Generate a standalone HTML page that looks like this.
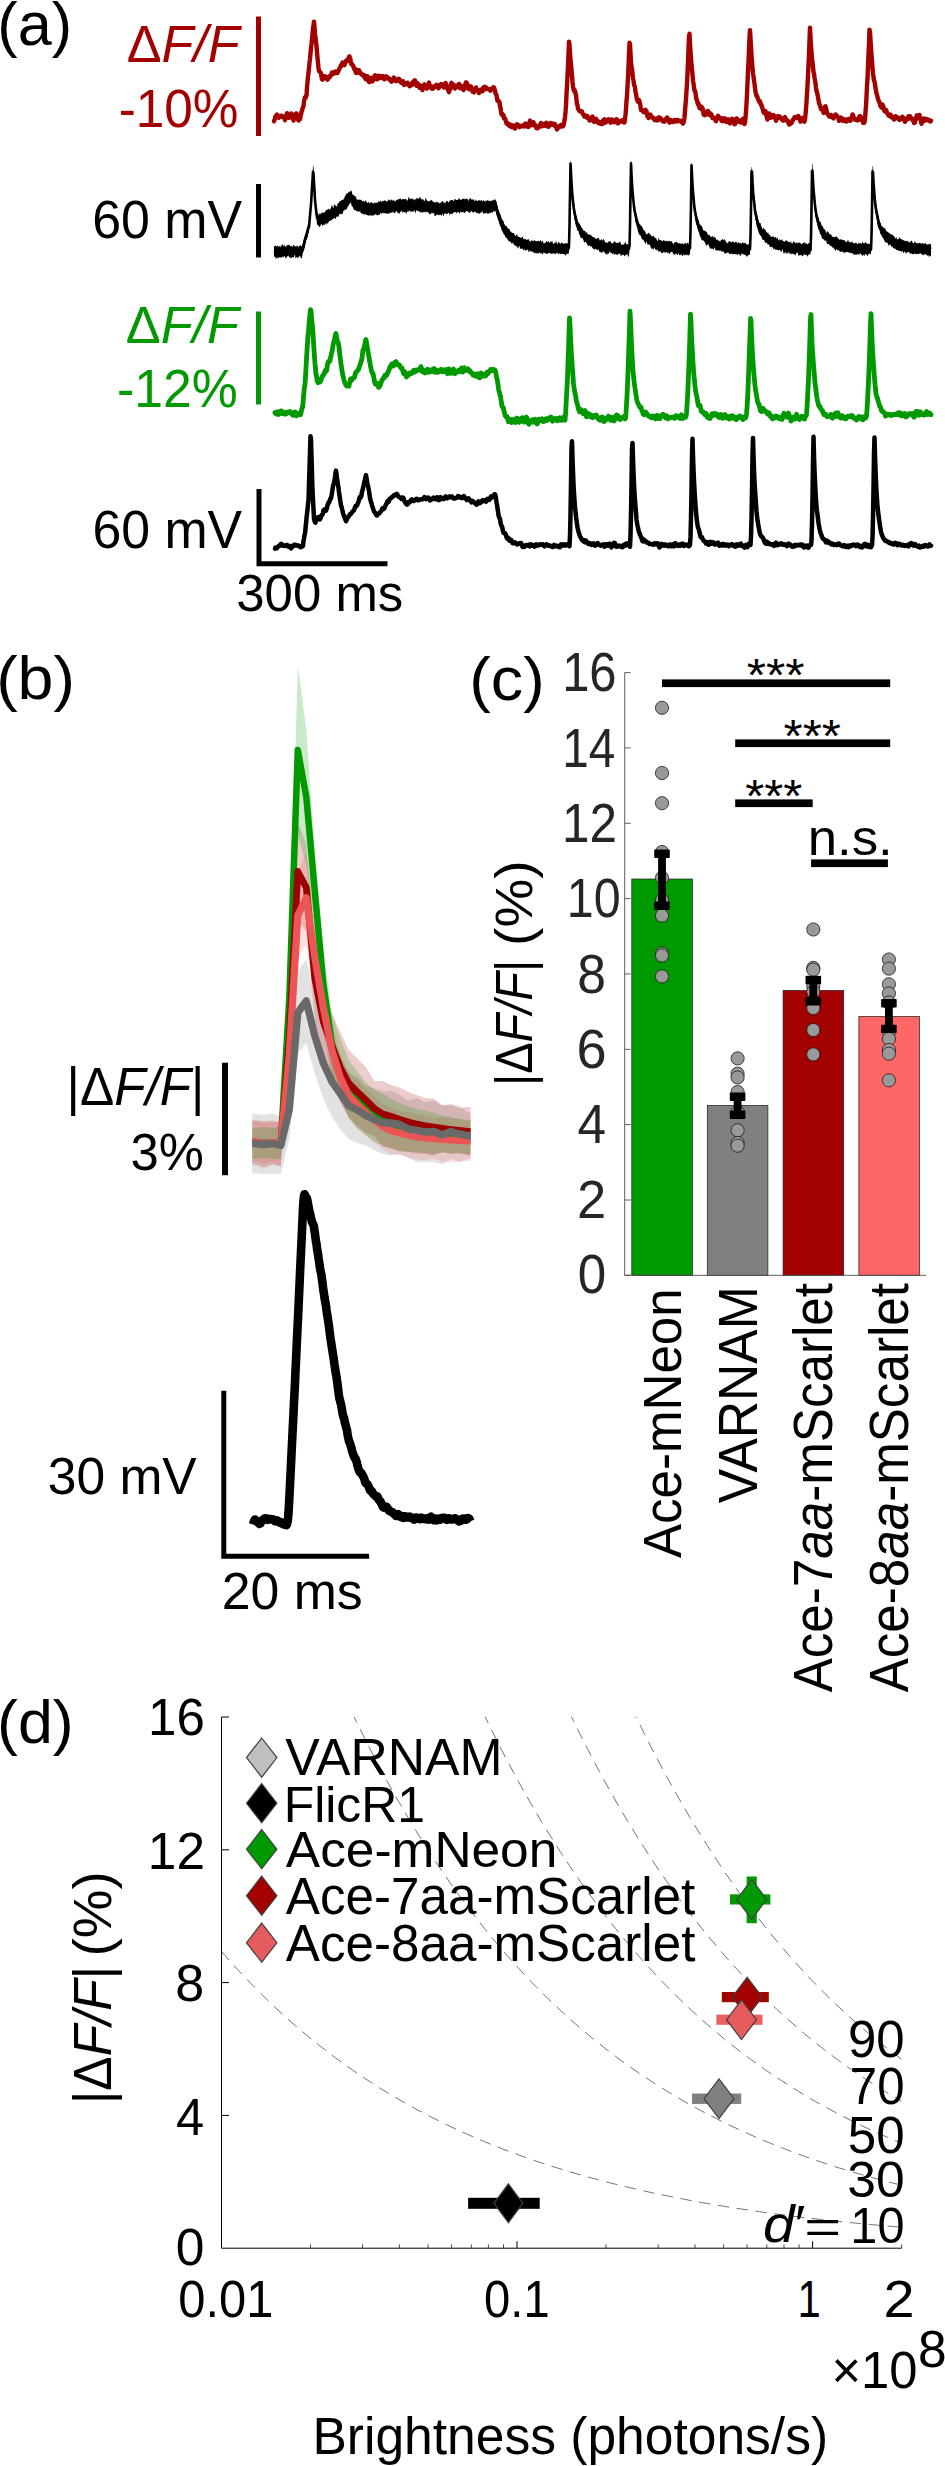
<!DOCTYPE html>
<html lang="en"><head><meta charset="utf-8"><title>Figure</title>
<style>html,body{margin:0;padding:0;background:#fff}svg{display:block}text{font-family:'Liberation Sans', Arial, Helvetica, sans-serif}</style></head><body>
<svg width="945" height="2466" viewBox="0 0 945 2466">
<rect width="945" height="2466" fill="#fff"/>
<path d="M274.0,121.3 L274.5,119.8 L275.0,118.6 L275.5,116.2 L276.0,116.7 L276.5,116.6 L277.0,114.6 L277.5,116.3 L278.0,116.9 L278.5,116.3 L279.0,117.8 L279.5,117.3 L280.0,116.5 L280.5,116.8 L281.0,115.6 L281.5,115.7 L282.0,116.0 L282.5,116.5 L283.0,116.5 L283.5,117.5 L284.0,117.5 L284.5,116.9 L285.0,120.2 L285.5,118.6 L286.0,117.1 L286.5,117.1 L287.0,113.1 L287.5,114.1 L288.0,115.1 L288.5,114.8 L289.0,117.9 L289.5,115.4 L290.0,116.3 L290.5,115.0 L291.0,113.4 L291.5,113.8 L292.0,114.7 L292.5,118.3 L293.0,118.6 L293.5,120.5 L294.0,119.0 L294.5,117.8 L295.0,117.4 L295.5,115.1 L296.0,113.5 L296.5,113.4 L297.0,116.2 L297.5,118.0 L298.0,119.2 L298.5,120.6 L299.0,118.8 L299.5,118.6 L300.0,119.3 L300.5,116.2 L301.0,114.4 L301.5,111.7 L302.0,110.7 L302.5,108.4 L303.0,107.5 L303.5,106.2 L304.0,101.6 L304.5,99.2 L305.0,97.4 L305.5,96.7 L306.0,97.0 L306.5,95.3 L307.0,87.4 L307.5,82.1 L308.0,76.5 L308.5,73.2 L309.0,68.1 L309.5,62.6 L310.0,59.2 L310.5,53.4 L311.0,47.7 L311.5,44.0 L312.0,39.5 L312.5,34.1 L313.0,28.8 L313.5,25.3 L314.0,21.6 L314.5,27.4 L315.0,33.4 L315.5,37.8 L316.0,41.6 L316.5,46.1 L317.0,52.2 L317.5,57.8 L318.0,63.0 L318.5,67.8 L319.0,71.2 L319.5,71.3 L320.0,72.1 L320.5,72.4 L321.0,73.2 L321.5,76.9 L322.0,79.2 L322.5,79.7 L323.0,79.4 L323.5,76.6 L324.0,76.3 L324.5,77.1 L325.0,76.3 L325.5,77.7 L326.0,76.9 L326.5,77.6 L327.0,78.7 L327.5,79.6 L328.0,79.3 L328.5,77.4 L329.0,77.2 L329.5,76.2 L330.0,76.9 L330.5,75.6 L331.0,75.2 L331.5,73.9 L332.0,72.6 L332.5,72.9 L333.0,74.0 L333.5,73.3 L334.0,72.5 L334.5,73.4 L335.0,71.6 L335.5,71.5 L336.0,72.8 L336.5,72.3 L337.0,72.2 L337.5,72.9 L338.0,72.1 L338.5,70.7 L339.0,69.8 L339.5,68.1 L340.0,67.7 L340.5,66.9 L341.0,65.2 L341.5,65.5 L342.0,63.7 L342.5,62.6 L343.0,64.4 L343.5,63.1 L344.0,64.3 L344.5,65.2 L345.0,63.3 L345.5,62.3 L346.0,60.8 L346.5,60.6 L347.0,60.3 L347.5,60.6 L348.0,58.9 L348.5,58.5 L349.0,57.0 L349.5,56.4 L350.0,57.8 L350.5,59.6 L351.0,63.8 L351.5,63.3 L352.0,64.2 L352.5,65.1 L353.0,65.3 L353.5,67.1 L354.0,67.9 L354.5,69.7 L355.0,68.5 L355.5,71.0 L356.0,72.8 L356.5,70.7 L357.0,72.9 L357.5,71.7 L358.0,70.1 L358.5,70.3 L359.0,70.2 L359.5,71.3 L360.0,73.2 L360.5,73.4 L361.0,73.3 L361.5,74.5 L362.0,74.4 L362.5,74.5 L363.0,75.7 L363.5,74.8 L364.0,75.0 L364.5,77.0 L365.0,78.0 L365.5,79.0 L366.0,77.3 L366.5,76.2 L367.0,76.2 L367.5,76.2 L368.0,79.5 L368.5,81.4 L369.0,80.5 L369.5,82.2 L370.0,80.8 L370.5,78.4 L371.0,80.8 L371.5,77.7 L372.0,78.8 L372.5,81.4 L373.0,79.3 L373.5,79.3 L374.0,79.4 L374.5,76.9 L375.0,75.3 L375.5,76.3 L376.0,75.8 L376.5,77.4 L377.0,79.3 L377.5,79.2 L378.0,78.2 L378.5,76.8 L379.0,75.7 L379.5,76.6 L380.0,76.4 L380.5,77.9 L381.0,77.6 L381.5,76.4 L382.0,76.6 L382.5,76.0 L383.0,77.0 L383.5,77.6 L384.0,79.2 L384.5,79.3 L385.0,78.6 L385.5,77.6 L386.0,76.2 L386.5,77.2 L387.0,76.8 L387.5,77.9 L388.0,78.7 L388.5,78.0 L389.0,78.4 L389.5,79.5 L390.0,79.0 L390.5,79.7 L391.0,81.4 L391.5,81.7 L392.0,81.4 L392.5,80.7 L393.0,80.0 L393.5,78.9 L394.0,77.6 L394.5,79.4 L395.0,79.3 L395.5,80.3 L396.0,81.1 L396.5,81.2 L397.0,80.8 L397.5,80.1 L398.0,80.0 L398.5,78.8 L399.0,79.3 L399.5,79.3 L400.0,81.2 L400.5,81.5 L401.0,82.8 L401.5,82.7 L402.0,81.5 L402.5,81.5 L403.0,81.3 L403.5,83.1 L404.0,84.9 L404.5,83.4 L405.0,83.3 L405.5,83.6 L406.0,83.1 L406.5,84.4 L407.0,84.4 L407.5,82.7 L408.0,83.4 L408.5,84.0 L409.0,85.1 L409.5,86.2 L410.0,85.1 L410.5,85.7 L411.0,85.4 L411.5,84.5 L412.0,84.8 L412.5,82.2 L413.0,82.2 L413.5,82.3 L414.0,80.8 L414.5,81.3 L415.0,80.4 L415.5,81.7 L416.0,83.7 L416.5,85.8 L417.0,85.1 L417.5,83.2 L418.0,84.2 L418.5,84.3 L419.0,85.4 L419.5,87.9 L420.0,86.2 L420.5,85.5 L421.0,86.5 L421.5,87.1 L422.0,88.1 L422.5,90.1 L423.0,88.7 L423.5,87.3 L424.0,87.3 L424.5,84.3 L425.0,85.2 L425.5,85.8 L426.0,85.9 L426.5,87.4 L427.0,88.5 L427.5,86.6 L428.0,85.4 L428.5,84.9 L429.0,82.6 L429.5,85.1 L430.0,86.8 L430.5,86.6 L431.0,87.2 L431.5,88.6 L432.0,87.7 L432.5,87.8 L433.0,88.7 L433.5,86.6 L434.0,87.4 L434.5,87.2 L435.0,85.9 L435.5,85.8 L436.0,85.6 L436.5,84.9 L437.0,87.1 L437.5,87.2 L438.0,87.1 L438.5,88.3 L439.0,87.5 L439.5,86.1 L440.0,85.1 L440.5,85.6 L441.0,84.1 L441.5,85.1 L442.0,85.0 L442.5,84.6 L443.0,85.8 L443.5,87.1 L444.0,87.5 L444.5,86.2 L445.0,85.7 L445.5,83.0 L446.0,83.5 L446.5,85.2 L447.0,86.5 L447.5,89.1 L448.0,89.0 L448.5,91.0 L449.0,92.2 L449.5,90.4 L450.0,89.0 L450.5,86.5 L451.0,84.7 L451.5,82.8 L452.0,85.0 L452.5,84.9 L453.0,84.2 L453.5,86.9 L454.0,87.8 L454.5,87.6 L455.0,88.5 L455.5,87.4 L456.0,85.7 L456.5,86.3 L457.0,86.6 L457.5,86.7 L458.0,85.4 L458.5,85.9 L459.0,83.9 L459.5,84.6 L460.0,88.3 L460.5,87.8 L461.0,88.2 L461.5,86.7 L462.0,86.2 L462.5,86.2 L463.0,87.9 L463.5,90.1 L464.0,89.0 L464.5,88.8 L465.0,87.4 L465.5,83.7 L466.0,82.3 L466.5,82.6 L467.0,83.3 L467.5,86.6 L468.0,87.9 L468.5,88.2 L469.0,89.1 L469.5,87.9 L470.0,87.8 L470.5,86.3 L471.0,86.6 L471.5,87.6 L472.0,88.5 L472.5,91.6 L473.0,91.8 L473.5,91.9 L474.0,92.3 L474.5,89.7 L475.0,89.2 L475.5,89.6 L476.0,87.5 L476.5,90.2 L477.0,89.3 L477.5,90.0 L478.0,91.2 L478.5,91.1 L479.0,93.1 L479.5,91.8 L480.0,90.9 L480.5,89.9 L481.0,89.5 L481.5,89.9 L482.0,90.8 L482.5,91.3 L483.0,88.0 L483.5,87.7 L484.0,87.0 L484.5,86.8 L485.0,88.7 L485.5,88.3 L486.0,89.2 L486.5,87.6 L487.0,88.2 L487.5,88.6 L488.0,88.6 L488.5,89.0 L489.0,89.4 L489.5,89.6 L490.0,90.1 L490.5,90.8 L491.0,88.8 L491.5,89.1 L492.0,88.6 L492.5,88.2 L493.0,88.4 L493.5,87.2 L494.0,87.5 L494.5,89.0 L495.0,90.6 L495.5,93.5 L496.0,94.4 L496.5,95.1 L497.0,98.3 L497.5,100.7 L498.0,100.3 L498.5,100.9 L499.0,101.4 L499.5,102.2 L500.0,106.0 L500.5,107.8 L501.0,111.3 L501.5,114.3 L502.0,113.4 L502.5,114.9 L503.0,115.6 L503.5,115.0 L504.0,118.4 L504.5,118.6 L505.0,118.5 L505.5,119.7 L506.0,121.5 L506.5,123.4 L507.0,124.0 L507.5,123.9 L508.0,123.2 L508.5,124.1 L509.0,125.5 L509.5,125.3 L510.0,126.2 L510.5,124.6 L511.0,125.3 L511.5,126.9 L512.0,125.7 L512.5,127.2 L513.0,125.5 L513.5,125.4 L514.0,127.3 L514.5,126.7 L515.0,128.6 L515.5,127.2 L516.0,125.7 L516.5,125.4 L517.0,124.3 L517.5,124.4 L518.0,125.2 L518.5,125.1 L519.0,126.0 L519.5,127.2 L520.0,126.6 L520.5,125.9 L521.0,125.8 L521.5,125.9 L522.0,126.3 L522.5,126.4 L523.0,126.0 L523.5,126.3 L524.0,124.7 L524.5,126.4 L525.0,125.8 L525.5,123.6 L526.0,125.8 L526.5,124.2 L527.0,124.7 L527.5,126.8 L528.0,126.5 L528.5,126.9 L529.0,124.9 L529.5,122.5 L530.0,120.6 L530.5,122.9 L531.0,124.3 L531.5,124.6 L532.0,125.1 L532.5,122.6 L533.0,122.5 L533.5,122.3 L534.0,125.1 L534.5,125.4 L535.0,124.9 L535.5,126.4 L536.0,126.2 L536.5,128.1 L537.0,128.4 L537.5,128.4 L538.0,127.2 L538.5,126.4 L539.0,127.1 L539.5,126.0 L540.0,124.7 L540.5,124.3 L541.0,123.0 L541.5,125.1 L542.0,126.3 L542.5,125.1 L543.0,125.9 L543.5,124.1 L544.0,124.0 L544.5,125.8 L545.0,124.7 L545.5,123.4 L546.0,123.8 L546.5,122.8 L547.0,124.2 L547.5,126.4 L548.0,125.9 L548.5,126.8 L549.0,125.7 L549.5,125.4 L550.0,124.7 L550.5,122.9 L551.0,124.3 L551.5,124.8 L552.0,123.7 L552.5,123.7 L553.0,123.4 L553.5,123.8 L554.0,125.0 L554.5,125.8 L555.0,124.2 L555.5,125.5 L556.0,126.6 L556.5,127.6 L557.0,129.5 L557.5,128.0 L558.0,128.1 L558.5,126.9 L559.0,127.0 L559.5,126.1 L560.0,126.8 L560.5,126.4 L561.0,125.1 L561.5,125.7 L562.0,125.6 L562.5,126.4 L563.0,126.2 L563.5,125.5 L564.0,122.5 L564.5,120.5 L565.0,117.0 L565.5,112.0 L566.0,105.4 L566.5,94.7 L567.0,85.7 L567.5,76.0 L568.0,65.3 L568.5,54.2 L569.0,41.6 L569.5,44.7 L570.0,53.2 L570.5,59.8 L571.0,64.2 L571.5,70.6 L572.0,75.1 L572.5,81.9 L573.0,86.3 L573.5,89.2 L574.0,90.8 L574.5,89.9 L575.0,90.9 L575.5,93.4 L576.0,95.3 L576.5,99.8 L577.0,104.3 L577.5,105.0 L578.0,108.9 L578.5,109.3 L579.0,110.0 L579.5,111.1 L580.0,111.3 L580.5,111.0 L581.0,111.3 L581.5,111.8 L582.0,111.5 L582.5,113.5 L583.0,113.7 L583.5,114.6 L584.0,115.9 L584.5,116.5 L585.0,115.4 L585.5,116.4 L586.0,116.8 L586.5,115.7 L587.0,117.7 L587.5,116.2 L588.0,117.3 L588.5,118.0 L589.0,117.9 L589.5,120.5 L590.0,119.2 L590.5,120.2 L591.0,119.5 L591.5,118.1 L592.0,117.1 L592.5,116.6 L593.0,118.7 L593.5,119.6 L594.0,121.9 L594.5,121.2 L595.0,119.6 L595.5,119.1 L596.0,118.9 L596.5,120.3 L597.0,121.3 L597.5,122.4 L598.0,121.8 L598.5,121.5 L599.0,122.9 L599.5,121.8 L600.0,122.2 L600.5,123.8 L601.0,122.8 L601.5,124.0 L602.0,123.4 L602.5,123.8 L603.0,121.6 L603.5,119.9 L604.0,119.6 L604.5,119.3 L605.0,121.8 L605.5,122.6 L606.0,122.5 L606.5,121.3 L607.0,121.1 L607.5,120.8 L608.0,120.6 L608.5,119.3 L609.0,119.4 L609.5,120.3 L610.0,121.8 L610.5,122.7 L611.0,120.9 L611.5,120.7 L612.0,119.6 L612.5,119.8 L613.0,121.9 L613.5,121.3 L614.0,121.3 L614.5,122.2 L615.0,122.1 L615.5,122.1 L616.0,120.3 L616.5,119.3 L617.0,119.6 L617.5,121.2 L618.0,123.4 L618.5,122.8 L619.0,121.8 L619.5,121.6 L620.0,121.1 L620.5,121.6 L621.0,121.1 L621.5,120.6 L622.0,120.2 L622.5,120.7 L623.0,121.1 L623.5,120.6 L624.0,122.5 L624.5,122.4 L625.0,118.2 L625.5,114.8 L626.0,109.0 L626.5,100.8 L627.0,95.8 L627.5,86.3 L628.0,77.5 L628.5,66.8 L629.0,53.6 L629.5,42.8 L630.0,44.2 L630.5,53.5 L631.0,62.3 L631.5,67.0 L632.0,69.3 L632.5,73.3 L633.0,78.1 L633.5,80.6 L634.0,84.7 L634.5,86.0 L635.0,87.3 L635.5,92.2 L636.0,93.6 L636.5,96.9 L637.0,99.7 L637.5,100.4 L638.0,101.7 L638.5,102.1 L639.0,100.2 L639.5,102.0 L640.0,103.4 L640.5,106.5 L641.0,110.0 L641.5,109.5 L642.0,110.4 L642.5,110.8 L643.0,110.7 L643.5,112.1 L644.0,111.6 L644.5,112.2 L645.0,111.7 L645.5,109.8 L646.0,111.2 L646.5,111.1 L647.0,114.3 L647.5,116.4 L648.0,116.0 L648.5,117.9 L649.0,116.4 L649.5,116.8 L650.0,117.3 L650.5,114.6 L651.0,116.1 L651.5,116.3 L652.0,117.0 L652.5,117.7 L653.0,118.0 L653.5,117.9 L654.0,119.1 L654.5,120.0 L655.0,118.9 L655.5,118.8 L656.0,119.0 L656.5,120.4 L657.0,120.3 L657.5,120.3 L658.0,118.6 L658.5,117.4 L659.0,117.3 L659.5,118.2 L660.0,119.5 L660.5,118.1 L661.0,119.1 L661.5,119.5 L662.0,119.5 L662.5,121.2 L663.0,121.4 L663.5,121.3 L664.0,120.7 L664.5,121.6 L665.0,120.4 L665.5,119.7 L666.0,119.1 L666.5,118.1 L667.0,117.6 L667.5,117.8 L668.0,119.7 L668.5,119.8 L669.0,121.8 L669.5,122.6 L670.0,121.8 L670.5,121.5 L671.0,120.1 L671.5,120.5 L672.0,120.9 L672.5,120.8 L673.0,122.1 L673.5,121.6 L674.0,121.2 L674.5,120.2 L675.0,119.9 L675.5,120.0 L676.0,120.5 L676.5,121.5 L677.0,120.4 L677.5,119.9 L678.0,120.1 L678.5,120.4 L679.0,121.1 L679.5,120.9 L680.0,121.0 L680.5,121.3 L681.0,120.8 L681.5,121.9 L682.0,122.4 L682.5,122.9 L683.0,123.5 L683.5,122.6 L684.0,120.4 L684.5,117.5 L685.0,111.0 L685.5,105.0 L686.0,98.7 L686.5,90.8 L687.0,83.8 L687.5,73.4 L688.0,61.6 L688.5,48.6 L689.0,36.5 L689.5,33.6 L690.0,43.7 L690.5,51.5 L691.0,58.0 L691.5,64.8 L692.0,69.2 L692.5,74.5 L693.0,80.3 L693.5,83.5 L694.0,87.3 L694.5,90.7 L695.0,91.0 L695.5,92.8 L696.0,96.7 L696.5,99.7 L697.0,100.4 L697.5,102.6 L698.0,104.3 L698.5,103.3 L699.0,106.2 L699.5,108.0 L700.0,106.7 L700.5,108.5 L701.0,109.0 L701.5,106.6 L702.0,108.1 L702.5,108.1 L703.0,109.6 L703.5,114.0 L704.0,114.8 L704.5,115.1 L705.0,115.2 L705.5,113.8 L706.0,114.6 L706.5,113.9 L707.0,112.8 L707.5,111.1 L708.0,111.0 L708.5,112.6 L709.0,113.4 L709.5,114.9 L710.0,114.1 L710.5,113.5 L711.0,114.0 L711.5,114.5 L712.0,116.5 L712.5,117.9 L713.0,117.6 L713.5,117.8 L714.0,117.8 L714.5,118.0 L715.0,119.2 L715.5,120.6 L716.0,121.1 L716.5,119.7 L717.0,118.9 L717.5,116.7 L718.0,115.8 L718.5,116.7 L719.0,116.9 L719.5,117.9 L720.0,118.2 L720.5,118.5 L721.0,118.7 L721.5,120.7 L722.0,119.2 L722.5,118.2 L723.0,121.2 L723.5,119.7 L724.0,120.3 L724.5,120.8 L725.0,118.3 L725.5,119.5 L726.0,120.8 L726.5,122.0 L727.0,121.9 L727.5,119.8 L728.0,119.4 L728.5,120.4 L729.0,121.7 L729.5,123.0 L730.0,123.5 L730.5,121.8 L731.0,120.7 L731.5,119.8 L732.0,118.8 L732.5,119.3 L733.0,119.2 L733.5,121.1 L734.0,123.2 L734.5,124.3 L735.0,124.2 L735.5,122.8 L736.0,120.5 L736.5,118.4 L737.0,118.7 L737.5,119.8 L738.0,120.6 L738.5,121.7 L739.0,121.8 L739.5,121.3 L740.0,120.5 L740.5,121.9 L741.0,122.7 L741.5,122.0 L742.0,121.9 L742.5,119.7 L743.0,118.8 L743.5,120.8 L744.0,122.6 L744.5,124.0 L745.0,122.5 L745.5,117.8 L746.0,111.7 L746.5,104.0 L747.0,94.6 L747.5,82.6 L748.0,71.6 L748.5,61.8 L749.0,49.4 L749.5,37.7 L750.0,30.1 L750.5,38.1 L751.0,46.6 L751.5,56.0 L752.0,62.0 L752.5,68.3 L753.0,73.2 L753.5,76.6 L754.0,80.3 L754.5,83.7 L755.0,88.4 L755.5,91.7 L756.0,93.9 L756.5,96.1 L757.0,95.9 L757.5,97.2 L758.0,99.3 L758.5,99.7 L759.0,101.4 L759.5,102.0 L760.0,101.3 L760.5,103.0 L761.0,104.9 L761.5,105.0 L762.0,107.0 L762.5,108.4 L763.0,109.8 L763.5,112.3 L764.0,112.7 L764.5,112.0 L765.0,111.1 L765.5,111.2 L766.0,114.0 L766.5,116.1 L767.0,118.4 L767.5,119.5 L768.0,116.1 L768.5,115.0 L769.0,113.4 L769.5,113.7 L770.0,117.0 L770.5,116.9 L771.0,117.6 L771.5,117.2 L772.0,115.4 L772.5,115.7 L773.0,115.2 L773.5,115.8 L774.0,115.6 L774.5,117.4 L775.0,118.3 L775.5,118.3 L776.0,120.8 L776.5,119.3 L777.0,118.6 L777.5,118.4 L778.0,116.1 L778.5,116.2 L779.0,117.0 L779.5,116.9 L780.0,116.8 L780.5,117.2 L781.0,118.0 L781.5,119.2 L782.0,118.6 L782.5,120.2 L783.0,120.6 L783.5,118.4 L784.0,119.0 L784.5,118.2 L785.0,117.1 L785.5,118.3 L786.0,120.5 L786.5,119.8 L787.0,120.4 L787.5,120.8 L788.0,120.9 L788.5,122.9 L789.0,124.4 L789.5,124.2 L790.0,123.2 L790.5,123.8 L791.0,122.9 L791.5,123.1 L792.0,122.3 L792.5,120.9 L793.0,119.6 L793.5,118.8 L794.0,118.6 L794.5,117.4 L795.0,118.2 L795.5,117.3 L796.0,117.7 L796.5,118.1 L797.0,116.9 L797.5,117.2 L798.0,117.3 L798.5,116.0 L799.0,117.8 L799.5,118.1 L800.0,119.6 L800.5,121.7 L801.0,120.1 L801.5,121.0 L802.0,119.9 L802.5,118.0 L803.0,118.8 L803.5,118.5 L804.0,119.7 L804.5,121.7 L805.0,119.0 L805.5,114.7 L806.0,109.0 L806.5,102.3 L807.0,93.1 L807.5,85.8 L808.0,75.2 L808.5,64.8 L809.0,55.0 L809.5,40.6 L810.0,27.6 L810.5,37.1 L811.0,46.0 L811.5,52.0 L812.0,59.1 L812.5,62.3 L813.0,66.4 L813.5,71.9 L814.0,73.5 L814.5,77.3 L815.0,80.4 L815.5,83.6 L816.0,87.8 L816.5,90.8 L817.0,92.3 L817.5,94.5 L818.0,97.1 L818.5,99.8 L819.0,102.6 L819.5,104.6 L820.0,105.6 L820.5,107.0 L821.0,109.4 L821.5,109.4 L822.0,109.1 L822.5,110.0 L823.0,110.6 L823.5,112.9 L824.0,111.6 L824.5,110.6 L825.0,106.6 L825.5,106.4 L826.0,109.1 L826.5,109.8 L827.0,113.1 L827.5,114.0 L828.0,114.1 L828.5,115.3 L829.0,116.3 L829.5,115.7 L830.0,116.7 L830.5,116.2 L831.0,114.9 L831.5,115.5 L832.0,116.0 L832.5,116.0 L833.0,117.9 L833.5,118.3 L834.0,116.6 L834.5,116.8 L835.0,115.9 L835.5,114.4 L836.0,116.0 L836.5,115.5 L837.0,115.7 L837.5,116.9 L838.0,117.1 L838.5,118.3 L839.0,120.9 L839.5,120.3 L840.0,120.3 L840.5,119.0 L841.0,117.5 L841.5,119.1 L842.0,120.1 L842.5,120.7 L843.0,120.1 L843.5,120.3 L844.0,119.1 L844.5,120.7 L845.0,120.1 L845.5,120.3 L846.0,121.4 L846.5,121.0 L847.0,121.2 L847.5,119.8 L848.0,119.1 L848.5,118.9 L849.0,119.6 L849.5,119.6 L850.0,119.7 L850.5,120.8 L851.0,119.1 L851.5,118.0 L852.0,116.4 L852.5,114.5 L853.0,114.8 L853.5,116.6 L854.0,118.2 L854.5,118.6 L855.0,119.6 L855.5,119.3 L856.0,119.4 L856.5,119.9 L857.0,119.9 L857.5,120.4 L858.0,118.9 L858.5,119.8 L859.0,117.6 L859.5,116.4 L860.0,116.7 L860.5,116.3 L861.0,117.8 L861.5,120.1 L862.0,119.8 L862.5,120.9 L863.0,122.7 L863.5,121.1 L864.0,122.9 L864.5,122.2 L865.0,119.2 L865.5,112.0 L866.0,106.3 L866.5,96.9 L867.0,85.8 L867.5,79.0 L868.0,66.2 L868.5,54.7 L869.0,44.1 L869.5,29.7 L870.0,32.1 L870.5,40.1 L871.0,48.0 L871.5,55.1 L872.0,60.4 L872.5,68.6 L873.0,73.2 L873.5,76.9 L874.0,80.6 L874.5,81.4 L875.0,84.3 L875.5,88.0 L876.0,90.5 L876.5,93.4 L877.0,94.8 L877.5,96.8 L878.0,99.2 L878.5,100.0 L879.0,101.7 L879.5,102.5 L880.0,103.8 L880.5,106.3 L881.0,106.6 L881.5,107.5 L882.0,105.7 L882.5,104.5 L883.0,105.9 L883.5,107.0 L884.0,109.9 L884.5,111.1 L885.0,110.3 L885.5,110.6 L886.0,110.0 L886.5,111.1 L887.0,112.9 L887.5,113.6 L888.0,114.7 L888.5,115.5 L889.0,115.2 L889.5,115.8 L890.0,115.0 L890.5,114.6 L891.0,117.0 L891.5,116.7 L892.0,116.3 L892.5,117.8 L893.0,117.2 L893.5,118.2 L894.0,119.6 L894.5,118.7 L895.0,117.8 L895.5,116.2 L896.0,117.6 L896.5,117.1 L897.0,117.0 L897.5,117.4 L898.0,117.8 L898.5,119.1 L899.0,119.4 L899.5,119.9 L900.0,118.7 L900.5,118.8 L901.0,117.7 L901.5,118.7 L902.0,118.1 L902.5,116.8 L903.0,118.0 L903.5,118.0 L904.0,119.9 L904.5,120.7 L905.0,121.7 L905.5,120.2 L906.0,119.1 L906.5,119.8 L907.0,118.0 L907.5,118.3 L908.0,118.6 L908.5,116.3 L909.0,117.4 L909.5,118.4 L910.0,116.2 L910.5,117.5 L911.0,117.9 L911.5,118.2 L912.0,118.6 L912.5,120.1 L913.0,120.3 L913.5,120.7 L914.0,123.0 L914.5,122.3 L915.0,122.5 L915.5,119.7 L916.0,117.4 L916.5,116.2 L917.0,115.4 L917.5,117.9 L918.0,117.6 L918.5,118.2 L919.0,117.3 L919.5,115.0 L920.0,118.1 L920.5,118.5 L921.0,121.3 L921.5,123.8 L922.0,121.6 L922.5,119.8 L923.0,120.2 L923.5,118.7 L924.0,118.5 L924.5,120.9 L925.0,119.1 L925.5,118.9 L926.0,119.6 L926.5,119.1 L927.0,119.1 L927.5,120.4 L928.0,120.4 L928.5,120.0 L929.0,120.5 L929.5,120.0 L930.0,121.4 L930.5,121.5 L931.0,120.7" fill="none" stroke="#a30000" stroke-width="4.4" stroke-linejoin="round" stroke-linecap="round"/>
<polygon points="274.0,245.9 274.5,246.5 275.0,245.6 275.5,245.7 276.0,246.4 276.5,246.2 277.0,246.1 277.5,245.2 278.0,246.3 278.5,246.8 279.0,246.9 279.5,246.0 280.0,245.3 280.5,246.9 281.0,247.0 281.5,245.5 282.0,244.3 282.5,244.3 283.0,245.5 283.5,246.3 284.0,245.0 284.5,245.3 285.0,246.4 285.5,246.5 286.0,247.0 286.5,245.8 287.0,244.8 287.5,245.2 288.0,245.2 288.5,244.9 289.0,244.4 289.5,245.0 290.0,246.0 290.5,246.5 291.0,245.8 291.5,245.5 292.0,246.9 292.5,246.8 293.0,245.9 293.5,245.3 294.0,244.8 294.5,245.7 295.0,246.6 295.5,246.4 296.0,246.6 296.5,246.5 297.0,245.6 297.5,245.5 298.0,246.7 298.5,247.3 299.0,245.7 299.5,245.7 300.0,245.9 300.5,245.1 301.0,245.6 301.5,246.5 302.0,246.2 302.5,244.3 303.0,242.5 303.5,240.1 304.0,238.5 304.5,236.7 305.0,234.6 305.5,233.4 306.0,231.6 306.5,229.5 307.0,228.6 307.5,226.7 308.0,224.1 308.5,222.5 309.0,221.8 309.5,215.8 310.0,209.0 310.5,203.8 311.0,198.8 311.5,191.4 312.0,183.1 312.5,174.5 313.0,165.0 313.5,166.7 314.0,176.4 314.5,185.9 315.0,195.8 315.5,199.7 316.0,203.2 316.5,207.1 317.0,211.8 317.5,213.9 318.0,214.2 318.5,214.4 319.0,214.9 319.5,213.2 320.0,213.3 320.5,213.6 321.0,214.4 321.5,213.3 322.0,212.3 322.5,212.2 323.0,212.5 323.5,212.9 324.0,212.8 324.5,212.6 325.0,211.7 325.5,211.2 326.0,210.1 326.5,209.7 327.0,210.0 327.5,209.9 328.0,208.7 328.5,208.7 329.0,208.9 329.5,209.3 330.0,210.1 330.5,208.6 331.0,207.9 331.5,206.1 332.0,204.4 332.5,206.5 333.0,208.2 333.5,207.2 334.0,205.3 334.5,204.3 335.0,204.8 335.5,205.8 336.0,206.1 336.5,206.4 337.0,206.3 337.5,204.3 338.0,202.6 338.5,203.2 339.0,203.1 339.5,201.2 340.0,200.7 340.5,201.4 341.0,200.8 341.5,199.9 342.0,199.8 342.5,200.0 343.0,199.9 343.5,199.2 344.0,198.8 344.5,197.5 345.0,196.1 345.5,195.6 346.0,194.4 346.5,193.5 347.0,193.2 347.5,193.2 348.0,193.5 348.5,191.8 349.0,191.4 349.5,192.3 350.0,191.7 350.5,190.6 351.0,190.5 351.5,191.0 352.0,192.3 352.5,194.7 353.0,195.4 353.5,194.4 354.0,195.0 354.5,196.2 355.0,196.4 355.5,196.0 356.0,196.9 356.5,198.9 357.0,199.7 357.5,199.2 358.0,200.1 358.5,199.8 359.0,199.5 359.5,199.8 360.0,199.5 360.5,200.2 361.0,199.6 361.5,199.9 362.0,201.4 362.5,201.2 363.0,200.6 363.5,200.9 364.0,202.1 364.5,201.8 365.0,201.0 365.5,200.3 366.0,200.8 366.5,201.9 367.0,202.2 367.5,203.2 368.0,202.9 368.5,201.7 369.0,202.3 369.5,203.2 370.0,203.4 370.5,202.3 371.0,202.1 371.5,202.6 372.0,202.8 372.5,203.0 373.0,202.7 373.5,204.0 374.0,203.5 374.5,201.9 375.0,203.0 375.5,203.3 376.0,202.3 376.5,202.7 377.0,202.6 377.5,202.9 378.0,202.6 378.5,200.8 379.0,201.6 379.5,202.2 380.0,200.6 380.5,200.4 381.0,201.4 381.5,201.9 382.0,201.5 382.5,201.0 383.0,200.6 383.5,201.3 384.0,201.0 384.5,200.3 385.0,200.5 385.5,200.6 386.0,201.6 386.5,201.5 387.0,201.3 387.5,201.2 388.0,200.3 388.5,199.4 389.0,199.6 389.5,200.5 390.0,200.8 390.5,200.2 391.0,199.3 391.5,199.7 392.0,200.4 392.5,200.6 393.0,200.4 393.5,199.4 394.0,201.1 394.5,201.4 395.0,200.1 395.5,201.5 396.0,201.0 396.5,199.7 397.0,199.6 397.5,200.3 398.0,199.3 398.5,198.5 399.0,199.8 399.5,199.0 400.0,198.4 400.5,198.8 401.0,198.5 401.5,200.0 402.0,199.7 402.5,198.7 403.0,199.5 403.5,198.7 404.0,199.3 404.5,199.6 405.0,198.7 405.5,198.9 406.0,199.0 406.5,199.8 407.0,200.7 407.5,200.5 408.0,199.6 408.5,196.9 409.0,196.9 409.5,199.0 410.0,199.2 410.5,198.5 411.0,198.1 411.5,199.2 412.0,199.0 412.5,198.4 413.0,198.4 413.5,199.5 414.0,200.8 414.5,199.3 415.0,199.4 415.5,199.5 416.0,198.3 416.5,198.4 417.0,198.4 417.5,198.3 418.0,198.2 418.5,198.7 419.0,199.0 419.5,197.3 420.0,196.7 420.5,198.1 421.0,198.6 421.5,199.4 422.0,199.5 422.5,199.4 423.0,199.1 423.5,199.5 424.0,201.4 424.5,201.3 425.0,199.7 425.5,198.1 426.0,198.0 426.5,200.0 427.0,200.8 427.5,200.8 428.0,200.9 428.5,200.9 429.0,201.8 429.5,201.2 430.0,200.3 430.5,200.7 431.0,200.8 431.5,199.7 432.0,200.0 432.5,201.5 433.0,201.2 433.5,202.0 434.0,202.2 434.5,201.9 435.0,202.9 435.5,202.6 436.0,201.3 436.5,202.0 437.0,202.5 437.5,201.8 438.0,203.0 438.5,202.6 439.0,202.2 439.5,203.5 440.0,203.4 440.5,202.9 441.0,202.1 441.5,202.0 442.0,201.4 442.5,200.8 443.0,201.9 443.5,202.4 444.0,201.9 444.5,202.4 445.0,203.7 445.5,203.0 446.0,201.4 446.5,200.7 447.0,201.0 447.5,201.1 448.0,202.2 448.5,202.2 449.0,201.9 449.5,201.2 450.0,200.1 450.5,200.6 451.0,200.3 451.5,200.1 452.0,200.1 452.5,200.0 453.0,200.4 453.5,201.3 454.0,200.7 454.5,199.2 455.0,198.8 455.5,199.6 456.0,199.8 456.5,199.9 457.0,199.9 457.5,200.0 458.0,200.1 458.5,198.6 459.0,198.2 459.5,198.4 460.0,199.2 460.5,200.3 461.0,199.9 461.5,199.2 462.0,199.2 462.5,198.9 463.0,199.0 463.5,198.8 464.0,197.9 464.5,199.2 465.0,199.4 465.5,198.9 466.0,198.6 466.5,198.7 467.0,199.0 467.5,198.4 468.0,200.0 468.5,201.3 469.0,199.7 469.5,198.6 470.0,198.1 470.5,198.0 471.0,199.4 471.5,199.4 472.0,199.2 472.5,199.6 473.0,199.6 473.5,199.4 474.0,200.0 474.5,200.9 475.0,201.4 475.5,199.7 476.0,199.2 476.5,200.9 477.0,201.1 477.5,201.1 478.0,200.8 478.5,200.2 479.0,200.0 479.5,200.2 480.0,200.7 480.5,201.0 481.0,200.0 481.5,199.9 482.0,200.4 482.5,201.5 483.0,201.4 483.5,200.2 484.0,199.8 484.5,201.4 485.0,202.1 485.5,200.7 486.0,200.6 486.5,200.9 487.0,200.8 487.5,200.1 488.0,200.2 488.5,200.8 489.0,200.9 489.5,200.9 490.0,200.8 490.5,200.8 491.0,201.7 491.5,200.4 492.0,200.1 492.5,200.8 493.0,200.3 493.5,200.2 494.0,199.9 494.5,199.6 495.0,199.3 495.5,199.8 496.0,200.8 496.5,201.3 497.0,203.8 497.5,206.2 498.0,208.6 498.5,210.3 499.0,211.0 499.5,212.7 500.0,213.8 500.5,214.7 501.0,216.3 501.5,217.7 502.0,219.2 502.5,219.9 503.0,220.4 503.5,221.3 504.0,222.9 504.5,224.4 505.0,224.7 505.5,226.1 506.0,226.2 506.5,225.7 507.0,227.0 507.5,228.2 508.0,228.3 508.5,228.7 509.0,228.7 509.5,228.8 510.0,231.2 510.5,231.5 511.0,231.4 511.5,232.5 512.0,232.8 512.5,233.0 513.0,233.1 513.5,233.0 514.0,233.2 514.5,234.4 515.0,235.7 515.5,236.0 516.0,235.4 516.5,234.8 517.0,234.3 517.5,235.7 518.0,236.9 518.5,236.6 519.0,237.0 519.5,237.1 520.0,237.2 520.5,237.6 521.0,238.0 521.5,237.9 522.0,237.1 522.5,236.6 523.0,237.6 523.5,239.3 524.0,239.3 524.5,239.3 525.0,238.7 525.5,238.9 526.0,239.5 526.5,240.0 527.0,240.3 527.5,239.6 528.0,238.7 528.5,239.3 529.0,240.0 529.5,240.9 530.0,241.8 530.5,241.3 531.0,241.0 531.5,240.4 532.0,239.9 532.5,241.1 533.0,241.2 533.5,241.0 534.0,240.4 534.5,239.7 535.0,240.7 535.5,241.0 536.0,241.2 536.5,241.1 537.0,241.6 537.5,241.2 538.0,240.8 538.5,240.8 539.0,241.1 539.5,241.2 540.0,241.6 540.5,240.1 541.0,240.1 541.5,242.4 542.0,241.5 542.5,240.6 543.0,241.6 543.5,243.3 544.0,243.6 544.5,243.3 545.0,243.0 545.5,242.6 546.0,241.7 546.5,241.0 547.0,242.0 547.5,242.3 548.0,241.5 548.5,241.1 549.0,241.7 549.5,242.9 550.0,242.5 550.5,241.3 551.0,242.0 551.5,241.8 552.0,240.6 552.5,241.8 553.0,243.7 553.5,243.9 554.0,243.2 554.5,242.6 555.0,243.4 555.5,242.4 556.0,240.2 556.5,242.0 557.0,244.3 557.5,244.0 558.0,242.8 558.5,242.0 559.0,241.9 559.5,242.7 560.0,244.2 560.5,243.9 561.0,242.3 561.5,242.8 562.0,243.1 562.5,242.9 563.0,243.2 563.5,244.0 564.0,243.7 564.5,243.8 565.0,243.3 565.5,243.0 566.0,243.5 566.5,243.4 567.0,243.5 567.5,243.3 568.0,243.2 568.5,243.5 569.0,241.6 569.5,221.0 570.0,188.2 570.5,158.8 571.0,169.4 571.5,178.2 572.0,185.1 572.5,190.6 573.0,195.8 573.5,198.6 574.0,202.3 574.5,206.8 575.0,209.3 575.5,212.0 576.0,214.8 576.5,216.1 577.0,216.9 577.5,220.4 578.0,222.4 578.5,222.1 579.0,223.4 579.5,223.6 580.0,224.5 580.5,225.5 581.0,226.3 581.5,227.7 582.0,227.7 582.5,228.5 583.0,229.6 583.5,230.4 584.0,231.3 584.5,230.8 585.0,230.5 585.5,232.0 586.0,233.4 586.5,231.9 587.0,232.0 587.5,234.3 588.0,234.0 588.5,234.3 589.0,235.2 589.5,234.6 590.0,234.2 590.5,235.1 591.0,235.2 591.5,235.5 592.0,236.6 592.5,236.8 593.0,237.1 593.5,237.1 594.0,237.0 594.5,237.9 595.0,238.2 595.5,238.3 596.0,238.9 596.5,238.9 597.0,238.3 597.5,238.2 598.0,238.3 598.5,237.7 599.0,238.6 599.5,240.0 600.0,240.5 600.5,240.2 601.0,239.5 601.5,238.9 602.0,240.2 602.5,240.7 603.0,239.6 603.5,238.9 604.0,239.5 604.5,240.9 605.0,242.0 605.5,242.5 606.0,242.4 606.5,242.6 607.0,242.6 607.5,242.9 608.0,242.6 608.5,241.6 609.0,241.3 609.5,241.6 610.0,241.5 610.5,241.0 611.0,242.4 611.5,243.2 612.0,243.2 612.5,243.6 613.0,242.9 613.5,242.5 614.0,241.9 614.5,240.7 615.0,241.4 615.5,242.6 616.0,243.0 616.5,242.9 617.0,242.6 617.5,243.0 618.0,243.1 618.5,242.9 619.0,242.6 619.5,241.8 620.0,241.5 620.5,242.3 621.0,244.1 621.5,244.9 622.0,244.4 622.5,244.3 623.0,245.0 623.5,244.5 624.0,244.2 624.5,243.6 625.0,242.1 625.5,242.6 626.0,243.5 626.5,244.3 627.0,244.4 627.5,243.9 628.0,244.6 628.5,245.3 629.0,243.8 629.5,240.6 630.0,221.8 630.5,188.9 631.0,157.9 631.5,168.2 632.0,177.0 632.5,185.0 633.0,190.8 633.5,195.4 634.0,201.1 634.5,204.1 635.0,206.7 635.5,209.8 636.0,212.9 636.5,216.2 637.0,217.5 637.5,218.9 638.0,219.5 638.5,221.3 639.0,223.0 639.5,223.7 640.0,224.5 640.5,224.8 641.0,226.2 641.5,225.9 642.0,226.3 642.5,227.6 643.0,228.9 643.5,230.2 644.0,230.0 644.5,230.4 645.0,231.2 645.5,232.2 646.0,234.1 646.5,234.5 647.0,233.7 647.5,233.9 648.0,233.4 648.5,232.4 649.0,232.9 649.5,233.9 650.0,234.2 650.5,234.7 651.0,235.0 651.5,235.9 652.0,236.7 652.5,236.6 653.0,235.7 653.5,235.8 654.0,236.1 654.5,237.5 655.0,238.4 655.5,237.7 656.0,237.8 656.5,239.0 657.0,240.5 657.5,241.1 658.0,240.5 658.5,238.2 659.0,238.1 659.5,240.2 660.0,240.3 660.5,239.9 661.0,240.2 661.5,240.4 662.0,241.3 662.5,241.5 663.0,240.6 663.5,240.2 664.0,240.1 664.5,240.9 665.0,241.2 665.5,240.6 666.0,241.2 666.5,240.7 667.0,240.9 667.5,241.6 668.0,241.2 668.5,241.1 669.0,241.1 669.5,240.8 670.0,241.1 670.5,242.1 671.0,241.1 671.5,241.0 672.0,242.2 672.5,242.6 673.0,244.1 673.5,244.1 674.0,243.0 674.5,242.3 675.0,242.4 675.5,242.3 676.0,241.8 676.5,241.8 677.0,242.4 677.5,242.9 678.0,243.1 678.5,243.6 679.0,242.8 679.5,243.0 680.0,243.9 680.5,243.1 681.0,244.3 681.5,244.0 682.0,243.1 682.5,243.4 683.0,243.4 683.5,244.4 684.0,244.2 684.5,243.3 685.0,242.9 685.5,242.7 686.0,244.2 686.5,243.9 687.0,242.6 687.5,242.8 688.0,242.9 688.5,243.8 689.0,243.8 689.5,243.6 690.0,241.3 690.5,224.8 691.0,198.4 691.5,160.6 692.0,169.5 692.5,178.3 693.0,187.6 693.5,192.6 694.0,196.2 694.5,201.7 695.0,205.2 695.5,208.6 696.0,212.3 696.5,213.7 697.0,215.4 697.5,217.5 698.0,218.8 698.5,220.0 699.0,221.3 699.5,224.0 700.0,224.7 700.5,224.8 701.0,225.6 701.5,226.1 702.0,226.6 702.5,227.5 703.0,230.0 703.5,230.7 704.0,229.8 704.5,230.4 705.0,231.5 705.5,231.0 706.0,231.3 706.5,232.0 707.0,232.2 707.5,234.0 708.0,235.0 708.5,234.8 709.0,234.4 709.5,235.1 710.0,236.3 710.5,236.8 711.0,236.6 711.5,236.8 712.0,237.2 712.5,235.9 713.0,235.7 713.5,237.5 714.0,237.9 714.5,236.8 715.0,236.7 715.5,237.8 716.0,239.1 716.5,240.2 717.0,239.9 717.5,239.2 718.0,240.1 718.5,240.9 719.0,240.2 719.5,240.9 720.0,242.0 720.5,240.9 721.0,239.8 721.5,239.8 722.0,239.7 722.5,239.1 723.0,239.3 723.5,240.4 724.0,239.9 724.5,238.9 725.0,239.7 725.5,241.2 726.0,241.6 726.5,242.4 727.0,242.9 727.5,243.2 728.0,243.3 728.5,241.5 729.0,241.3 729.5,241.1 730.0,241.2 730.5,242.1 731.0,242.3 731.5,242.2 732.0,242.1 732.5,241.8 733.0,240.9 733.5,241.5 734.0,243.0 734.5,243.0 735.0,241.7 735.5,241.7 736.0,242.3 736.5,242.2 737.0,241.7 737.5,243.7 738.0,243.6 738.5,241.8 739.0,242.4 739.5,243.2 740.0,243.3 740.5,242.7 741.0,243.7 741.5,243.7 742.0,242.9 742.5,242.5 743.0,242.2 743.5,243.1 744.0,243.5 744.5,243.1 745.0,243.1 745.5,243.1 746.0,243.6 746.5,244.6 747.0,244.6 747.5,244.7 748.0,244.8 748.5,243.9 749.0,244.4 749.5,245.3 750.0,244.0 750.5,230.2 751.0,203.5 751.5,166.9 752.0,167.6 752.5,176.3 753.0,182.5 753.5,188.5 754.0,195.8 754.5,200.4 755.0,202.9 755.5,206.1 756.0,210.2 756.5,213.1 757.0,213.5 757.5,215.8 758.0,218.5 758.5,219.9 759.0,222.1 759.5,223.1 760.0,223.0 760.5,223.1 761.0,225.1 761.5,226.8 762.0,227.6 762.5,229.2 763.0,229.1 763.5,227.7 764.0,227.8 764.5,229.5 765.0,230.1 765.5,229.8 766.0,231.2 766.5,232.3 767.0,232.7 767.5,233.0 768.0,232.2 768.5,233.3 769.0,235.3 769.5,234.7 770.0,234.3 770.5,236.2 771.0,237.1 771.5,236.8 772.0,236.9 772.5,236.5 773.0,235.9 773.5,236.5 774.0,237.2 774.5,237.7 775.0,237.5 775.5,236.6 776.0,237.5 776.5,238.9 777.0,237.8 777.5,237.1 778.0,238.9 778.5,240.5 779.0,240.4 779.5,239.0 780.0,239.3 780.5,240.2 781.0,240.3 781.5,240.0 782.0,239.1 782.5,240.3 783.0,241.4 783.5,240.9 784.0,241.2 784.5,241.9 785.0,241.2 785.5,240.6 786.0,240.7 786.5,240.1 787.0,240.8 787.5,241.4 788.0,241.5 788.5,242.0 789.0,241.7 789.5,241.8 790.0,242.9 790.5,242.0 791.0,241.2 791.5,242.7 792.0,244.1 792.5,243.5 793.0,242.0 793.5,241.5 794.0,241.4 794.5,242.2 795.0,242.5 795.5,243.2 796.0,243.5 796.5,242.2 797.0,242.7 797.5,243.3 798.0,243.0 798.5,242.8 799.0,242.1 799.5,242.8 800.0,243.0 800.5,243.1 801.0,244.2 801.5,244.0 802.0,243.7 802.5,243.6 803.0,243.3 803.5,243.1 804.0,242.2 804.5,242.0 805.0,243.4 805.5,243.4 806.0,243.0 806.5,243.3 807.0,244.2 807.5,244.6 808.0,243.9 808.5,243.1 809.0,242.9 809.5,243.4 810.0,243.4 810.5,243.6 811.0,230.3 811.5,201.8 812.0,163.9 812.5,164.1 813.0,174.2 813.5,182.6 814.0,189.4 814.5,194.6 815.0,198.9 815.5,204.1 816.0,207.5 816.5,209.6 817.0,213.1 817.5,216.2 818.0,216.4 818.5,217.3 819.0,219.3 819.5,221.6 820.0,221.9 820.5,221.6 821.0,223.1 821.5,225.2 822.0,226.1 822.5,225.7 823.0,226.9 823.5,228.4 824.0,229.1 824.5,229.2 825.0,229.7 825.5,230.7 826.0,231.9 826.5,233.1 827.0,232.3 827.5,231.0 828.0,231.5 828.5,232.0 829.0,233.1 829.5,234.3 830.0,234.2 830.5,234.6 831.0,234.2 831.5,235.2 832.0,236.7 832.5,236.5 833.0,236.9 833.5,236.5 834.0,237.5 834.5,237.6 835.0,236.2 835.5,236.9 836.0,236.9 836.5,236.0 837.0,236.9 837.5,238.0 838.0,238.1 838.5,238.4 839.0,239.0 839.5,239.9 840.0,239.5 840.5,239.5 841.0,239.5 841.5,238.9 842.0,239.8 842.5,240.2 843.0,240.1 843.5,240.5 844.0,240.0 844.5,240.1 845.0,240.7 845.5,241.9 846.0,241.8 846.5,241.6 847.0,242.3 847.5,240.7 848.0,239.6 848.5,240.8 849.0,242.6 849.5,242.2 850.0,241.8 850.5,242.0 851.0,242.5 851.5,242.2 852.0,240.7 852.5,242.2 853.0,243.5 853.5,243.2 854.0,242.4 854.5,243.2 855.0,243.5 855.5,242.6 856.0,243.2 856.5,242.8 857.0,243.4 857.5,244.6 858.0,244.0 858.5,242.9 859.0,242.7 859.5,243.6 860.0,243.2 860.5,243.1 861.0,243.7 861.5,243.7 862.0,243.2 862.5,241.6 863.0,242.4 863.5,243.7 864.0,243.2 864.5,243.6 865.0,242.7 865.5,242.1 866.0,242.6 866.5,243.3 867.0,244.2 867.5,243.8 868.0,243.5 868.5,244.0 869.0,243.5 869.5,243.9 870.0,244.7 870.5,243.6 871.0,243.3 871.5,230.0 872.0,203.2 872.5,166.2 873.0,166.3 873.5,175.1 874.0,182.0 874.5,188.9 875.0,193.9 875.5,198.6 876.0,203.7 876.5,206.4 877.0,208.8 877.5,211.5 878.0,213.7 878.5,215.7 879.0,217.9 879.5,220.7 880.0,222.4 880.5,222.5 881.0,223.9 881.5,226.2 882.0,226.9 882.5,226.6 883.0,226.4 883.5,227.7 884.0,228.2 884.5,228.2 885.0,228.6 885.5,228.8 886.0,230.4 886.5,231.3 887.0,231.5 887.5,231.8 888.0,232.1 888.5,232.7 889.0,232.8 889.5,233.2 890.0,233.6 890.5,234.0 891.0,234.8 891.5,234.6 892.0,234.4 892.5,234.5 893.0,235.0 893.5,236.0 894.0,236.6 894.5,236.6 895.0,237.9 895.5,238.9 896.0,237.3 896.5,237.0 897.0,239.6 897.5,239.8 898.0,238.4 898.5,239.2 899.0,238.3 899.5,237.2 900.0,238.1 900.5,239.0 901.0,239.4 901.5,239.0 902.0,239.1 902.5,240.1 903.0,240.4 903.5,240.1 904.0,240.2 904.5,241.0 905.0,241.1 905.5,240.7 906.0,240.8 906.5,240.8 907.0,241.8 907.5,241.6 908.0,240.5 908.5,241.8 909.0,242.3 909.5,242.2 910.0,242.4 910.5,241.5 911.0,241.1 911.5,240.6 912.0,240.9 912.5,242.7 913.0,242.8 913.5,243.5 914.0,242.7 914.5,241.3 915.0,242.1 915.5,242.2 916.0,243.0 916.5,243.2 917.0,243.2 917.5,243.5 918.0,242.9 918.5,243.4 919.0,242.7 919.5,242.7 920.0,243.1 920.5,243.0 921.0,244.1 921.5,243.6 922.0,242.9 922.5,243.3 923.0,243.4 923.5,243.7 924.0,243.5 924.5,243.4 925.0,243.7 925.5,242.8 926.0,243.6 926.5,244.5 927.0,244.2 927.5,244.4 928.0,244.8 928.5,244.5 929.0,243.7 929.5,243.7 930.0,244.6 930.5,244.2 931.0,243.0 931.0,255.6 930.5,256.0 930.0,255.4 929.5,256.3 929.0,257.4 928.5,255.6 928.0,255.1 927.5,256.0 927.0,255.6 926.5,255.1 926.0,254.6 925.5,254.6 925.0,254.1 924.5,253.7 924.0,255.6 923.5,255.3 923.0,254.3 922.5,254.5 922.0,255.2 921.5,254.3 921.0,252.8 920.5,253.6 920.0,254.2 919.5,253.6 919.0,253.6 918.5,254.0 918.0,253.7 917.5,254.2 917.0,254.2 916.5,253.9 916.0,254.1 915.5,254.0 915.0,253.7 914.5,253.2 914.0,253.8 913.5,254.7 913.0,254.1 912.5,254.0 912.0,254.0 911.5,252.9 911.0,254.0 910.5,254.0 910.0,252.8 909.5,252.7 909.0,251.9 908.5,251.9 908.0,252.5 907.5,252.4 907.0,252.0 906.5,252.9 906.0,253.7 905.5,253.1 905.0,251.6 904.5,251.2 904.0,252.6 903.5,253.1 903.0,252.7 902.5,251.0 902.0,250.9 901.5,251.9 901.0,251.5 900.5,250.9 900.0,250.8 899.5,251.0 899.0,251.0 898.5,250.5 898.0,250.5 897.5,249.8 897.0,250.0 896.5,250.5 896.0,248.9 895.5,248.8 895.0,249.3 894.5,248.5 894.0,248.1 893.5,248.6 893.0,247.9 892.5,246.5 892.0,246.4 891.5,246.9 891.0,245.8 890.5,244.8 890.0,244.5 889.5,244.5 889.0,245.8 888.5,245.6 888.0,244.0 887.5,243.0 887.0,242.4 886.5,242.6 886.0,242.4 885.5,242.6 885.0,241.9 884.5,240.7 884.0,240.1 883.5,238.5 883.0,238.1 882.5,237.3 882.0,237.2 881.5,235.2 881.0,234.0 880.5,234.6 880.0,231.9 879.5,230.3 879.0,229.6 878.5,228.6 878.0,227.0 877.5,224.9 877.0,221.3 876.5,217.8 876.0,214.8 875.5,211.4 875.0,207.2 874.5,201.0 874.0,194.5 873.5,186.6 873.0,177.7 872.5,177.6 872.0,213.6 871.5,239.8 871.0,253.5 870.5,254.2 870.0,254.2 869.5,253.5 869.0,253.3 868.5,254.4 868.0,255.3 867.5,255.9 867.0,255.2 866.5,254.4 866.0,254.4 865.5,253.5 865.0,254.5 864.5,256.2 864.0,255.0 863.5,254.6 863.0,255.7 862.5,255.8 862.0,255.5 861.5,254.6 861.0,254.1 860.5,253.7 860.0,253.1 859.5,253.8 859.0,255.6 858.5,254.8 858.0,254.0 857.5,254.3 857.0,254.1 856.5,255.1 856.0,254.6 855.5,254.3 855.0,254.9 854.5,254.6 854.0,254.9 853.5,254.3 853.0,253.7 852.5,253.2 852.0,253.2 851.5,253.4 851.0,252.9 850.5,252.4 850.0,252.8 849.5,253.0 849.0,252.8 848.5,252.2 848.0,251.7 847.5,252.1 847.0,252.1 846.5,251.8 846.0,252.8 845.5,252.6 845.0,252.0 844.5,252.4 844.0,253.2 843.5,253.0 843.0,251.2 842.5,251.7 842.0,251.8 841.5,251.5 841.0,252.0 840.5,251.5 840.0,251.8 839.5,251.4 839.0,249.5 838.5,250.4 838.0,250.7 837.5,250.0 837.0,249.5 836.5,248.9 836.0,250.1 835.5,250.9 835.0,250.1 834.5,249.2 834.0,248.5 833.5,247.8 833.0,247.6 832.5,247.4 832.0,247.3 831.5,246.2 831.0,245.6 830.5,245.9 830.0,246.0 829.5,244.9 829.0,243.8 828.5,244.2 828.0,244.0 827.5,243.9 827.0,243.9 826.5,241.9 826.0,239.9 825.5,240.6 825.0,241.4 824.5,240.4 824.0,239.6 823.5,239.2 823.0,239.3 822.5,238.8 822.0,238.1 821.5,236.9 821.0,234.6 820.5,234.3 820.0,234.4 819.5,231.8 819.0,229.7 818.5,229.6 818.0,228.1 817.5,225.2 817.0,223.6 816.5,221.2 816.0,217.9 815.5,216.4 815.0,212.0 814.5,206.0 814.0,201.8 813.5,195.3 813.0,185.9 812.5,176.7 812.0,177.2 811.5,214.6 811.0,241.3 810.5,254.2 810.0,254.3 809.5,254.4 809.0,254.2 808.5,254.6 808.0,255.9 807.5,256.7 807.0,255.5 806.5,254.5 806.0,255.2 805.5,255.0 805.0,254.5 804.5,254.5 804.0,254.1 803.5,254.9 803.0,256.3 802.5,256.0 802.0,255.8 801.5,255.2 801.0,254.5 800.5,255.2 800.0,255.3 799.5,254.9 799.0,256.0 798.5,255.8 798.0,254.0 797.5,252.5 797.0,252.6 796.5,253.3 796.0,253.5 795.5,255.7 795.0,254.9 794.5,253.8 794.0,254.7 793.5,254.2 793.0,253.2 792.5,253.4 792.0,254.5 791.5,254.2 791.0,252.9 790.5,253.4 790.0,254.5 789.5,253.6 789.0,251.8 788.5,252.5 788.0,254.1 787.5,253.0 787.0,252.5 786.5,253.9 786.0,253.5 785.5,252.2 785.0,252.2 784.5,252.9 784.0,253.9 783.5,253.3 783.0,251.4 782.5,249.0 782.0,249.7 781.5,252.0 781.0,252.1 780.5,250.9 780.0,249.8 779.5,250.0 779.0,250.3 778.5,250.2 778.0,250.0 777.5,250.2 777.0,250.1 776.5,249.5 776.0,249.6 775.5,249.9 775.0,249.2 774.5,248.6 774.0,248.9 773.5,249.5 773.0,247.9 772.5,246.9 772.0,247.4 771.5,247.0 771.0,246.5 770.5,247.3 770.0,247.3 769.5,246.1 769.0,244.9 768.5,243.9 768.0,244.7 767.5,244.6 767.0,242.6 766.5,242.4 766.0,243.1 765.5,243.0 765.0,242.6 764.5,240.9 764.0,240.1 763.5,239.5 763.0,239.9 762.5,239.9 762.0,238.1 761.5,236.9 761.0,236.2 760.5,235.6 760.0,235.1 759.5,234.3 759.0,233.4 758.5,232.0 758.0,230.3 757.5,228.5 757.0,227.1 756.5,225.2 756.0,221.8 755.5,219.5 755.0,215.7 754.5,210.5 754.0,206.4 753.5,200.6 753.0,193.9 752.5,186.9 752.0,178.6 751.5,178.0 751.0,214.6 750.5,240.8 750.0,253.9 749.5,254.9 749.0,255.3 748.5,255.1 748.0,254.9 747.5,256.4 747.0,256.2 746.5,256.4 746.0,256.2 745.5,254.6 745.0,254.7 744.5,254.9 744.0,254.0 743.5,254.3 743.0,254.9 742.5,254.1 742.0,253.1 741.5,253.7 741.0,255.5 740.5,255.8 740.0,255.4 739.5,254.7 739.0,254.0 738.5,253.8 738.0,254.1 737.5,254.9 737.0,255.4 736.5,254.0 736.0,253.7 735.5,254.6 735.0,253.8 734.5,253.9 734.0,254.1 733.5,253.9 733.0,254.3 732.5,254.4 732.0,253.4 731.5,253.6 731.0,254.0 730.5,253.8 730.0,254.5 729.5,254.3 729.0,253.0 728.5,252.4 728.0,252.9 727.5,252.4 727.0,252.6 726.5,253.2 726.0,253.3 725.5,253.3 725.0,253.8 724.5,253.6 724.0,252.1 723.5,251.3 723.0,252.1 722.5,251.4 722.0,250.6 721.5,252.3 721.0,251.2 720.5,249.9 720.0,251.1 719.5,251.1 719.0,249.9 718.5,250.8 718.0,250.6 717.5,250.4 717.0,250.2 716.5,250.3 716.0,251.0 715.5,250.2 715.0,248.1 714.5,247.2 714.0,249.2 713.5,249.8 713.0,249.1 712.5,248.7 712.0,248.6 711.5,248.9 711.0,248.2 710.5,248.5 710.0,248.8 709.5,247.2 709.0,246.0 708.5,244.4 708.0,243.6 707.5,245.0 707.0,245.2 706.5,245.4 706.0,245.5 705.5,244.0 705.0,242.6 704.5,242.0 704.0,241.0 703.5,240.5 703.0,240.6 702.5,240.4 702.0,239.9 701.5,239.8 701.0,238.2 700.5,237.0 700.0,236.5 699.5,234.5 699.0,232.5 698.5,231.4 698.0,230.4 697.5,228.1 697.0,226.2 696.5,224.7 696.0,223.2 695.5,220.6 695.0,216.6 694.5,212.7 694.0,208.8 693.5,203.0 693.0,197.3 692.5,191.3 692.0,181.9 691.5,171.3 691.0,209.5 690.5,237.5 690.0,254.1 689.5,255.0 689.0,254.6 688.5,255.5 688.0,255.7 687.5,254.9 687.0,254.1 686.5,254.9 686.0,255.7 685.5,254.6 685.0,255.0 684.5,255.4 684.0,254.2 683.5,254.6 683.0,255.9 682.5,255.8 682.0,255.8 681.5,254.7 681.0,253.8 680.5,255.2 680.0,254.9 679.5,255.5 679.0,254.5 678.5,252.5 678.0,254.2 677.5,255.3 677.0,254.8 676.5,253.9 676.0,253.0 675.5,253.8 675.0,255.0 674.5,254.5 674.0,254.3 673.5,254.6 673.0,253.6 672.5,252.2 672.0,251.6 671.5,251.7 671.0,252.3 670.5,252.5 670.0,253.1 669.5,254.6 669.0,253.6 668.5,252.3 668.0,253.2 667.5,253.3 667.0,252.1 666.5,252.0 666.0,252.5 665.5,252.2 665.0,252.9 664.5,252.6 664.0,251.3 663.5,252.2 663.0,252.9 662.5,252.9 662.0,253.1 661.5,253.1 661.0,252.2 660.5,251.3 660.0,251.6 659.5,251.2 659.0,251.5 658.5,251.7 658.0,251.1 657.5,249.6 657.0,249.5 656.5,250.7 656.0,249.6 655.5,249.7 655.0,249.1 654.5,247.3 654.0,248.6 653.5,249.5 653.0,248.5 652.5,248.4 652.0,249.8 651.5,248.5 651.0,247.5 650.5,247.1 650.0,245.1 649.5,244.4 649.0,244.4 648.5,244.6 648.0,244.7 647.5,244.2 647.0,242.9 646.5,241.1 646.0,242.7 645.5,244.2 645.0,242.7 644.5,242.0 644.0,241.2 643.5,239.9 643.0,239.6 642.5,239.5 642.0,239.0 641.5,238.6 641.0,236.2 640.5,235.4 640.0,235.5 639.5,234.7 639.0,233.9 638.5,233.0 638.0,231.7 637.5,229.2 637.0,227.0 636.5,225.0 636.0,222.9 635.5,221.4 635.0,218.8 634.5,214.6 634.0,211.0 633.5,207.5 633.0,202.4 632.5,195.7 632.0,188.9 631.5,180.4 631.0,169.5 630.5,199.4 630.0,229.2 629.5,249.7 629.0,255.5 628.5,256.8 628.0,256.7 627.5,254.6 627.0,253.5 626.5,254.9 626.0,255.1 625.5,255.0 625.0,256.0 624.5,256.2 624.0,255.2 623.5,255.0 623.0,254.9 622.5,254.4 622.0,254.6 621.5,255.9 621.0,256.3 620.5,254.8 620.0,253.7 619.5,253.9 619.0,253.5 618.5,253.8 618.0,254.4 617.5,254.5 617.0,255.3 616.5,254.6 616.0,254.1 615.5,254.0 615.0,254.6 614.5,254.9 614.0,254.0 613.5,253.0 613.0,253.7 612.5,254.3 612.0,253.4 611.5,252.5 611.0,253.3 610.5,252.9 610.0,251.1 609.5,251.6 609.0,253.7 608.5,253.9 608.0,252.6 607.5,253.9 607.0,255.0 606.5,254.5 606.0,253.4 605.5,253.7 605.0,253.6 604.5,252.3 604.0,251.9 603.5,251.5 603.0,251.2 602.5,252.5 602.0,252.6 601.5,252.6 601.0,252.8 600.5,252.1 600.0,252.1 599.5,252.2 599.0,250.3 598.5,249.2 598.0,250.1 597.5,250.6 597.0,249.7 596.5,249.2 596.0,249.5 595.5,249.0 595.0,248.7 594.5,249.6 594.0,249.5 593.5,248.6 593.0,248.8 592.5,247.9 592.0,247.3 591.5,246.4 591.0,245.9 590.5,246.9 590.0,245.7 589.5,245.3 589.0,245.8 588.5,246.0 588.0,246.0 587.5,244.7 587.0,243.8 586.5,243.3 586.0,241.9 585.5,241.7 585.0,242.2 584.5,242.6 584.0,242.3 583.5,240.3 583.0,239.2 582.5,238.1 582.0,238.1 581.5,238.5 581.0,237.6 580.5,237.4 580.0,235.8 579.5,234.6 579.0,233.7 578.5,230.9 578.0,230.5 577.5,230.9 577.0,229.2 576.5,227.1 576.0,226.2 575.5,224.0 575.0,220.7 574.5,219.2 574.0,216.0 573.5,210.8 573.0,206.1 572.5,202.1 572.0,197.4 571.5,189.1 571.0,180.5 570.5,171.1 570.0,200.6 569.5,231.6 569.0,251.2 568.5,254.1 568.0,254.2 567.5,253.8 567.0,253.3 566.5,254.4 566.0,254.6 565.5,255.7 565.0,255.5 564.5,254.1 564.0,254.0 563.5,254.0 563.0,254.2 562.5,253.6 562.0,254.1 561.5,254.1 561.0,253.6 560.5,254.2 560.0,254.0 559.5,253.2 559.0,253.4 558.5,254.7 558.0,253.8 557.5,252.6 557.0,253.0 556.5,253.0 556.0,254.0 555.5,254.5 555.0,253.1 554.5,253.8 554.0,254.3 553.5,253.2 553.0,253.2 552.5,253.6 552.0,254.0 551.5,253.6 551.0,253.5 550.5,253.9 550.0,253.2 549.5,252.8 549.0,253.1 548.5,252.9 548.0,253.4 547.5,253.6 547.0,253.8 546.5,254.3 546.0,253.5 545.5,252.9 545.0,253.5 544.5,253.3 544.0,252.2 543.5,252.5 543.0,254.2 542.5,254.6 542.0,253.5 541.5,253.1 541.0,253.3 540.5,253.8 540.0,252.9 539.5,252.3 539.0,253.6 538.5,253.3 538.0,252.6 537.5,253.5 537.0,253.6 536.5,253.5 536.0,253.1 535.5,252.7 535.0,253.5 534.5,252.9 534.0,252.6 533.5,252.9 533.0,251.6 532.5,251.6 532.0,251.7 531.5,251.2 531.0,252.0 530.5,251.3 530.0,249.9 529.5,251.0 529.0,252.2 528.5,251.9 528.0,249.7 527.5,249.4 527.0,250.3 526.5,250.1 526.0,250.6 525.5,250.6 525.0,250.4 524.5,249.6 524.0,249.2 523.5,250.2 523.0,250.1 522.5,248.8 522.0,247.9 521.5,248.9 521.0,249.1 520.5,248.9 520.0,248.0 519.5,245.9 519.0,246.0 518.5,247.9 518.0,248.9 517.5,247.1 517.0,246.4 516.5,246.4 516.0,246.3 515.5,246.1 515.0,244.9 514.5,245.2 514.0,245.1 513.5,243.7 513.0,242.2 512.5,242.9 512.0,244.6 511.5,243.2 511.0,242.4 510.5,242.1 510.0,240.9 509.5,241.9 509.0,241.3 508.5,240.4 508.0,240.8 507.5,238.9 507.0,238.4 506.5,237.8 506.0,237.7 505.5,237.3 505.0,235.7 504.5,235.1 504.0,234.4 503.5,233.8 503.0,232.6 502.5,231.6 502.0,231.0 501.5,229.8 501.0,227.6 500.5,226.7 500.0,225.6 499.5,224.2 499.0,222.6 498.5,220.6 498.0,219.9 497.5,218.0 497.0,215.8 496.5,215.4 496.0,213.1 495.5,210.7 495.0,211.4 494.5,211.7 494.0,210.9 493.5,210.9 493.0,212.2 492.5,212.9 492.0,211.9 491.5,212.2 491.0,212.8 490.5,213.2 490.0,213.3 489.5,212.6 489.0,213.2 488.5,213.7 488.0,213.5 487.5,213.7 487.0,213.5 486.5,212.6 486.0,212.9 485.5,213.2 485.0,213.2 484.5,213.4 484.0,213.8 483.5,213.5 483.0,213.2 482.5,211.8 482.0,210.6 481.5,212.4 481.0,213.4 480.5,212.3 480.0,213.1 479.5,214.3 479.0,213.3 478.5,213.3 478.0,213.3 477.5,213.2 477.0,213.3 476.5,212.9 476.0,212.3 475.5,212.1 475.0,212.0 474.5,211.3 474.0,212.6 473.5,212.9 473.0,211.4 472.5,212.5 472.0,211.8 471.5,210.8 471.0,211.5 470.5,211.8 470.0,212.7 469.5,212.7 469.0,212.5 468.5,212.1 468.0,211.6 467.5,211.5 467.0,211.0 466.5,210.9 466.0,211.4 465.5,212.1 465.0,212.4 464.5,212.9 464.0,213.2 463.5,212.1 463.0,211.7 462.5,211.9 462.0,212.3 461.5,212.8 461.0,211.8 460.5,211.6 460.0,212.5 459.5,213.5 459.0,213.6 458.5,212.1 458.0,211.5 457.5,211.8 457.0,213.1 456.5,213.5 456.0,212.2 455.5,212.0 455.0,212.4 454.5,211.7 454.0,212.0 453.5,212.7 453.0,213.2 452.5,213.9 452.0,213.7 451.5,214.1 451.0,213.5 450.5,213.6 450.0,214.7 449.5,214.8 449.0,213.6 448.5,212.5 448.0,212.9 447.5,213.8 447.0,214.2 446.5,213.8 446.0,214.0 445.5,213.4 445.0,212.9 444.5,213.3 444.0,215.3 443.5,216.5 443.0,214.5 442.5,213.5 442.0,215.1 441.5,215.9 441.0,215.0 440.5,214.8 440.0,214.6 439.5,214.7 439.0,215.7 438.5,215.1 438.0,214.3 437.5,215.1 437.0,214.8 436.5,214.5 436.0,215.6 435.5,215.8 435.0,215.9 434.5,215.7 434.0,213.3 433.5,212.7 433.0,213.8 432.5,212.9 432.0,212.4 431.5,213.1 431.0,213.7 430.5,214.0 430.0,214.3 429.5,214.5 429.0,213.2 428.5,213.1 428.0,212.3 427.5,211.8 427.0,212.5 426.5,211.7 426.0,211.5 425.5,212.5 425.0,212.5 424.5,211.8 424.0,211.8 423.5,212.2 423.0,212.0 422.5,212.9 422.0,212.3 421.5,211.5 421.0,213.3 420.5,212.6 420.0,211.2 419.5,211.7 419.0,212.1 418.5,211.0 418.0,211.0 417.5,211.0 417.0,210.6 416.5,209.9 416.0,211.8 415.5,213.5 415.0,212.0 414.5,210.6 414.0,210.3 413.5,211.5 413.0,211.7 412.5,211.6 412.0,211.9 411.5,211.4 411.0,211.3 410.5,211.5 410.0,211.4 409.5,210.7 409.0,210.3 408.5,211.4 408.0,212.3 407.5,211.2 407.0,211.4 406.5,213.4 406.0,213.5 405.5,212.6 405.0,212.1 404.5,212.6 404.0,211.9 403.5,211.6 403.0,212.0 402.5,212.6 402.0,212.6 401.5,210.3 401.0,210.9 400.5,212.1 400.0,212.4 399.5,214.1 399.0,213.5 398.5,212.4 398.0,212.9 397.5,212.5 397.0,212.2 396.5,211.1 396.0,211.3 395.5,212.2 395.0,213.3 394.5,213.3 394.0,212.6 393.5,212.8 393.0,211.6 392.5,212.1 392.0,213.3 391.5,212.5 391.0,212.3 390.5,213.1 390.0,212.8 389.5,213.1 389.0,214.1 388.5,213.7 388.0,212.9 387.5,213.7 387.0,213.5 386.5,213.5 386.0,213.9 385.5,213.2 385.0,213.4 384.5,213.0 384.0,212.8 383.5,213.5 383.0,212.6 382.5,212.7 382.0,214.3 381.5,213.8 381.0,212.6 380.5,213.2 380.0,213.8 379.5,214.6 379.0,215.0 378.5,214.7 378.0,215.1 377.5,215.5 377.0,215.3 376.5,214.7 376.0,214.4 375.5,213.8 375.0,214.4 374.5,215.2 374.0,215.2 373.5,215.1 373.0,215.8 372.5,215.8 372.0,214.8 371.5,215.7 371.0,216.1 370.5,215.5 370.0,214.2 369.5,215.5 369.0,216.6 368.5,215.4 368.0,214.9 367.5,215.2 367.0,215.3 366.5,214.5 366.0,215.1 365.5,213.9 365.0,213.4 364.5,214.9 364.0,214.8 363.5,213.7 363.0,214.1 362.5,213.8 362.0,213.3 361.5,213.7 361.0,213.3 360.5,212.2 360.0,210.9 359.5,210.9 359.0,212.2 358.5,212.1 358.0,211.6 357.5,211.1 357.0,210.9 356.5,211.4 356.0,210.3 355.5,210.5 355.0,210.3 354.5,209.9 354.0,210.1 353.5,208.8 353.0,207.7 352.5,206.6 352.0,206.0 351.5,205.6 351.0,202.6 350.5,202.2 350.0,203.9 349.5,204.0 349.0,204.6 348.5,205.4 348.0,206.4 347.5,206.9 347.0,208.5 346.5,209.3 346.0,209.7 345.5,209.5 345.0,209.5 344.5,210.3 344.0,210.4 343.5,210.7 343.0,212.4 342.5,214.0 342.0,213.8 341.5,214.1 341.0,214.4 340.5,214.0 340.0,213.6 339.5,213.9 339.0,215.1 338.5,216.4 338.0,216.9 337.5,216.6 337.0,216.5 336.5,216.5 336.0,218.1 335.5,219.1 335.0,219.1 334.5,217.7 334.0,218.0 333.5,219.0 333.0,218.4 332.5,218.9 332.0,220.5 331.5,220.6 331.0,219.9 330.5,220.5 330.0,220.9 329.5,221.0 329.0,221.3 328.5,222.5 328.0,223.1 327.5,223.5 327.0,223.3 326.5,224.2 326.0,225.1 325.5,223.0 325.0,223.7 324.5,225.6 324.0,224.5 323.5,224.8 323.0,225.6 322.5,225.9 322.0,224.9 321.5,223.7 321.0,224.3 320.5,225.7 320.0,226.4 319.5,227.0 319.0,226.7 318.5,225.9 318.0,225.0 317.5,224.7 317.0,224.5 316.5,219.6 316.0,215.0 315.5,209.3 315.0,206.9 314.5,198.9 314.0,187.7 313.5,178.3 313.0,176.0 312.5,184.5 312.0,192.8 311.5,201.9 311.0,210.7 310.5,216.0 310.0,221.7 309.5,226.1 309.0,230.5 308.5,231.6 308.0,235.1 307.5,237.5 307.0,238.8 306.5,240.0 306.0,240.4 305.5,243.4 305.0,246.3 304.5,248.4 304.0,250.1 303.5,250.9 303.0,252.0 302.5,254.4 302.0,257.5 301.5,258.7 301.0,258.3 300.5,256.7 300.0,256.3 299.5,256.3 299.0,256.3 298.5,257.3 298.0,258.0 297.5,257.9 297.0,256.9 296.5,256.8 296.0,258.6 295.5,258.3 295.0,255.0 294.5,255.1 294.0,257.2 293.5,257.7 293.0,257.0 292.5,257.1 292.0,257.4 291.5,257.7 291.0,258.2 290.5,258.0 290.0,257.5 289.5,257.0 289.0,256.8 288.5,256.0 288.0,255.4 287.5,256.2 287.0,256.8 286.5,258.0 286.0,258.5 285.5,257.4 285.0,257.2 284.5,256.0 284.0,256.1 283.5,257.7 283.0,257.0 282.5,256.5 282.0,257.5 281.5,257.4 281.0,257.3 280.5,257.5 280.0,257.4 279.5,257.1 279.0,257.8 278.5,258.3 278.0,258.0 277.5,257.4 277.0,257.0 276.5,258.5 276.0,259.3 275.5,257.8 275.0,256.2 274.5,256.7 274.0,257.3" fill="#000"/>
<path d="M274.0,250.6 L274.5,250.7 L275.0,251.6 L275.5,252.0 L276.0,251.4 L276.5,251.9 L277.0,252.5 L277.5,252.2 L278.0,251.4 L278.5,251.2 L279.0,252.0 L279.5,251.3 L280.0,250.3 L280.5,250.7 L281.0,251.6 L281.5,251.9 L282.0,251.7 L282.5,251.7 L283.0,251.6 L283.5,252.0 L284.0,253.2 L284.5,252.9 L285.0,252.1 L285.5,251.8 L286.0,251.9 L286.5,252.1 L287.0,251.6 L287.5,251.4 L288.0,251.1 L288.5,251.1 L289.0,251.0 L289.5,250.7 L290.0,251.7 L290.5,252.3 L291.0,252.0 L291.5,252.0 L292.0,251.2 L292.5,251.0 L293.0,251.2 L293.5,250.9 L294.0,251.2 L294.5,251.5 L295.0,251.6 L295.5,251.6 L296.0,251.5 L296.5,251.4 L297.0,252.0 L297.5,252.7 L298.0,252.7 L298.5,251.8 L299.0,251.6 L299.5,252.0 L300.0,252.2 L300.5,252.3 L301.0,252.4 L301.5,252.1 L302.0,251.6 L302.5,249.0 L303.0,247.5 L303.5,246.3 L304.0,243.8 L304.5,241.6 L305.0,239.9 L305.5,238.0 L306.0,237.0 L306.5,235.2 L307.0,233.7 L307.5,232.0 L308.0,229.2 L308.5,227.6 L309.0,226.9 L309.5,221.5 L310.0,215.6 L310.5,209.6 L311.0,204.4 L311.5,196.3 L312.0,187.7 L312.5,180.2 L313.0,171.7 L313.5,173.5 L314.0,182.4 L314.5,190.9 L315.0,200.0 L315.5,205.0 L316.0,209.4 L316.5,213.5 L317.0,217.7 L317.5,217.8 L318.0,219.0 L318.5,220.2 L319.0,221.0 L319.5,221.2 L320.0,221.1 L320.5,220.2 L321.0,219.8 L321.5,219.9 L322.0,219.5 L322.5,218.4 L323.0,217.9 L323.5,218.4 L324.0,218.7 L324.5,218.4 L325.0,217.4 L325.5,217.7 L326.0,217.9 L326.5,216.9 L327.0,216.8 L327.5,216.9 L328.0,216.4 L328.5,215.7 L329.0,215.2 L329.5,215.4 L330.0,215.2 L330.5,214.8 L331.0,213.9 L331.5,213.2 L332.0,213.5 L332.5,213.2 L333.0,212.3 L333.5,212.1 L334.0,213.0 L334.5,212.9 L335.0,211.9 L335.5,211.2 L336.0,210.5 L336.5,210.4 L337.0,210.2 L337.5,209.6 L338.0,209.8 L338.5,209.9 L339.0,209.4 L339.5,208.1 L340.0,207.3 L340.5,207.9 L341.0,207.3 L341.5,206.9 L342.0,207.0 L342.5,206.5 L343.0,205.9 L343.5,204.8 L344.0,204.2 L344.5,204.5 L345.0,204.1 L345.5,202.6 L346.0,202.3 L346.5,201.6 L347.0,200.6 L347.5,200.7 L348.0,200.2 L348.5,199.5 L349.0,198.7 L349.5,197.1 L350.0,196.5 L350.5,196.7 L351.0,197.1 L351.5,198.3 L352.0,199.5 L352.5,200.4 L353.0,201.6 L353.5,202.8 L354.0,202.8 L354.5,202.4 L355.0,202.4 L355.5,203.2 L356.0,203.6 L356.5,204.4 L357.0,205.9 L357.5,205.3 L358.0,205.5 L358.5,205.5 L359.0,205.1 L359.5,205.9 L360.0,206.2 L360.5,206.2 L361.0,206.7 L361.5,207.4 L362.0,207.8 L362.5,208.0 L363.0,208.4 L363.5,207.8 L364.0,207.3 L364.5,206.9 L365.0,207.4 L365.5,207.2 L366.0,207.0 L366.5,207.2 L367.0,207.3 L367.5,208.4 L368.0,208.4 L368.5,208.0 L369.0,208.2 L369.5,208.6 L370.0,208.3 L370.5,208.3 L371.0,208.8 L371.5,208.5 L372.0,208.3 L372.5,209.0 L373.0,209.5 L373.5,209.1 L374.0,208.5 L374.5,208.2 L375.0,207.9 L375.5,207.4 L376.0,207.6 L376.5,207.9 L377.0,207.5 L377.5,207.2 L378.0,207.7 L378.5,207.9 L379.0,207.2 L379.5,208.0 L380.0,207.8 L380.5,207.1 L381.0,207.3 L381.5,207.4 L382.0,207.7 L382.5,207.7 L383.0,207.6 L383.5,206.9 L384.0,207.3 L384.5,207.5 L385.0,206.9 L385.5,206.8 L386.0,206.6 L386.5,206.7 L387.0,207.5 L387.5,207.9 L388.0,207.4 L388.5,207.0 L389.0,207.2 L389.5,206.7 L390.0,206.9 L390.5,207.2 L391.0,206.0 L391.5,206.1 L392.0,206.4 L392.5,206.2 L393.0,206.8 L393.5,206.5 L394.0,206.3 L394.5,206.9 L395.0,206.3 L395.5,205.1 L396.0,205.5 L396.5,206.1 L397.0,206.8 L397.5,207.2 L398.0,206.6 L398.5,206.2 L399.0,205.3 L399.5,204.8 L400.0,205.4 L400.5,205.9 L401.0,205.8 L401.5,205.7 L402.0,206.1 L402.5,205.8 L403.0,205.4 L403.5,205.3 L404.0,205.8 L404.5,205.4 L405.0,205.2 L405.5,206.1 L406.0,205.2 L406.5,204.7 L407.0,205.8 L407.5,205.6 L408.0,205.0 L408.5,205.2 L409.0,205.9 L409.5,206.1 L410.0,205.4 L410.5,204.6 L411.0,204.3 L411.5,204.9 L412.0,204.6 L412.5,204.3 L413.0,205.2 L413.5,205.0 L414.0,204.6 L414.5,205.0 L415.0,205.3 L415.5,204.9 L416.0,204.6 L416.5,205.0 L417.0,205.0 L417.5,204.4 L418.0,204.5 L418.5,204.9 L419.0,204.8 L419.5,204.8 L420.0,205.6 L420.5,206.0 L421.0,206.2 L421.5,206.0 L422.0,205.3 L422.5,206.1 L423.0,206.1 L423.5,205.9 L424.0,206.5 L424.5,206.3 L425.0,205.7 L425.5,205.9 L426.0,206.5 L426.5,206.8 L427.0,207.0 L427.5,206.9 L428.0,206.3 L428.5,206.1 L429.0,206.3 L429.5,206.5 L430.0,206.7 L430.5,206.7 L431.0,206.6 L431.5,207.0 L432.0,207.7 L432.5,207.9 L433.0,207.5 L433.5,208.1 L434.0,208.9 L434.5,208.6 L435.0,208.2 L435.5,207.8 L436.0,207.5 L436.5,208.2 L437.0,209.4 L437.5,210.0 L438.0,209.7 L438.5,208.8 L439.0,208.6 L439.5,208.2 L440.0,207.9 L440.5,208.0 L441.0,207.9 L441.5,208.7 L442.0,209.4 L442.5,208.9 L443.0,208.2 L443.5,207.5 L444.0,207.1 L444.5,208.1 L445.0,208.6 L445.5,208.3 L446.0,208.0 L446.5,208.2 L447.0,207.9 L447.5,207.2 L448.0,208.2 L448.5,207.8 L449.0,206.9 L449.5,207.0 L450.0,207.3 L450.5,207.3 L451.0,206.6 L451.5,206.6 L452.0,206.9 L452.5,206.6 L453.0,205.8 L453.5,206.0 L454.0,206.4 L454.5,206.5 L455.0,206.5 L455.5,206.1 L456.0,206.2 L456.5,206.5 L457.0,206.7 L457.5,206.6 L458.0,205.5 L458.5,205.4 L459.0,206.0 L459.5,206.0 L460.0,206.1 L460.5,206.0 L461.0,206.1 L461.5,206.1 L462.0,206.1 L462.5,205.8 L463.0,204.4 L463.5,204.4 L464.0,206.2 L464.5,206.4 L465.0,205.3 L465.5,205.4 L466.0,205.3 L466.5,205.2 L467.0,205.4 L467.5,206.0 L468.0,206.3 L468.5,205.6 L469.0,205.4 L469.5,205.4 L470.0,204.8 L470.5,205.1 L471.0,205.3 L471.5,205.3 L472.0,205.7 L472.5,205.8 L473.0,206.4 L473.5,206.4 L474.0,205.8 L474.5,205.6 L475.0,206.0 L475.5,206.1 L476.0,205.9 L476.5,206.1 L477.0,206.2 L477.5,206.5 L478.0,206.6 L478.5,206.5 L479.0,206.5 L479.5,206.0 L480.0,206.6 L480.5,207.6 L481.0,207.1 L481.5,207.1 L482.0,207.3 L482.5,206.7 L483.0,207.0 L483.5,206.7 L484.0,206.2 L484.5,207.2 L485.0,206.8 L485.5,207.1 L486.0,207.3 L486.5,207.2 L487.0,207.3 L487.5,207.1 L488.0,207.2 L488.5,207.8 L489.0,207.9 L489.5,207.5 L490.0,207.6 L490.5,207.1 L491.0,206.6 L491.5,206.5 L492.0,206.8 L492.5,206.7 L493.0,206.4 L493.5,205.9 L494.0,205.8 L494.5,205.3 L495.0,204.8 L495.5,204.3 L496.0,205.7 L496.5,208.2 L497.0,209.8 L497.5,211.2 L498.0,213.7 L498.5,215.8 L499.0,217.4 L499.5,219.0 L500.0,220.2 L500.5,221.4 L501.0,222.5 L501.5,223.8 L502.0,224.3 L502.5,224.8 L503.0,226.7 L503.5,228.0 L504.0,228.6 L504.5,229.0 L505.0,230.1 L505.5,230.9 L506.0,231.0 L506.5,232.2 L507.0,233.1 L507.5,233.4 L508.0,233.6 L508.5,233.2 L509.0,234.5 L509.5,236.5 L510.0,236.0 L510.5,235.7 L511.0,237.2 L511.5,237.9 L512.0,238.1 L512.5,238.5 L513.0,238.5 L513.5,239.2 L514.0,240.3 L514.5,240.4 L515.0,239.5 L515.5,240.3 L516.0,241.4 L516.5,241.3 L517.0,242.2 L517.5,242.8 L518.0,242.3 L518.5,242.5 L519.0,242.9 L519.5,242.6 L520.0,242.6 L520.5,242.4 L521.0,242.0 L521.5,242.9 L522.0,244.1 L522.5,243.9 L523.0,244.0 L523.5,244.5 L524.0,244.9 L524.5,244.9 L525.0,245.4 L525.5,245.8 L526.0,244.9 L526.5,244.9 L527.0,244.5 L527.5,244.6 L528.0,245.3 L528.5,245.5 L529.0,245.6 L529.5,244.5 L530.0,243.8 L530.5,244.7 L531.0,245.2 L531.5,245.9 L532.0,246.0 L532.5,245.9 L533.0,246.3 L533.5,246.8 L534.0,247.0 L534.5,246.6 L535.0,246.3 L535.5,246.4 L536.0,247.1 L536.5,247.0 L537.0,247.0 L537.5,246.8 L538.0,246.5 L538.5,247.1 L539.0,247.1 L539.5,247.5 L540.0,247.9 L540.5,247.3 L541.0,246.8 L541.5,247.0 L542.0,247.2 L542.5,247.1 L543.0,247.0 L543.5,247.4 L544.0,247.9 L544.5,247.8 L545.0,248.1 L545.5,247.2 L546.0,247.0 L546.5,247.8 L547.0,248.0 L547.5,248.3 L548.0,248.3 L548.5,248.6 L549.0,247.8 L549.5,247.0 L550.0,248.1 L550.5,249.1 L551.0,248.4 L551.5,248.3 L552.0,248.9 L552.5,248.1 L553.0,247.6 L553.5,248.2 L554.0,248.4 L554.5,249.0 L555.0,249.2 L555.5,249.0 L556.0,248.5 L556.5,247.8 L557.0,247.9 L557.5,248.8 L558.0,249.7 L558.5,249.0 L559.0,248.3 L559.5,247.7 L560.0,248.2 L560.5,248.7 L561.0,248.6 L561.5,249.5 L562.0,248.7 L562.5,248.0 L563.0,248.7 L563.5,249.5 L564.0,249.1 L564.5,248.3 L565.0,248.6 L565.5,249.5 L566.0,249.0 L566.5,248.3 L567.0,249.1 L567.5,249.4 L568.0,248.8 L568.5,248.7 L569.0,246.0 L569.5,226.1 L570.0,194.0 L570.5,163.5 L571.0,173.2 L571.5,182.2 L572.0,190.2 L572.5,196.3 L573.0,201.3 L573.5,205.7 L574.0,209.8 L574.5,212.9 L575.0,214.9 L575.5,217.8 L576.0,220.2 L576.5,221.6 L577.0,223.6 L577.5,225.0 L578.0,226.2 L578.5,227.1 L579.0,228.6 L579.5,229.5 L580.0,230.4 L580.5,231.3 L581.0,231.4 L581.5,232.4 L582.0,233.6 L582.5,234.5 L583.0,234.6 L583.5,234.7 L584.0,235.8 L584.5,236.7 L585.0,237.0 L585.5,237.4 L586.0,237.5 L586.5,238.3 L587.0,239.0 L587.5,239.5 L588.0,239.9 L588.5,239.4 L589.0,239.9 L589.5,240.8 L590.0,240.7 L590.5,240.0 L591.0,240.0 L591.5,241.5 L592.0,241.8 L592.5,242.2 L593.0,242.8 L593.5,243.0 L594.0,242.7 L594.5,243.1 L595.0,243.8 L595.5,243.8 L596.0,243.2 L596.5,243.1 L597.0,244.2 L597.5,244.7 L598.0,244.0 L598.5,244.2 L599.0,245.0 L599.5,245.5 L600.0,245.8 L600.5,245.8 L601.0,245.6 L601.5,245.0 L602.0,245.2 L602.5,246.4 L603.0,246.2 L603.5,246.2 L604.0,246.3 L604.5,245.6 L605.0,246.3 L605.5,246.6 L606.0,246.6 L606.5,246.5 L607.0,246.8 L607.5,247.6 L608.0,247.1 L608.5,247.1 L609.0,247.8 L609.5,248.0 L610.0,247.1 L610.5,247.2 L611.0,247.7 L611.5,247.4 L612.0,247.7 L612.5,247.5 L613.0,247.4 L613.5,247.6 L614.0,248.0 L614.5,248.6 L615.0,248.5 L615.5,248.5 L616.0,248.7 L616.5,248.9 L617.0,248.5 L617.5,248.1 L618.0,248.6 L618.5,248.7 L619.0,248.9 L619.5,249.1 L620.0,249.1 L620.5,249.0 L621.0,248.9 L621.5,248.7 L622.0,248.6 L622.5,249.1 L623.0,249.6 L623.5,249.7 L624.0,249.3 L624.5,248.9 L625.0,249.9 L625.5,250.4 L626.0,249.0 L626.5,248.9 L627.0,249.6 L627.5,249.2 L628.0,249.0 L628.5,248.9 L629.0,248.8 L629.5,245.7 L630.0,225.2 L630.5,193.3 L631.0,163.3 L631.5,174.1 L632.0,183.5 L632.5,190.5 L633.0,196.2 L633.5,201.7 L634.0,206.2 L634.5,210.4 L635.0,212.8 L635.5,214.1 L636.0,217.0 L636.5,220.1 L637.0,222.6 L637.5,223.9 L638.0,225.1 L638.5,226.5 L639.0,227.9 L639.5,229.8 L640.0,229.8 L640.5,230.8 L641.0,232.8 L641.5,232.7 L642.0,233.2 L642.5,234.0 L643.0,234.6 L643.5,235.4 L644.0,236.1 L644.5,236.1 L645.0,236.5 L645.5,237.2 L646.0,237.3 L646.5,238.3 L647.0,238.7 L647.5,238.9 L648.0,239.6 L648.5,239.9 L649.0,239.7 L649.5,240.2 L650.0,241.0 L650.5,241.9 L651.0,241.8 L651.5,241.7 L652.0,242.2 L652.5,242.0 L653.0,243.1 L653.5,243.4 L654.0,243.3 L654.5,243.6 L655.0,243.3 L655.5,243.4 L656.0,243.8 L656.5,244.0 L657.0,245.0 L657.5,245.4 L658.0,244.4 L658.5,245.0 L659.0,245.9 L659.5,245.8 L660.0,246.3 L660.5,245.9 L661.0,245.6 L661.5,246.0 L662.0,245.9 L662.5,246.0 L663.0,246.3 L663.5,246.9 L664.0,247.3 L664.5,247.1 L665.0,247.4 L665.5,246.6 L666.0,246.3 L666.5,247.3 L667.0,247.5 L667.5,248.0 L668.0,248.0 L668.5,248.1 L669.0,248.0 L669.5,247.9 L670.0,248.1 L670.5,247.8 L671.0,248.0 L671.5,248.4 L672.0,248.0 L672.5,248.2 L673.0,248.5 L673.5,248.2 L674.0,247.4 L674.5,247.5 L675.0,247.8 L675.5,248.1 L676.0,248.6 L676.5,248.2 L677.0,248.4 L677.5,248.2 L678.0,248.3 L678.5,248.4 L679.0,248.3 L679.5,249.1 L680.0,249.7 L680.5,249.9 L681.0,249.4 L681.5,248.6 L682.0,248.9 L682.5,249.8 L683.0,249.4 L683.5,249.3 L684.0,249.6 L684.5,248.2 L685.0,248.3 L685.5,249.9 L686.0,250.2 L686.5,249.9 L687.0,249.9 L687.5,248.9 L688.0,248.0 L688.5,248.2 L689.0,248.9 L689.5,249.0 L690.0,247.8 L690.5,232.0 L691.0,204.2 L691.5,165.4 L692.0,174.9 L692.5,184.1 L693.0,191.6 L693.5,196.9 L694.0,203.2 L694.5,208.6 L695.0,211.4 L695.5,213.7 L696.0,216.4 L696.5,219.0 L697.0,221.2 L697.5,223.5 L698.0,224.9 L698.5,226.4 L699.0,227.5 L699.5,228.6 L700.0,229.0 L700.5,230.1 L701.0,231.8 L701.5,233.2 L702.0,234.1 L702.5,233.1 L703.0,234.2 L703.5,235.4 L704.0,235.1 L704.5,235.8 L705.0,237.2 L705.5,238.4 L706.0,238.3 L706.5,238.1 L707.0,238.8 L707.5,238.9 L708.0,239.0 L708.5,239.6 L709.0,240.1 L709.5,240.9 L710.0,240.6 L710.5,240.7 L711.0,241.8 L711.5,242.4 L712.0,242.4 L712.5,242.1 L713.0,242.6 L713.5,242.7 L714.0,242.7 L714.5,243.0 L715.0,243.2 L715.5,243.3 L716.0,243.5 L716.5,243.8 L717.0,243.9 L717.5,243.9 L718.0,244.7 L718.5,245.5 L719.0,245.3 L719.5,245.0 L720.0,245.4 L720.5,245.8 L721.0,245.7 L721.5,246.0 L722.0,246.1 L722.5,246.6 L723.0,246.5 L723.5,246.0 L724.0,246.5 L724.5,246.7 L725.0,247.0 L725.5,247.5 L726.0,247.9 L726.5,248.0 L727.0,247.5 L727.5,247.2 L728.0,247.3 L728.5,247.8 L729.0,248.0 L729.5,247.4 L730.0,247.2 L730.5,247.8 L731.0,247.9 L731.5,246.8 L732.0,247.4 L732.5,248.5 L733.0,248.6 L733.5,248.9 L734.0,248.9 L734.5,248.7 L735.0,248.6 L735.5,248.3 L736.0,247.6 L736.5,247.2 L737.0,248.1 L737.5,249.1 L738.0,249.1 L738.5,248.6 L739.0,248.8 L739.5,249.1 L740.0,248.9 L740.5,248.8 L741.0,248.5 L741.5,248.3 L742.0,248.9 L742.5,249.8 L743.0,250.3 L743.5,249.7 L744.0,249.3 L744.5,249.4 L745.0,249.3 L745.5,249.5 L746.0,249.8 L746.5,249.3 L747.0,249.6 L747.5,250.0 L748.0,249.0 L748.5,249.9 L749.0,249.9 L749.5,249.1 L750.0,249.2 L750.5,236.3 L751.0,208.5 L751.5,171.2 L752.0,171.7 L752.5,181.3 L753.0,190.3 L753.5,196.5 L754.0,200.9 L754.5,205.6 L755.0,210.6 L755.5,213.6 L756.0,215.6 L756.5,218.6 L757.0,220.4 L757.5,221.7 L758.0,223.8 L758.5,225.5 L759.0,227.2 L759.5,228.3 L760.0,228.6 L760.5,229.2 L761.0,230.5 L761.5,231.9 L762.0,233.1 L762.5,233.9 L763.0,233.8 L763.5,234.4 L764.0,235.2 L764.5,236.1 L765.0,236.7 L765.5,236.7 L766.0,237.1 L766.5,238.0 L767.0,238.6 L767.5,239.6 L768.0,240.5 L768.5,239.5 L769.0,239.5 L769.5,240.6 L770.0,241.3 L770.5,241.4 L771.0,241.6 L771.5,241.1 L772.0,240.8 L772.5,241.9 L773.0,242.5 L773.5,242.5 L774.0,243.2 L774.5,242.8 L775.0,242.1 L775.5,243.2 L776.0,243.9 L776.5,243.8 L777.0,244.6 L777.5,244.8 L778.0,244.6 L778.5,245.0 L779.0,244.6 L779.5,245.3 L780.0,246.2 L780.5,245.5 L781.0,245.9 L781.5,246.0 L782.0,245.5 L782.5,245.5 L783.0,245.8 L783.5,246.1 L784.0,246.4 L784.5,246.5 L785.0,246.7 L785.5,247.2 L786.0,247.3 L786.5,247.4 L787.0,247.4 L787.5,247.1 L788.0,246.4 L788.5,246.9 L789.0,247.2 L789.5,247.3 L790.0,247.9 L790.5,247.8 L791.0,247.9 L791.5,248.2 L792.0,247.9 L792.5,247.9 L793.0,248.7 L793.5,248.9 L794.0,249.0 L794.5,248.7 L795.0,248.3 L795.5,249.1 L796.0,249.4 L796.5,248.9 L797.0,249.1 L797.5,248.7 L798.0,248.4 L798.5,248.9 L799.0,249.0 L799.5,249.4 L800.0,249.6 L800.5,249.4 L801.0,249.0 L801.5,248.7 L802.0,249.0 L802.5,249.3 L803.0,249.5 L803.5,249.3 L804.0,249.4 L804.5,250.1 L805.0,250.0 L805.5,249.0 L806.0,249.5 L806.5,250.2 L807.0,249.9 L807.5,249.8 L808.0,249.0 L808.5,248.9 L809.0,249.5 L809.5,250.2 L810.0,250.3 L810.5,250.2 L811.0,236.6 L811.5,208.4 L812.0,170.8 L812.5,170.7 L813.0,179.9 L813.5,188.5 L814.0,194.7 L814.5,199.8 L815.0,205.4 L815.5,209.4 L816.0,212.6 L816.5,215.6 L817.0,218.1 L817.5,219.5 L818.0,221.8 L818.5,224.3 L819.0,225.1 L819.5,226.2 L820.0,227.6 L820.5,229.0 L821.0,229.7 L821.5,229.9 L822.0,230.7 L822.5,232.3 L823.0,233.2 L823.5,233.6 L824.0,234.1 L824.5,234.7 L825.0,235.5 L825.5,235.8 L826.0,236.9 L826.5,237.7 L827.0,237.4 L827.5,238.7 L828.0,239.1 L828.5,238.3 L829.0,238.4 L829.5,239.8 L830.0,240.8 L830.5,240.7 L831.0,241.4 L831.5,241.6 L832.0,241.8 L832.5,242.6 L833.0,242.8 L833.5,242.7 L834.0,243.0 L834.5,243.0 L835.0,243.7 L835.5,244.1 L836.0,243.9 L836.5,243.3 L837.0,243.1 L837.5,243.7 L838.0,244.2 L838.5,244.8 L839.0,245.1 L839.5,245.1 L840.0,245.3 L840.5,245.6 L841.0,246.0 L841.5,245.4 L842.0,245.6 L842.5,247.0 L843.0,247.2 L843.5,246.5 L844.0,246.0 L844.5,246.2 L845.0,247.1 L845.5,247.4 L846.0,246.3 L846.5,245.2 L847.0,246.0 L847.5,248.1 L848.0,247.6 L848.5,246.6 L849.0,247.3 L849.5,247.7 L850.0,248.1 L850.5,247.5 L851.0,247.3 L851.5,247.7 L852.0,248.0 L852.5,248.5 L853.0,248.6 L853.5,248.1 L854.0,247.4 L854.5,247.7 L855.0,247.9 L855.5,248.0 L856.0,247.8 L856.5,247.9 L857.0,247.8 L857.5,248.4 L858.0,248.8 L858.5,248.1 L859.0,248.4 L859.5,248.3 L860.0,248.4 L860.5,248.9 L861.0,249.4 L861.5,249.7 L862.0,248.9 L862.5,249.1 L863.0,249.4 L863.5,249.4 L864.0,248.3 L864.5,247.9 L865.0,248.9 L865.5,249.5 L866.0,249.3 L866.5,249.0 L867.0,249.3 L867.5,248.8 L868.0,248.7 L868.5,249.3 L869.0,249.5 L869.5,249.3 L870.0,249.3 L870.5,249.4 L871.0,249.6 L871.5,236.2 L872.0,208.4 L872.5,171.4 L873.0,172.1 L873.5,181.9 L874.0,189.2 L874.5,195.6 L875.0,201.2 L875.5,205.8 L876.0,209.2 L876.5,211.9 L877.0,214.7 L877.5,216.8 L878.0,219.6 L878.5,222.2 L879.0,223.8 L879.5,225.2 L880.0,226.5 L880.5,228.2 L881.0,229.4 L881.5,230.5 L882.0,232.3 L882.5,232.1 L883.0,232.4 L883.5,233.3 L884.0,234.3 L884.5,235.2 L885.0,236.0 L885.5,236.4 L886.0,236.2 L886.5,236.5 L887.0,237.1 L887.5,238.0 L888.0,238.4 L888.5,238.8 L889.0,239.5 L889.5,239.7 L890.0,239.6 L890.5,239.6 L891.0,240.0 L891.5,240.6 L892.0,241.5 L892.5,242.2 L893.0,241.9 L893.5,242.1 L894.0,242.3 L894.5,242.6 L895.0,242.7 L895.5,243.0 L896.0,243.7 L896.5,243.7 L897.0,243.9 L897.5,243.7 L898.0,244.0 L898.5,244.5 L899.0,245.0 L899.5,245.4 L900.0,245.7 L900.5,245.8 L901.0,245.2 L901.5,245.4 L902.0,245.6 L902.5,245.2 L903.0,245.8 L903.5,245.9 L904.0,245.9 L904.5,246.6 L905.0,246.7 L905.5,246.1 L906.0,246.0 L906.5,247.4 L907.0,247.8 L907.5,247.0 L908.0,247.2 L908.5,247.7 L909.0,247.6 L909.5,247.0 L910.0,247.1 L910.5,247.3 L911.0,247.0 L911.5,246.7 L912.0,247.3 L912.5,247.8 L913.0,248.4 L913.5,248.4 L914.0,247.9 L914.5,248.5 L915.0,248.1 L915.5,248.0 L916.0,248.4 L916.5,247.8 L917.0,248.3 L917.5,248.7 L918.0,248.3 L918.5,248.4 L919.0,249.3 L919.5,249.6 L920.0,249.1 L920.5,248.7 L921.0,248.7 L921.5,249.1 L922.0,249.1 L922.5,249.1 L923.0,249.5 L923.5,248.9 L924.0,248.6 L924.5,249.4 L925.0,249.2 L925.5,248.9 L926.0,249.5 L926.5,249.7 L927.0,249.2 L927.5,249.1 L928.0,249.0 L928.5,249.1 L929.0,249.2 L929.5,248.8 L930.0,248.3 L930.5,248.7 L931.0,249.1" fill="none" stroke="#000" stroke-width="2.6" stroke-linejoin="round"/>
<path d="M275.0,412.6 L275.5,413.0 L276.0,414.0 L276.5,413.6 L277.0,412.0 L277.5,411.8 L278.0,412.7 L278.5,414.5 L279.0,414.1 L279.5,412.2 L280.0,412.2 L280.5,411.5 L281.0,411.0 L281.5,411.0 L282.0,412.4 L282.5,413.5 L283.0,413.2 L283.5,412.1 L284.0,413.5 L284.5,413.9 L285.0,414.2 L285.5,412.8 L286.0,412.6 L286.5,413.6 L287.0,413.5 L287.5,412.7 L288.0,412.1 L288.5,412.4 L289.0,412.0 L289.5,411.7 L290.0,411.5 L290.5,412.3 L291.0,412.5 L291.5,412.9 L292.0,414.5 L292.5,414.8 L293.0,415.3 L293.5,413.7 L294.0,413.2 L294.5,412.1 L295.0,411.9 L295.5,412.5 L296.0,414.6 L296.5,415.7 L297.0,415.4 L297.5,414.1 L298.0,414.2 L298.5,413.9 L299.0,413.4 L299.5,413.3 L300.0,414.5 L300.5,414.7 L301.0,413.0 L301.5,410.3 L302.0,408.4 L302.5,407.1 L303.0,403.9 L303.5,396.4 L304.0,391.4 L304.5,386.8 L305.0,384.6 L305.5,376.8 L306.0,367.9 L306.5,358.8 L307.0,350.6 L307.5,343.4 L308.0,335.6 L308.5,331.2 L309.0,324.4 L309.5,319.3 L310.0,313.9 L310.5,309.6 L311.0,311.1 L311.5,316.4 L312.0,322.1 L312.5,326.8 L313.0,333.5 L313.5,341.5 L314.0,349.9 L314.5,356.8 L315.0,363.4 L315.5,368.4 L316.0,374.4 L316.5,375.8 L317.0,380.0 L317.5,381.5 L318.0,382.7 L318.5,381.3 L319.0,381.9 L319.5,381.6 L320.0,382.0 L320.5,380.1 L321.0,380.5 L321.5,378.0 L322.0,377.3 L322.5,375.9 L323.0,375.9 L323.5,374.6 L324.0,374.2 L324.5,372.3 L325.0,371.4 L325.5,370.1 L326.0,371.5 L326.5,371.1 L327.0,368.3 L327.5,364.5 L328.0,362.2 L328.5,361.4 L329.0,361.8 L329.5,361.5 L330.0,360.6 L330.5,357.6 L331.0,355.9 L331.5,353.3 L332.0,351.8 L332.5,348.7 L333.0,345.3 L333.5,343.0 L334.0,341.7 L334.5,339.7 L335.0,337.0 L335.5,334.5 L336.0,333.6 L336.5,337.3 L337.0,339.2 L337.5,341.6 L338.0,342.1 L338.5,344.3 L339.0,346.8 L339.5,351.8 L340.0,356.2 L340.5,360.2 L341.0,363.9 L341.5,367.5 L342.0,370.3 L342.5,373.5 L343.0,375.8 L343.5,377.8 L344.0,379.9 L344.5,381.8 L345.0,382.8 L345.5,384.3 L346.0,385.0 L346.5,386.0 L347.0,385.9 L347.5,385.4 L348.0,385.5 L348.5,384.9 L349.0,386.2 L349.5,383.1 L350.0,381.4 L350.5,378.9 L351.0,380.5 L351.5,380.4 L352.0,379.6 L352.5,378.7 L353.0,377.8 L353.5,377.7 L354.0,377.2 L354.5,377.4 L355.0,375.2 L355.5,373.2 L356.0,372.0 L356.5,372.2 L357.0,371.3 L357.5,370.6 L358.0,370.0 L358.5,369.4 L359.0,368.1 L359.5,366.2 L360.0,365.2 L360.5,363.1 L361.0,362.1 L361.5,360.6 L362.0,357.8 L362.5,354.0 L363.0,350.0 L363.5,349.4 L364.0,348.3 L364.5,346.3 L365.0,343.4 L365.5,340.5 L366.0,339.6 L366.5,342.5 L367.0,346.2 L367.5,348.8 L368.0,351.2 L368.5,354.9 L369.0,356.9 L369.5,360.8 L370.0,363.1 L370.5,366.0 L371.0,368.1 L371.5,371.1 L372.0,372.3 L372.5,373.5 L373.0,373.3 L373.5,376.1 L374.0,378.4 L374.5,381.8 L375.0,383.3 L375.5,384.3 L376.0,383.2 L376.5,383.1 L377.0,383.1 L377.5,383.9 L378.0,385.8 L378.5,387.4 L379.0,387.1 L379.5,386.6 L380.0,384.1 L380.5,384.9 L381.0,382.2 L381.5,381.8 L382.0,379.9 L382.5,379.9 L383.0,378.6 L383.5,378.2 L384.0,376.9 L384.5,377.6 L385.0,375.2 L385.5,375.9 L386.0,374.9 L386.5,375.5 L387.0,374.7 L387.5,373.1 L388.0,371.9 L388.5,371.1 L389.0,369.7 L389.5,368.7 L390.0,366.8 L390.5,366.9 L391.0,366.4 L391.5,364.3 L392.0,363.9 L392.5,363.8 L393.0,366.0 L393.5,366.1 L394.0,365.0 L394.5,363.6 L395.0,362.1 L395.5,362.1 L396.0,361.6 L396.5,362.8 L397.0,363.5 L397.5,364.9 L398.0,364.4 L398.5,364.5 L399.0,364.9 L399.5,365.1 L400.0,366.1 L400.5,367.1 L401.0,368.0 L401.5,368.4 L402.0,367.9 L402.5,370.3 L403.0,371.3 L403.5,373.5 L404.0,372.9 L404.5,372.4 L405.0,371.9 L405.5,373.5 L406.0,375.8 L406.5,376.9 L407.0,376.3 L407.5,375.8 L408.0,375.7 L408.5,374.7 L409.0,374.7 L409.5,373.0 L410.0,373.6 L410.5,373.1 L411.0,373.6 L411.5,373.2 L412.0,373.2 L412.5,372.6 L413.0,372.2 L413.5,370.4 L414.0,370.7 L414.5,371.4 L415.0,371.9 L415.5,370.2 L416.0,369.9 L416.5,370.3 L417.0,370.9 L417.5,370.3 L418.0,369.8 L418.5,369.7 L419.0,369.9 L419.5,369.8 L420.0,369.4 L420.5,367.3 L421.0,366.6 L421.5,368.4 L422.0,371.3 L422.5,371.8 L423.0,370.0 L423.5,370.2 L424.0,371.0 L424.5,372.7 L425.0,373.0 L425.5,372.9 L426.0,372.0 L426.5,370.2 L427.0,370.0 L427.5,369.2 L428.0,370.6 L428.5,370.3 L429.0,372.2 L429.5,371.2 L430.0,371.7 L430.5,370.0 L431.0,371.0 L431.5,370.1 L432.0,371.6 L432.5,371.4 L433.0,370.7 L433.5,368.7 L434.0,368.5 L434.5,369.9 L435.0,372.4 L435.5,371.6 L436.0,371.5 L436.5,370.0 L437.0,370.9 L437.5,372.3 L438.0,372.3 L438.5,371.0 L439.0,370.9 L439.5,371.3 L440.0,371.4 L440.5,369.8 L441.0,369.3 L441.5,370.5 L442.0,371.6 L442.5,371.7 L443.0,371.2 L443.5,370.0 L444.0,370.1 L444.5,370.5 L445.0,371.6 L445.5,370.2 L446.0,369.5 L446.5,369.6 L447.0,372.4 L447.5,373.8 L448.0,371.8 L448.5,369.2 L449.0,368.9 L449.5,370.7 L450.0,372.2 L450.5,373.2 L451.0,372.5 L451.5,373.3 L452.0,372.0 L452.5,372.4 L453.0,370.0 L453.5,369.1 L454.0,370.7 L454.5,372.3 L455.0,373.8 L455.5,373.0 L456.0,372.6 L456.5,372.5 L457.0,372.2 L457.5,372.0 L458.0,371.0 L458.5,370.1 L459.0,370.3 L459.5,370.3 L460.0,371.5 L460.5,370.9 L461.0,370.2 L461.5,367.9 L462.0,368.5 L462.5,370.9 L463.0,372.1 L463.5,369.8 L464.0,368.5 L464.5,367.9 L465.0,370.0 L465.5,369.4 L466.0,370.3 L466.5,369.8 L467.0,369.2 L467.5,369.3 L468.0,368.9 L468.5,370.7 L469.0,370.2 L469.5,371.3 L470.0,370.6 L470.5,372.5 L471.0,372.6 L471.5,372.9 L472.0,373.2 L472.5,374.2 L473.0,375.1 L473.5,374.0 L474.0,374.0 L474.5,374.6 L475.0,376.1 L475.5,376.0 L476.0,376.3 L476.5,374.4 L477.0,374.9 L477.5,373.8 L478.0,375.7 L478.5,375.3 L479.0,377.6 L479.5,377.1 L480.0,377.6 L480.5,374.2 L481.0,373.0 L481.5,373.4 L482.0,374.5 L482.5,376.3 L483.0,375.0 L483.5,375.9 L484.0,374.4 L484.5,375.2 L485.0,375.2 L485.5,376.0 L486.0,374.8 L486.5,372.9 L487.0,372.3 L487.5,372.6 L488.0,373.6 L488.5,371.9 L489.0,371.9 L489.5,370.9 L490.0,370.6 L490.5,369.5 L491.0,370.0 L491.5,370.6 L492.0,370.8 L492.5,369.9 L493.0,369.3 L493.5,369.8 L494.0,370.2 L494.5,370.7 L495.0,370.1 L495.5,371.1 L496.0,373.2 L496.5,377.3 L497.0,378.3 L497.5,381.7 L498.0,384.5 L498.5,388.6 L499.0,391.4 L499.5,392.6 L500.0,395.3 L500.5,396.1 L501.0,399.9 L501.5,403.0 L502.0,406.3 L502.5,406.4 L503.0,407.8 L503.5,408.3 L504.0,411.3 L504.5,412.6 L505.0,415.3 L505.5,416.0 L506.0,416.6 L506.5,416.3 L507.0,416.5 L507.5,418.5 L508.0,419.7 L508.5,421.9 L509.0,421.5 L509.5,420.5 L510.0,419.2 L510.5,419.4 L511.0,421.2 L511.5,422.4 L512.0,422.2 L512.5,422.2 L513.0,420.9 L513.5,420.7 L514.0,419.2 L514.5,420.6 L515.0,421.1 L515.5,422.4 L516.0,421.5 L516.5,419.3 L517.0,418.1 L517.5,418.4 L518.0,420.4 L518.5,421.6 L519.0,422.3 L519.5,421.8 L520.0,421.7 L520.5,419.6 L521.0,420.5 L521.5,418.3 L522.0,419.9 L522.5,417.7 L523.0,419.6 L523.5,420.4 L524.0,422.0 L524.5,422.2 L525.0,421.8 L525.5,419.9 L526.0,417.9 L526.5,417.0 L527.0,418.2 L527.5,419.3 L528.0,421.4 L528.5,423.6 L529.0,424.3 L529.5,421.8 L530.0,420.8 L530.5,420.5 L531.0,420.9 L531.5,421.7 L532.0,420.0 L532.5,421.3 L533.0,419.7 L533.5,422.2 L534.0,420.8 L534.5,420.7 L535.0,419.2 L535.5,419.5 L536.0,420.2 L536.5,422.9 L537.0,423.9 L537.5,423.6 L538.0,420.4 L538.5,419.2 L539.0,419.7 L539.5,419.3 L540.0,419.2 L540.5,419.7 L541.0,420.6 L541.5,419.4 L542.0,418.9 L542.5,420.5 L543.0,421.5 L543.5,421.0 L544.0,420.6 L544.5,421.2 L545.0,420.5 L545.5,419.3 L546.0,418.8 L546.5,419.3 L547.0,420.4 L547.5,419.7 L548.0,419.9 L548.5,418.9 L549.0,418.0 L549.5,418.3 L550.0,418.4 L550.5,419.0 L551.0,417.0 L551.5,417.6 L552.0,419.9 L552.5,421.3 L553.0,420.3 L553.5,419.5 L554.0,418.9 L554.5,418.7 L555.0,418.8 L555.5,418.4 L556.0,419.6 L556.5,419.1 L557.0,420.9 L557.5,418.6 L558.0,419.3 L558.5,418.2 L559.0,420.1 L559.5,418.4 L560.0,417.7 L560.5,418.1 L561.0,419.1 L561.5,420.3 L562.0,419.9 L562.5,420.0 L563.0,418.4 L563.5,417.6 L564.0,416.9 L564.5,419.6 L565.0,420.2 L565.5,415.6 L566.0,406.2 L566.5,397.0 L567.0,387.8 L567.5,378.1 L568.0,363.4 L568.5,349.7 L569.0,332.9 L569.5,317.8 L570.0,324.9 L570.5,337.1 L571.0,346.4 L571.5,356.6 L572.0,362.4 L572.5,370.8 L573.0,376.2 L573.5,383.2 L574.0,387.4 L574.5,390.5 L575.0,393.4 L575.5,395.4 L576.0,398.4 L576.5,401.5 L577.0,403.0 L577.5,404.7 L578.0,406.7 L578.5,409.4 L579.0,410.1 L579.5,411.7 L580.0,411.0 L580.5,411.3 L581.0,409.6 L581.5,410.7 L582.0,411.6 L582.5,413.1 L583.0,412.6 L583.5,413.7 L584.0,412.8 L584.5,413.3 L585.0,410.5 L585.5,412.9 L586.0,414.4 L586.5,416.8 L587.0,416.4 L587.5,415.0 L588.0,414.5 L588.5,413.6 L589.0,414.9 L589.5,415.6 L590.0,416.6 L590.5,415.6 L591.0,415.0 L591.5,415.2 L592.0,416.4 L592.5,417.8 L593.0,417.1 L593.5,417.2 L594.0,415.7 L594.5,415.4 L595.0,415.5 L595.5,416.0 L596.0,415.9 L596.5,415.0 L597.0,417.1 L597.5,417.7 L598.0,418.7 L598.5,417.4 L599.0,419.6 L599.5,419.3 L600.0,420.3 L600.5,419.2 L601.0,419.6 L601.5,418.9 L602.0,417.0 L602.5,417.1 L603.0,418.8 L603.5,420.5 L604.0,421.6 L604.5,420.5 L605.0,420.8 L605.5,418.9 L606.0,418.3 L606.5,417.9 L607.0,419.2 L607.5,418.5 L608.0,417.0 L608.5,416.1 L609.0,416.8 L609.5,418.3 L610.0,419.7 L610.5,419.3 L611.0,420.4 L611.5,419.6 L612.0,420.0 L612.5,417.3 L613.0,418.0 L613.5,419.3 L614.0,421.0 L614.5,420.3 L615.0,418.6 L615.5,416.7 L616.0,415.7 L616.5,414.9 L617.0,415.3 L617.5,415.3 L618.0,415.9 L618.5,417.4 L619.0,419.0 L619.5,419.3 L620.0,419.5 L620.5,418.2 L621.0,418.2 L621.5,417.8 L622.0,417.6 L622.5,418.0 L623.0,417.4 L623.5,417.2 L624.0,416.5 L624.5,418.0 L625.0,418.9 L625.5,418.3 L626.0,412.9 L626.5,405.1 L627.0,396.1 L627.5,384.9 L628.0,371.8 L628.5,358.3 L629.0,343.7 L629.5,328.7 L630.0,311.1 L630.5,320.0 L631.0,332.4 L631.5,344.7 L632.0,354.3 L632.5,363.4 L633.0,370.9 L633.5,375.7 L634.0,381.1 L634.5,384.4 L635.0,388.3 L635.5,391.3 L636.0,394.7 L636.5,398.1 L637.0,401.1 L637.5,402.2 L638.0,403.5 L638.5,404.4 L639.0,405.7 L639.5,406.9 L640.0,406.4 L640.5,406.8 L641.0,407.2 L641.5,409.3 L642.0,411.2 L642.5,411.7 L643.0,413.8 L643.5,412.6 L644.0,414.8 L644.5,413.2 L645.0,413.7 L645.5,412.0 L646.0,412.5 L646.5,413.4 L647.0,413.8 L647.5,414.8 L648.0,415.8 L648.5,415.5 L649.0,416.3 L649.5,416.0 L650.0,416.9 L650.5,416.8 L651.0,416.6 L651.5,417.8 L652.0,416.4 L652.5,417.4 L653.0,416.1 L653.5,417.6 L654.0,416.4 L654.5,418.1 L655.0,417.9 L655.5,418.9 L656.0,416.9 L656.5,415.5 L657.0,415.2 L657.5,417.2 L658.0,418.5 L658.5,417.2 L659.0,417.4 L659.5,416.9 L660.0,418.6 L660.5,416.7 L661.0,416.6 L661.5,416.3 L662.0,414.9 L662.5,414.8 L663.0,414.2 L663.5,415.9 L664.0,415.5 L664.5,416.6 L665.0,416.8 L665.5,417.9 L666.0,415.6 L666.5,415.7 L667.0,416.3 L667.5,418.4 L668.0,418.9 L668.5,418.4 L669.0,417.6 L669.5,417.2 L670.0,417.8 L670.5,417.8 L671.0,417.5 L671.5,417.3 L672.0,417.3 L672.5,417.7 L673.0,417.5 L673.5,417.0 L674.0,417.9 L674.5,418.3 L675.0,418.3 L675.5,416.5 L676.0,415.6 L676.5,415.8 L677.0,415.8 L677.5,416.3 L678.0,416.5 L678.5,416.6 L679.0,417.5 L679.5,417.5 L680.0,418.5 L680.5,416.3 L681.0,415.8 L681.5,414.8 L682.0,416.4 L682.5,417.8 L683.0,418.4 L683.5,417.5 L684.0,417.2 L684.5,416.7 L685.0,416.7 L685.5,417.2 L686.0,416.5 L686.5,413.0 L687.0,405.5 L687.5,397.7 L688.0,386.8 L688.5,375.8 L689.0,363.1 L689.5,349.1 L690.0,331.6 L690.5,314.2 L691.0,322.7 L691.5,335.8 L692.0,345.4 L692.5,353.6 L693.0,362.9 L693.5,369.9 L694.0,376.2 L694.5,380.5 L695.0,385.7 L695.5,389.6 L696.0,392.9 L696.5,395.3 L697.0,397.6 L697.5,401.0 L698.0,403.7 L698.5,405.7 L699.0,405.3 L699.5,405.7 L700.0,405.2 L700.5,407.6 L701.0,409.5 L701.5,411.6 L702.0,412.1 L702.5,411.7 L703.0,411.6 L703.5,412.4 L704.0,412.8 L704.5,414.2 L705.0,414.9 L705.5,414.6 L706.0,413.5 L706.5,413.8 L707.0,415.6 L707.5,417.6 L708.0,417.8 L708.5,417.0 L709.0,417.5 L709.5,417.5 L710.0,418.6 L710.5,417.5 L711.0,416.3 L711.5,415.1 L712.0,413.9 L712.5,413.6 L713.0,413.7 L713.5,415.0 L714.0,415.2 L714.5,414.5 L715.0,414.5 L715.5,413.6 L716.0,414.7 L716.5,415.1 L717.0,415.6 L717.5,415.0 L718.0,414.5 L718.5,416.6 L719.0,417.5 L719.5,417.2 L720.0,416.5 L720.5,415.3 L721.0,414.5 L721.5,414.9 L722.0,416.8 L722.5,418.4 L723.0,418.0 L723.5,417.8 L724.0,416.1 L724.5,415.2 L725.0,414.6 L725.5,416.6 L726.0,417.6 L726.5,417.9 L727.0,416.4 L727.5,416.3 L728.0,416.6 L728.5,417.9 L729.0,417.7 L729.5,419.0 L730.0,417.7 L730.5,418.5 L731.0,416.0 L731.5,416.0 L732.0,415.8 L732.5,416.5 L733.0,416.9 L733.5,416.4 L734.0,418.6 L734.5,418.8 L735.0,418.5 L735.5,417.5 L736.0,417.6 L736.5,419.6 L737.0,417.7 L737.5,418.0 L738.0,417.0 L738.5,417.8 L739.0,417.6 L739.5,415.8 L740.0,415.8 L740.5,416.9 L741.0,417.7 L741.5,417.1 L742.0,417.4 L742.5,418.3 L743.0,419.5 L743.5,418.3 L744.0,417.0 L744.5,417.4 L745.0,417.6 L745.5,418.0 L746.0,416.8 L746.5,413.5 L747.0,408.1 L747.5,400.0 L748.0,389.5 L748.5,376.5 L749.0,363.4 L749.5,349.3 L750.0,335.0 L750.5,318.5 L751.0,320.1 L751.5,332.8 L752.0,344.4 L752.5,354.3 L753.0,362.5 L753.5,368.9 L754.0,374.8 L754.5,380.4 L755.0,385.5 L755.5,389.4 L756.0,392.4 L756.5,395.1 L757.0,398.4 L757.5,401.8 L758.0,402.4 L758.5,404.1 L759.0,404.2 L759.5,406.9 L760.0,408.1 L760.5,410.8 L761.0,410.8 L761.5,411.6 L762.0,409.1 L762.5,410.1 L763.0,408.3 L763.5,410.0 L764.0,409.5 L764.5,410.5 L765.0,411.3 L765.5,411.7 L766.0,412.2 L766.5,411.8 L767.0,412.5 L767.5,413.9 L768.0,414.4 L768.5,414.3 L769.0,412.8 L769.5,413.7 L770.0,414.7 L770.5,416.6 L771.0,415.8 L771.5,416.5 L772.0,416.6 L772.5,418.9 L773.0,417.8 L773.5,418.1 L774.0,417.7 L774.5,417.9 L775.0,417.3 L775.5,415.8 L776.0,415.8 L776.5,416.5 L777.0,417.1 L777.5,416.5 L778.0,417.8 L778.5,417.2 L779.0,418.9 L779.5,417.1 L780.0,418.2 L780.5,417.8 L781.0,418.4 L781.5,418.5 L782.0,419.4 L782.5,418.3 L783.0,416.8 L783.5,414.3 L784.0,413.3 L784.5,414.7 L785.0,414.6 L785.5,415.0 L786.0,414.8 L786.5,415.9 L787.0,417.2 L787.5,415.0 L788.0,414.3 L788.5,413.1 L789.0,415.1 L789.5,416.0 L790.0,417.4 L790.5,418.4 L791.0,421.0 L791.5,420.3 L792.0,419.9 L792.5,418.0 L793.0,418.3 L793.5,417.1 L794.0,417.1 L794.5,417.8 L795.0,419.0 L795.5,417.8 L796.0,415.5 L796.5,414.3 L797.0,415.8 L797.5,418.3 L798.0,418.3 L798.5,417.6 L799.0,417.7 L799.5,419.5 L800.0,418.6 L800.5,417.5 L801.0,416.5 L801.5,416.3 L802.0,417.8 L802.5,416.5 L803.0,417.7 L803.5,417.1 L804.0,418.8 L804.5,419.0 L805.0,416.6 L805.5,416.3 L806.0,416.0 L806.5,414.9 L807.0,407.9 L807.5,399.3 L808.0,388.5 L808.5,378.9 L809.0,365.5 L809.5,351.5 L810.0,334.5 L810.5,317.7 L811.0,314.5 L811.5,329.7 L812.0,342.1 L812.5,350.8 L813.0,358.2 L813.5,364.1 L814.0,370.9 L814.5,377.0 L815.0,383.1 L815.5,386.5 L816.0,390.8 L816.5,394.6 L817.0,398.1 L817.5,400.7 L818.0,402.4 L818.5,405.4 L819.0,405.6 L819.5,406.9 L820.0,406.3 L820.5,408.1 L821.0,408.6 L821.5,410.1 L822.0,410.3 L822.5,410.7 L823.0,412.6 L823.5,413.8 L824.0,414.7 L824.5,414.1 L825.0,413.9 L825.5,414.0 L826.0,415.1 L826.5,415.7 L827.0,416.7 L827.5,416.0 L828.0,416.1 L828.5,416.4 L829.0,416.3 L829.5,416.2 L830.0,415.8 L830.5,414.7 L831.0,414.5 L831.5,415.4 L832.0,417.8 L832.5,418.2 L833.0,416.8 L833.5,416.5 L834.0,415.8 L834.5,415.7 L835.0,414.0 L835.5,413.1 L836.0,415.4 L836.5,416.5 L837.0,415.9 L837.5,414.0 L838.0,412.7 L838.5,415.5 L839.0,415.7 L839.5,416.4 L840.0,416.3 L840.5,418.0 L841.0,418.0 L841.5,417.5 L842.0,415.6 L842.5,416.9 L843.0,417.1 L843.5,418.0 L844.0,416.7 L844.5,417.7 L845.0,417.4 L845.5,418.9 L846.0,418.7 L846.5,418.1 L847.0,417.1 L847.5,416.4 L848.0,416.4 L848.5,416.5 L849.0,416.6 L849.5,416.2 L850.0,416.0 L850.5,416.0 L851.0,416.9 L851.5,416.7 L852.0,415.5 L852.5,415.8 L853.0,416.4 L853.5,417.4 L854.0,418.4 L854.5,418.3 L855.0,418.0 L855.5,418.3 L856.0,418.9 L856.5,420.0 L857.0,419.7 L857.5,418.8 L858.0,417.2 L858.5,417.5 L859.0,416.5 L859.5,416.8 L860.0,416.8 L860.5,417.7 L861.0,418.7 L861.5,416.9 L862.0,419.2 L862.5,418.6 L863.0,419.8 L863.5,417.0 L864.0,417.6 L864.5,417.5 L865.0,418.2 L865.5,418.2 L866.0,417.5 L866.5,416.1 L867.0,409.8 L867.5,402.0 L868.0,391.3 L868.5,380.9 L869.0,368.5 L869.5,354.9 L870.0,340.6 L870.5,324.2 L871.0,313.7 L871.5,326.1 L872.0,338.8 L872.5,349.4 L873.0,358.2 L873.5,365.0 L874.0,371.9 L874.5,378.2 L875.0,384.2 L875.5,388.7 L876.0,393.9 L876.5,395.7 L877.0,397.6 L877.5,398.1 L878.0,400.5 L878.5,402.3 L879.0,403.8 L879.5,406.0 L880.0,406.2 L880.5,407.5 L881.0,408.2 L881.5,410.7 L882.0,411.3 L882.5,411.6 L883.0,411.5 L883.5,412.3 L884.0,412.3 L884.5,413.2 L885.0,414.2 L885.5,416.1 L886.0,415.6 L886.5,415.4 L887.0,414.3 L887.5,415.0 L888.0,414.2 L888.5,414.3 L889.0,414.5 L889.5,415.0 L890.0,414.7 L890.5,415.3 L891.0,415.4 L891.5,415.6 L892.0,414.8 L892.5,414.6 L893.0,414.3 L893.5,414.7 L894.0,414.7 L894.5,414.4 L895.0,414.7 L895.5,414.7 L896.0,414.5 L896.5,413.7 L897.0,413.5 L897.5,414.7 L898.0,413.9 L898.5,414.1 L899.0,412.7 L899.5,412.6 L900.0,412.9 L900.5,413.7 L901.0,415.8 L901.5,415.2 L902.0,415.7 L902.5,413.6 L903.0,415.3 L903.5,415.2 L904.0,414.9 L904.5,414.0 L905.0,413.6 L905.5,416.3 L906.0,416.9 L906.5,416.7 L907.0,415.6 L907.5,415.1 L908.0,415.4 L908.5,414.6 L909.0,414.0 L909.5,413.5 L910.0,413.9 L910.5,413.7 L911.0,414.3 L911.5,413.8 L912.0,413.6 L912.5,415.1 L913.0,415.6 L913.5,416.5 L914.0,417.1 L914.5,416.8 L915.0,415.7 L915.5,412.4 L916.0,411.4 L916.5,412.3 L917.0,412.5 L917.5,412.0 L918.0,411.5 L918.5,412.5 L919.0,415.2 L919.5,414.1 L920.0,414.8 L920.5,411.8 L921.0,413.8 L921.5,413.2 L922.0,414.2 L922.5,414.1 L923.0,414.0 L923.5,415.1 L924.0,414.2 L924.5,414.9 L925.0,414.9 L925.5,414.1 L926.0,412.5 L926.5,411.4 L927.0,412.6 L927.5,413.7 L928.0,414.5 L928.5,413.7 L929.0,412.8 L929.5,412.8 L930.0,413.5 L930.5,414.5 L931.0,414.8" fill="none" stroke="#009a00" stroke-width="4.8" stroke-linejoin="round" stroke-linecap="round"/>
<path d="M275.0,548.6 L275.5,547.5 L276.0,548.0 L276.5,547.9 L277.0,548.2 L277.5,547.1 L278.0,546.6 L278.5,546.2 L279.0,545.7 L279.5,545.4 L280.0,545.5 L280.5,544.4 L281.0,544.7 L281.5,543.9 L282.0,545.5 L282.5,545.0 L283.0,545.7 L283.5,545.9 L284.0,545.7 L284.5,545.5 L285.0,545.3 L285.5,545.8 L286.0,545.9 L286.5,545.4 L287.0,544.9 L287.5,545.4 L288.0,546.0 L288.5,546.8 L289.0,546.6 L289.5,545.9 L290.0,545.9 L290.5,547.3 L291.0,548.5 L291.5,547.7 L292.0,546.7 L292.5,545.8 L293.0,546.3 L293.5,545.8 L294.0,545.4 L294.5,544.7 L295.0,545.1 L295.5,545.0 L296.0,545.4 L296.5,545.0 L297.0,545.6 L297.5,545.6 L298.0,545.8 L298.5,545.5 L299.0,545.9 L299.5,546.1 L300.0,547.1 L300.5,547.2 L301.0,546.8 L301.5,546.3 L302.0,546.5 L302.5,546.5 L303.0,545.9 L303.5,540.8 L304.0,538.4 L304.5,535.2 L305.0,533.6 L305.5,528.5 L306.0,523.7 L306.5,518.2 L307.0,513.6 L307.5,509.9 L308.0,504.3 L308.5,500.1 L309.0,484.0 L309.5,468.4 L310.0,452.3 L310.5,436.3 L311.0,439.9 L311.5,456.9 L312.0,473.8 L312.5,490.7 L313.0,499.7 L313.5,509.1 L314.0,518.6 L314.5,520.6 L315.0,522.3 L315.5,522.6 L316.0,521.1 L316.5,519.5 L317.0,518.5 L317.5,517.7 L318.0,517.1 L318.5,517.3 L319.0,518.2 L319.5,518.4 L320.0,519.5 L320.5,518.2 L321.0,516.8 L321.5,515.0 L322.0,515.1 L322.5,514.4 L323.0,513.0 L323.5,510.2 L324.0,510.0 L324.5,509.5 L325.0,510.8 L325.5,510.5 L326.0,510.7 L326.5,509.2 L327.0,507.7 L327.5,505.0 L328.0,504.0 L328.5,502.4 L329.0,502.6 L329.5,501.1 L330.0,500.2 L330.5,498.2 L331.0,498.4 L331.5,495.9 L332.0,493.2 L332.5,489.4 L333.0,486.0 L333.5,484.4 L334.0,482.6 L334.5,480.4 L335.0,477.1 L335.5,472.8 L336.0,470.6 L336.5,473.9 L337.0,479.0 L337.5,481.3 L338.0,485.0 L338.5,487.9 L339.0,492.1 L339.5,495.3 L340.0,498.9 L340.5,502.2 L341.0,505.8 L341.5,506.5 L342.0,508.8 L342.5,510.7 L343.0,513.3 L343.5,514.4 L344.0,516.4 L344.5,516.6 L345.0,518.6 L345.5,520.0 L346.0,521.2 L346.5,520.2 L347.0,519.1 L347.5,517.8 L348.0,517.4 L348.5,516.5 L349.0,516.2 L349.5,515.0 L350.0,514.2 L350.5,514.1 L351.0,513.9 L351.5,513.1 L352.0,512.3 L352.5,511.6 L353.0,511.2 L353.5,511.0 L354.0,510.1 L354.5,508.7 L355.0,507.3 L355.5,506.2 L356.0,506.5 L356.5,506.0 L357.0,505.6 L357.5,504.4 L358.0,502.9 L358.5,501.8 L359.0,499.7 L359.5,497.8 L360.0,496.8 L360.5,497.6 L361.0,497.1 L361.5,495.1 L362.0,491.7 L362.5,490.4 L363.0,487.8 L363.5,486.0 L364.0,483.7 L364.5,481.6 L365.0,479.4 L365.5,476.8 L366.0,475.1 L366.5,478.2 L367.0,481.5 L367.5,484.2 L368.0,486.1 L368.5,488.3 L369.0,491.2 L369.5,494.6 L370.0,498.0 L370.5,500.0 L371.0,502.3 L371.5,503.0 L372.0,505.3 L372.5,506.9 L373.0,508.4 L373.5,509.9 L374.0,511.5 L374.5,512.0 L375.0,512.5 L375.5,513.3 L376.0,514.6 L376.5,515.2 L377.0,515.5 L377.5,514.6 L378.0,513.7 L378.5,513.8 L379.0,513.4 L379.5,513.5 L380.0,512.3 L380.5,511.8 L381.0,511.4 L381.5,510.5 L382.0,509.3 L382.5,508.3 L383.0,508.7 L383.5,509.2 L384.0,508.6 L384.5,508.1 L385.0,506.7 L385.5,505.6 L386.0,504.7 L386.5,503.7 L387.0,502.4 L387.5,501.1 L388.0,501.5 L388.5,502.0 L389.0,501.0 L389.5,499.6 L390.0,498.4 L390.5,498.5 L391.0,498.2 L391.5,497.9 L392.0,496.8 L392.5,496.7 L393.0,496.6 L393.5,496.2 L394.0,495.3 L394.5,495.0 L395.0,495.3 L395.5,495.3 L396.0,494.3 L396.5,494.5 L397.0,493.9 L397.5,495.1 L398.0,495.8 L398.5,496.4 L399.0,497.1 L399.5,497.2 L400.0,497.7 L400.5,497.7 L401.0,498.4 L401.5,499.0 L402.0,499.2 L402.5,497.6 L403.0,497.6 L403.5,498.1 L404.0,499.9 L404.5,501.2 L405.0,501.9 L405.5,503.1 L406.0,503.3 L406.5,504.4 L407.0,504.0 L407.5,504.5 L408.0,502.5 L408.5,502.2 L409.0,501.8 L409.5,502.5 L410.0,501.9 L410.5,501.2 L411.0,500.0 L411.5,500.2 L412.0,499.5 L412.5,500.5 L413.0,500.3 L413.5,501.0 L414.0,500.6 L414.5,500.5 L415.0,500.4 L415.5,500.1 L416.0,499.1 L416.5,499.3 L417.0,498.9 L417.5,500.1 L418.0,499.7 L418.5,500.2 L419.0,499.8 L419.5,499.6 L420.0,499.5 L420.5,499.4 L421.0,499.2 L421.5,499.2 L422.0,499.4 L422.5,499.2 L423.0,499.2 L423.5,498.2 L424.0,498.0 L424.5,497.0 L425.0,497.5 L425.5,498.0 L426.0,499.2 L426.5,498.6 L427.0,498.8 L427.5,497.9 L428.0,498.3 L428.5,497.7 L429.0,498.9 L429.5,499.1 L430.0,500.4 L430.5,500.1 L431.0,499.9 L431.5,499.0 L432.0,499.2 L432.5,498.9 L433.0,498.4 L433.5,497.7 L434.0,498.0 L434.5,498.1 L435.0,498.9 L435.5,499.2 L436.0,499.1 L436.5,498.1 L437.0,497.3 L437.5,497.9 L438.0,497.7 L438.5,500.1 L439.0,500.0 L439.5,500.0 L440.0,497.6 L440.5,497.1 L441.0,497.6 L441.5,497.9 L442.0,498.4 L442.5,498.6 L443.0,499.1 L443.5,499.0 L444.0,498.7 L444.5,498.1 L445.0,497.2 L445.5,496.4 L446.0,496.5 L446.5,497.4 L447.0,498.2 L447.5,497.9 L448.0,498.0 L448.5,497.5 L449.0,497.4 L449.5,496.5 L450.0,496.6 L450.5,497.1 L451.0,496.9 L451.5,496.4 L452.0,496.5 L452.5,497.2 L453.0,498.2 L453.5,498.2 L454.0,498.1 L454.5,498.6 L455.0,498.1 L455.5,498.0 L456.0,497.7 L456.5,497.9 L457.0,497.8 L457.5,497.1 L458.0,496.2 L458.5,496.6 L459.0,496.4 L459.5,497.1 L460.0,497.4 L460.5,497.8 L461.0,497.6 L461.5,497.4 L462.0,497.2 L462.5,498.1 L463.0,497.2 L463.5,497.1 L464.0,496.0 L464.5,497.3 L465.0,497.6 L465.5,498.3 L466.0,499.2 L466.5,499.6 L467.0,500.1 L467.5,499.2 L468.0,498.9 L468.5,498.3 L469.0,499.4 L469.5,499.5 L470.0,500.1 L470.5,500.8 L471.0,501.8 L471.5,502.3 L472.0,501.4 L472.5,500.9 L473.0,501.3 L473.5,502.2 L474.0,502.6 L474.5,502.5 L475.0,503.1 L475.5,503.6 L476.0,504.5 L476.5,504.7 L477.0,504.3 L477.5,503.8 L478.0,502.1 L478.5,501.3 L479.0,501.8 L479.5,502.4 L480.0,503.2 L480.5,502.6 L481.0,501.9 L481.5,501.2 L482.0,500.6 L482.5,500.3 L483.0,500.4 L483.5,501.1 L484.0,500.9 L484.5,500.7 L485.0,500.1 L485.5,500.5 L486.0,501.6 L486.5,501.4 L487.0,500.3 L487.5,498.8 L488.0,498.9 L488.5,499.0 L489.0,499.4 L489.5,499.6 L490.0,498.9 L490.5,497.7 L491.0,496.4 L491.5,496.8 L492.0,497.5 L492.5,496.5 L493.0,496.4 L493.5,495.5 L494.0,495.1 L494.5,494.3 L495.0,494.2 L495.5,495.6 L496.0,498.6 L496.5,502.5 L497.0,504.5 L497.5,508.5 L498.0,511.2 L498.5,515.4 L499.0,516.7 L499.5,518.4 L500.0,518.9 L500.5,522.4 L501.0,524.6 L501.5,526.2 L502.0,526.4 L502.5,528.5 L503.0,531.0 L503.5,532.8 L504.0,532.8 L504.5,533.4 L505.0,533.1 L505.5,533.9 L506.0,535.0 L506.5,537.2 L507.0,538.5 L507.5,537.9 L508.0,537.5 L508.5,538.0 L509.0,540.1 L509.5,540.7 L510.0,540.6 L510.5,539.6 L511.0,539.8 L511.5,540.6 L512.0,541.3 L512.5,543.0 L513.0,543.2 L513.5,542.5 L514.0,542.3 L514.5,542.3 L515.0,543.2 L515.5,542.6 L516.0,543.3 L516.5,543.8 L517.0,544.5 L517.5,544.3 L518.0,544.3 L518.5,543.7 L519.0,543.4 L519.5,543.1 L520.0,543.5 L520.5,543.3 L521.0,543.0 L521.5,543.9 L522.0,545.4 L522.5,546.9 L523.0,546.9 L523.5,546.8 L524.0,546.9 L524.5,546.7 L525.0,546.1 L525.5,545.1 L526.0,545.0 L526.5,545.4 L527.0,545.5 L527.5,545.2 L528.0,545.0 L528.5,544.7 L529.0,546.0 L529.5,546.3 L530.0,545.7 L530.5,545.0 L531.0,544.4 L531.5,545.3 L532.0,544.9 L532.5,545.7 L533.0,545.8 L533.5,546.0 L534.0,545.5 L534.5,546.7 L535.0,546.5 L535.5,546.1 L536.0,544.3 L536.5,544.4 L537.0,544.6 L537.5,545.3 L538.0,545.5 L538.5,545.2 L539.0,545.1 L539.5,544.6 L540.0,544.8 L540.5,544.3 L541.0,544.5 L541.5,544.5 L542.0,544.7 L542.5,544.6 L543.0,544.3 L543.5,545.3 L544.0,545.8 L544.5,546.3 L545.0,545.8 L545.5,545.0 L546.0,545.2 L546.5,544.3 L547.0,544.7 L547.5,544.8 L548.0,545.3 L548.5,545.7 L549.0,545.3 L549.5,545.5 L550.0,545.4 L550.5,546.1 L551.0,546.0 L551.5,546.6 L552.0,546.7 L552.5,547.0 L553.0,545.9 L553.5,545.5 L554.0,544.9 L554.5,546.3 L555.0,546.4 L555.5,546.3 L556.0,545.7 L556.5,546.1 L557.0,546.2 L557.5,545.8 L558.0,546.5 L558.5,546.8 L559.0,546.9 L559.5,547.2 L560.0,547.2 L560.5,546.5 L561.0,544.4 L561.5,544.5 L562.0,545.5 L562.5,545.5 L563.0,544.4 L563.5,544.3 L564.0,544.7 L564.5,545.4 L565.0,544.7 L565.5,545.4 L566.0,545.5 L566.5,545.3 L567.0,544.3 L567.5,544.1 L568.0,544.0 L568.5,544.3 L569.0,545.1 L569.5,546.2 L570.0,536.2 L570.5,514.3 L571.0,484.1 L571.5,447.3 L572.0,441.2 L572.5,458.0 L573.0,471.9 L573.5,484.2 L574.0,493.5 L574.5,500.5 L575.0,506.8 L575.5,511.4 L576.0,516.3 L576.5,520.2 L577.0,523.9 L577.5,527.5 L578.0,529.5 L578.5,531.9 L579.0,533.1 L579.5,534.8 L580.0,536.1 L580.5,537.2 L581.0,538.0 L581.5,539.2 L582.0,539.6 L582.5,540.6 L583.0,540.0 L583.5,540.0 L584.0,540.2 L584.5,542.2 L585.0,542.3 L585.5,541.9 L586.0,540.7 L586.5,541.3 L587.0,542.1 L587.5,543.2 L588.0,543.5 L588.5,543.9 L589.0,543.6 L589.5,543.5 L590.0,543.1 L590.5,543.4 L591.0,543.9 L591.5,544.9 L592.0,544.9 L592.5,544.8 L593.0,543.7 L593.5,543.3 L594.0,543.6 L594.5,544.4 L595.0,545.6 L595.5,545.2 L596.0,545.4 L596.5,544.6 L597.0,543.9 L597.5,543.1 L598.0,543.3 L598.5,544.2 L599.0,544.5 L599.5,544.9 L600.0,545.0 L600.5,545.6 L601.0,545.4 L601.5,545.3 L602.0,545.5 L602.5,544.7 L603.0,544.3 L603.5,544.6 L604.0,545.7 L604.5,546.7 L605.0,545.8 L605.5,545.0 L606.0,544.2 L606.5,544.1 L607.0,544.4 L607.5,544.6 L608.0,545.7 L608.5,544.9 L609.0,544.9 L609.5,543.7 L610.0,543.8 L610.5,545.0 L611.0,546.4 L611.5,547.3 L612.0,546.6 L612.5,546.1 L613.0,546.0 L613.5,544.2 L614.0,542.7 L614.5,543.0 L615.0,543.3 L615.5,545.1 L616.0,545.2 L616.5,546.7 L617.0,546.2 L617.5,546.1 L618.0,545.6 L618.5,546.4 L619.0,545.9 L619.5,545.7 L620.0,545.8 L620.5,546.0 L621.0,546.6 L621.5,546.3 L622.0,547.3 L622.5,547.1 L623.0,546.6 L623.5,544.8 L624.0,544.8 L624.5,545.6 L625.0,545.9 L625.5,545.4 L626.0,543.8 L626.5,543.5 L627.0,543.3 L627.5,544.2 L628.0,544.9 L628.5,544.6 L629.0,544.8 L629.5,545.3 L630.0,546.8 L630.5,535.7 L631.0,514.1 L631.5,484.4 L632.0,448.7 L632.5,442.9 L633.0,458.5 L633.5,472.3 L634.0,484.4 L634.5,493.5 L635.0,500.4 L635.5,507.1 L636.0,512.8 L636.5,519.5 L637.0,522.8 L637.5,525.7 L638.0,527.7 L638.5,530.3 L639.0,532.0 L639.5,533.1 L640.0,534.6 L640.5,535.9 L641.0,537.2 L641.5,537.5 L642.0,540.0 L642.5,541.1 L643.0,541.3 L643.5,540.1 L644.0,539.7 L644.5,540.3 L645.0,541.4 L645.5,541.6 L646.0,541.4 L646.5,542.3 L647.0,542.5 L647.5,542.8 L648.0,542.5 L648.5,542.9 L649.0,543.4 L649.5,544.0 L650.0,543.6 L650.5,543.9 L651.0,543.9 L651.5,544.3 L652.0,544.3 L652.5,544.2 L653.0,544.8 L653.5,544.8 L654.0,543.9 L654.5,543.3 L655.0,543.3 L655.5,543.9 L656.0,544.2 L656.5,544.0 L657.0,543.3 L657.5,543.8 L658.0,543.6 L658.5,545.3 L659.0,546.5 L659.5,547.5 L660.0,546.9 L660.5,545.2 L661.0,544.4 L661.5,544.0 L662.0,544.8 L662.5,545.4 L663.0,544.8 L663.5,544.7 L664.0,544.4 L664.5,545.7 L665.0,545.3 L665.5,545.2 L666.0,544.6 L666.5,544.9 L667.0,545.1 L667.5,546.0 L668.0,545.2 L668.5,546.3 L669.0,544.9 L669.5,544.8 L670.0,544.4 L670.5,545.8 L671.0,546.2 L671.5,546.3 L672.0,545.1 L672.5,544.8 L673.0,544.4 L673.5,545.9 L674.0,546.3 L674.5,545.5 L675.0,543.2 L675.5,543.3 L676.0,544.4 L676.5,545.5 L677.0,545.6 L677.5,544.9 L678.0,545.7 L678.5,545.9 L679.0,545.6 L679.5,544.6 L680.0,545.0 L680.5,545.7 L681.0,544.8 L681.5,544.0 L682.0,543.7 L682.5,543.6 L683.0,544.0 L683.5,544.9 L684.0,546.0 L684.5,545.3 L685.0,544.5 L685.5,544.6 L686.0,545.0 L686.5,545.3 L687.0,544.8 L687.5,544.6 L688.0,545.3 L688.5,546.1 L689.0,546.3 L689.5,545.5 L690.0,545.2 L690.5,536.9 L691.0,518.0 L691.5,490.3 L692.0,455.6 L692.5,438.7 L693.0,455.5 L693.5,469.7 L694.0,480.7 L694.5,490.0 L695.0,498.1 L695.5,505.6 L696.0,512.0 L696.5,517.1 L697.0,521.3 L697.5,524.9 L698.0,527.6 L698.5,528.6 L699.0,530.0 L699.5,532.5 L700.0,534.2 L700.5,536.8 L701.0,537.1 L701.5,537.8 L702.0,537.2 L702.5,538.7 L703.0,539.7 L703.5,540.7 L704.0,540.8 L704.5,541.2 L705.0,541.9 L705.5,542.5 L706.0,543.5 L706.5,542.3 L707.0,542.0 L707.5,542.2 L708.0,543.7 L708.5,544.7 L709.0,544.6 L709.5,544.3 L710.0,542.5 L710.5,541.8 L711.0,542.5 L711.5,543.1 L712.0,543.7 L712.5,542.3 L713.0,542.8 L713.5,542.4 L714.0,543.6 L714.5,543.8 L715.0,544.6 L715.5,543.7 L716.0,543.7 L716.5,544.0 L717.0,543.2 L717.5,543.0 L718.0,542.6 L718.5,544.7 L719.0,545.3 L719.5,545.7 L720.0,545.5 L720.5,545.6 L721.0,545.3 L721.5,545.1 L722.0,544.1 L722.5,544.1 L723.0,544.1 L723.5,545.5 L724.0,545.0 L724.5,545.3 L725.0,544.4 L725.5,545.0 L726.0,545.5 L726.5,545.6 L727.0,545.1 L727.5,544.7 L728.0,545.2 L728.5,545.9 L729.0,546.2 L729.5,545.0 L730.0,545.3 L730.5,544.7 L731.0,544.8 L731.5,544.5 L732.0,544.1 L732.5,544.8 L733.0,545.5 L733.5,545.9 L734.0,545.4 L734.5,545.1 L735.0,545.7 L735.5,546.7 L736.0,545.1 L736.5,544.4 L737.0,544.9 L737.5,545.4 L738.0,545.6 L738.5,544.7 L739.0,545.3 L739.5,545.4 L740.0,544.0 L740.5,544.2 L741.0,543.7 L741.5,545.5 L742.0,545.9 L742.5,545.9 L743.0,545.5 L743.5,545.7 L744.0,547.2 L744.5,547.6 L745.0,546.5 L745.5,545.8 L746.0,544.9 L746.5,545.9 L747.0,545.9 L747.5,547.1 L748.0,545.0 L748.5,544.6 L749.0,543.6 L749.5,544.7 L750.0,544.3 L750.5,544.8 L751.0,537.1 L751.5,518.8 L752.0,490.3 L752.5,455.5 L753.0,438.1 L753.5,455.6 L754.0,470.1 L754.5,481.7 L755.0,489.7 L755.5,497.4 L756.0,504.3 L756.5,511.5 L757.0,515.9 L757.5,520.5 L758.0,523.2 L758.5,526.6 L759.0,528.7 L759.5,531.8 L760.0,533.3 L760.5,535.1 L761.0,535.7 L761.5,536.7 L762.0,537.0 L762.5,537.2 L763.0,538.1 L763.5,539.0 L764.0,541.0 L764.5,541.6 L765.0,543.0 L765.5,543.5 L766.0,543.7 L766.5,542.6 L767.0,541.7 L767.5,542.3 L768.0,543.0 L768.5,543.9 L769.0,543.4 L769.5,543.6 L770.0,543.7 L770.5,544.3 L771.0,544.6 L771.5,544.3 L772.0,544.4 L772.5,544.3 L773.0,544.8 L773.5,544.3 L774.0,545.9 L774.5,545.6 L775.0,545.6 L775.5,543.2 L776.0,542.7 L776.5,543.4 L777.0,544.0 L777.5,545.2 L778.0,544.8 L778.5,544.6 L779.0,543.9 L779.5,543.8 L780.0,544.3 L780.5,543.9 L781.0,544.1 L781.5,543.3 L782.0,544.0 L782.5,544.0 L783.0,544.9 L783.5,544.5 L784.0,544.5 L784.5,544.7 L785.0,544.3 L785.5,544.8 L786.0,544.7 L786.5,545.8 L787.0,546.1 L787.5,545.6 L788.0,544.9 L788.5,543.6 L789.0,544.3 L789.5,544.3 L790.0,544.3 L790.5,545.2 L791.0,545.6 L791.5,546.3 L792.0,545.9 L792.5,546.8 L793.0,545.9 L793.5,545.6 L794.0,545.2 L794.5,546.5 L795.0,546.0 L795.5,545.4 L796.0,544.9 L796.5,545.3 L797.0,545.4 L797.5,545.0 L798.0,544.9 L798.5,544.9 L799.0,545.4 L799.5,545.1 L800.0,544.7 L800.5,544.4 L801.0,544.6 L801.5,545.7 L802.0,545.7 L802.5,544.7 L803.0,545.3 L803.5,546.1 L804.0,547.5 L804.5,546.7 L805.0,546.1 L805.5,546.7 L806.0,545.8 L806.5,546.2 L807.0,545.6 L807.5,547.5 L808.0,547.1 L808.5,547.5 L809.0,546.5 L809.5,546.0 L810.0,544.7 L810.5,545.1 L811.0,545.0 L811.5,540.7 L812.0,523.1 L812.5,496.8 L813.0,463.9 L813.5,436.8 L814.0,455.6 L814.5,470.3 L815.0,481.0 L815.5,491.2 L816.0,499.4 L816.5,506.8 L817.0,511.1 L817.5,514.6 L818.0,518.9 L818.5,522.6 L819.0,525.7 L819.5,528.4 L820.0,530.8 L820.5,533.1 L821.0,533.9 L821.5,535.3 L822.0,537.0 L822.5,537.7 L823.0,538.7 L823.5,539.0 L824.0,539.5 L824.5,539.5 L825.0,540.1 L825.5,541.6 L826.0,542.4 L826.5,541.5 L827.0,540.6 L827.5,540.9 L828.0,542.4 L828.5,542.8 L829.0,542.3 L829.5,543.1 L830.0,542.6 L830.5,543.6 L831.0,543.5 L831.5,544.5 L832.0,543.9 L832.5,543.6 L833.0,544.0 L833.5,544.5 L834.0,545.0 L834.5,544.7 L835.0,544.6 L835.5,544.3 L836.0,544.4 L836.5,544.5 L837.0,545.1 L837.5,544.3 L838.0,544.5 L838.5,543.5 L839.0,544.0 L839.5,543.8 L840.0,544.3 L840.5,545.4 L841.0,545.1 L841.5,545.3 L842.0,545.7 L842.5,546.2 L843.0,546.3 L843.5,545.8 L844.0,546.1 L844.5,545.2 L845.0,545.6 L845.5,545.6 L846.0,547.0 L846.5,546.8 L847.0,546.2 L847.5,545.8 L848.0,546.1 L848.5,547.2 L849.0,546.4 L849.5,545.5 L850.0,545.7 L850.5,545.4 L851.0,546.1 L851.5,545.5 L852.0,545.6 L852.5,545.0 L853.0,544.6 L853.5,545.2 L854.0,545.1 L854.5,545.3 L855.0,544.9 L855.5,545.5 L856.0,546.1 L856.5,545.4 L857.0,545.5 L857.5,544.6 L858.0,545.2 L858.5,545.0 L859.0,546.1 L859.5,547.0 L860.0,547.0 L860.5,546.0 L861.0,546.0 L861.5,546.4 L862.0,547.5 L862.5,546.4 L863.0,546.7 L863.5,545.5 L864.0,544.4 L864.5,544.2 L865.0,543.9 L865.5,545.8 L866.0,545.3 L866.5,546.4 L867.0,545.3 L867.5,544.7 L868.0,544.8 L868.5,546.1 L869.0,546.9 L869.5,545.3 L870.0,545.2 L870.5,546.4 L871.0,547.1 L871.5,546.4 L872.0,544.7 L872.5,537.6 L873.0,517.7 L873.5,489.1 L874.0,453.2 L874.5,437.5 L875.0,454.8 L875.5,469.6 L876.0,481.4 L876.5,492.3 L877.0,499.4 L877.5,506.0 L878.0,510.7 L878.5,515.4 L879.0,519.2 L879.5,522.3 L880.0,526.0 L880.5,528.9 L881.0,532.0 L881.5,533.8 L882.0,535.1 L882.5,536.0 L883.0,537.6 L883.5,538.6 L884.0,538.8 L884.5,540.0 L885.0,539.9 L885.5,541.0 L886.0,540.6 L886.5,541.0 L887.0,541.1 L887.5,541.6 L888.0,541.7 L888.5,542.4 L889.0,542.7 L889.5,543.0 L890.0,542.7 L890.5,542.8 L891.0,543.2 L891.5,543.9 L892.0,543.7 L892.5,543.7 L893.0,543.4 L893.5,543.7 L894.0,544.5 L894.5,543.9 L895.0,543.5 L895.5,542.8 L896.0,543.3 L896.5,543.4 L897.0,544.3 L897.5,545.3 L898.0,545.3 L898.5,544.0 L899.0,543.7 L899.5,544.3 L900.0,544.5 L900.5,544.5 L901.0,544.5 L901.5,545.5 L902.0,545.1 L902.5,545.2 L903.0,544.8 L903.5,545.5 L904.0,545.4 L904.5,545.9 L905.0,545.5 L905.5,545.2 L906.0,545.1 L906.5,545.5 L907.0,545.5 L907.5,545.6 L908.0,546.4 L908.5,546.3 L909.0,545.4 L909.5,543.7 L910.0,543.9 L910.5,544.6 L911.0,544.0 L911.5,543.1 L912.0,543.5 L912.5,544.0 L913.0,545.3 L913.5,545.6 L914.0,544.7 L914.5,544.7 L915.0,544.1 L915.5,545.5 L916.0,545.4 L916.5,545.3 L917.0,545.8 L917.5,546.6 L918.0,546.7 L918.5,545.9 L919.0,545.6 L919.5,546.1 L920.0,547.4 L920.5,546.9 L921.0,546.8 L921.5,547.1 L922.0,546.9 L922.5,546.1 L923.0,545.8 L923.5,545.7 L924.0,546.6 L924.5,545.6 L925.0,545.5 L925.5,545.1 L926.0,545.5 L926.5,545.4 L927.0,546.1 L927.5,545.7 L928.0,546.5 L928.5,545.2 L929.0,545.1 L929.5,544.4 L930.0,545.0 L930.5,545.4 L931.0,545.7" fill="none" stroke="#000" stroke-width="4.5" stroke-linejoin="round" stroke-linecap="round"/>
<rect x="256" y="16.5" width="5" height="119.5" fill="#a30000"/>
<rect x="256" y="184" width="5" height="73.5" fill="#000"/>
<rect x="256" y="311.5" width="5" height="93" fill="#009a00"/>
<path d="M259,489 V563.8 H387.5" fill="none" stroke="#000" stroke-width="5"/>
<text transform="translate(-2.67,44.95) scale(0.6118,0.6118)" font-size="100" fill="#000">(a)</text>
<text transform="translate(126.74,61.60) scale(0.5208,0.5217)" font-size="100" fill="#a30000">Δ<tspan font-style="italic">F/F</tspan></text>
<text transform="translate(118.69,126.80) scale(0.5131,0.5348)" font-size="100" fill="#a30000">-10%</text>
<text transform="translate(92.21,238.26) scale(0.5189,0.5366)" font-size="100" fill="#000">60 mV</text>
<text transform="translate(125.73,342.50) scale(0.5227,0.5188)" font-size="100" fill="#009a00">Δ<tspan font-style="italic">F/F</tspan></text>
<text transform="translate(116.97,406.90) scale(0.5175,0.5304)" font-size="100" fill="#009a00">-12%</text>
<text transform="translate(92.51,547.87) scale(0.5178,0.5324)" font-size="100" fill="#000">60 mV</text>
<text transform="translate(236.26,610.78) scale(0.5094,0.5211)" font-size="100" fill="#000">300 ms</text>
<clipPath id="cb"><rect x="252.2" y="640" width="218.4" height="560"/></clipPath>
<g clip-path="url(#cb)">
<polygon points="246.8,1113.7 255.3,1113.7 263.8,1115.1 272.3,1113.6 280.8,1116.7 289.3,1079.5 297.8,971.7 306.3,959.0 314.8,998.0 323.3,1028.0 331.8,1046.0 340.3,1057.8 348.8,1072.6 357.3,1077.1 365.8,1085.7 374.3,1088.3 382.8,1091.5 391.3,1090.8 399.8,1095.0 408.3,1100.5 416.8,1098.1 425.3,1102.2 433.8,1100.4 442.3,1105.8 450.8,1104.1 459.3,1105.7 467.8,1112.5 476.3,1112.5 476.3,1158.9 467.8,1158.9 459.3,1162.3 450.8,1158.9 442.3,1164.2 433.8,1162.6 425.3,1161.8 416.8,1162.5 408.3,1157.5 399.8,1154.0 391.3,1155.2 382.8,1154.1 374.3,1150.3 365.8,1145.3 357.3,1142.9 348.8,1139.0 340.3,1129.2 331.8,1117.0 323.3,1098.0 314.8,1074.0 306.3,1043.0 297.8,1053.7 289.3,1139.5 280.8,1174.3 272.3,1173.4 263.8,1173.9 255.3,1173.3 246.8,1173.3" fill="#808080" fill-opacity="0.23"/>
<polygon points="246.8,1121.0 255.3,1121.0 263.8,1122.9 272.3,1122.8 280.8,1121.3 289.3,1031.5 297.8,871.0 306.3,851.8 314.8,921.5 323.3,978.5 331.8,1024.7 340.3,1053.6 348.8,1073.4 357.3,1080.3 365.8,1089.0 374.3,1096.3 382.8,1104.3 391.3,1107.6 399.8,1111.2 408.3,1111.9 416.8,1114.8 425.3,1116.1 433.8,1118.6 442.3,1117.3 450.8,1117.5 459.3,1119.4 467.8,1120.7 476.3,1120.7 476.3,1161.3 467.8,1161.3 459.3,1161.6 450.8,1162.5 442.3,1161.7 433.8,1158.8 425.3,1159.9 416.8,1159.2 408.3,1158.1 399.8,1154.8 391.3,1154.4 382.8,1148.7 374.3,1142.7 365.8,1136.0 357.3,1128.7 348.8,1117.6 340.3,1101.4 331.8,1074.3 323.3,1036.5 314.8,993.5 306.3,943.8 297.8,959.0 289.3,1079.5 280.8,1165.7 272.3,1162.2 263.8,1164.1 255.3,1162.0 246.8,1162.0" fill="#ff6666" fill-opacity="0.20"/>
<polygon points="246.8,1120.3 255.3,1120.3 263.8,1121.2 272.3,1120.4 280.8,1122.6 289.3,1012.5 297.8,822.5 306.3,843.5 314.8,938.5 323.3,983.5 331.8,1012.4 340.3,1032.3 348.8,1050.1 357.3,1058.4 365.8,1066.9 374.3,1081.0 382.8,1081.2 391.3,1085.1 399.8,1087.6 408.3,1092.1 416.8,1095.0 425.3,1097.9 433.8,1098.6 442.3,1104.9 450.8,1105.0 459.3,1108.0 467.8,1107.0 476.3,1107.0 476.3,1155.6 467.8,1155.6 459.3,1153.0 450.8,1154.0 442.3,1151.9 433.8,1155.8 425.3,1153.7 416.8,1153.4 408.3,1151.9 399.8,1151.4 391.3,1147.9 382.8,1146.8 374.3,1136.0 365.8,1133.1 357.3,1125.6 348.8,1116.9 340.3,1102.7 331.8,1078.6 323.3,1059.5 314.8,1018.5 306.3,931.5 297.8,920.5 289.3,1064.5 280.8,1166.4 272.3,1164.6 263.8,1167.8 255.3,1164.7 246.8,1164.7" fill="#a60000" fill-opacity="0.20"/>
<polygon points="246.8,1128.0 255.3,1128.0 263.8,1126.8 272.3,1128.1 280.8,1126.1 289.3,974.5 297.8,665.0 306.3,730.0 314.8,849.5 323.3,947.5 331.8,1013.3 340.3,1039.3 348.8,1060.2 357.3,1071.5 365.8,1082.2 374.3,1089.9 382.8,1093.9 391.3,1099.0 399.8,1103.0 408.3,1106.6 416.8,1108.9 425.3,1110.8 433.8,1112.4 442.3,1115.8 450.8,1117.5 459.3,1118.8 467.8,1119.9 476.3,1119.9 476.3,1154.1 467.8,1154.1 459.3,1153.6 450.8,1152.9 442.3,1152.6 433.8,1154.0 425.3,1153.2 416.8,1152.1 408.3,1151.4 399.8,1151.0 391.3,1149.0 382.8,1145.1 374.3,1142.1 365.8,1134.8 357.3,1128.5 348.8,1118.8 340.3,1097.7 331.8,1073.7 323.3,1019.5 314.8,933.5 306.3,864.0 297.8,835.0 289.3,1022.5 280.8,1158.9 272.3,1158.9 263.8,1158.2 255.3,1159.0 246.8,1159.0" fill="#009900" fill-opacity="0.21"/>
<path d="M246.8,1143.5 L255.3,1143.5 L263.8,1142.5 L272.3,1143.5 L280.8,1142.5 L289.3,998.5 L297.8,750.0 L306.3,797.0 L314.8,891.5 L323.3,983.5 L331.8,1043.5 L340.3,1068.5 L348.8,1089.5 L357.3,1100.0 L365.8,1108.5 L374.3,1116.0 L382.8,1119.5 L391.3,1124.0 L399.8,1127.0 L408.3,1129.0 L416.8,1130.5 L425.3,1132.0 L433.8,1133.2 L442.3,1134.2 L450.8,1135.2 L459.3,1136.2 L467.8,1137.0 L476.3,1137.0" fill="none" stroke="#009a00" stroke-width="6.5" stroke-linejoin="round"/>
<path d="M246.8,1142.5 L255.3,1142.5 L263.8,1144.5 L272.3,1142.5 L280.8,1144.5 L289.3,1038.5 L297.8,871.5 L306.3,887.5 L314.8,978.5 L323.3,1021.5 L331.8,1045.5 L340.3,1067.5 L348.8,1083.5 L357.3,1092.0 L365.8,1100.0 L374.3,1108.5 L382.8,1114.0 L391.3,1116.5 L399.8,1119.5 L408.3,1122.0 L416.8,1124.2 L425.3,1125.8 L433.8,1127.2 L442.3,1128.4 L450.8,1129.5 L459.3,1130.5 L467.8,1131.3 L476.3,1131.3" fill="none" stroke="#9c0000" stroke-width="6.8" stroke-linejoin="round"/>
<path d="M246.8,1141.5 L255.3,1141.5 L263.8,1143.5 L272.3,1142.5 L280.8,1143.5 L289.3,1055.5 L297.8,915.0 L306.3,897.8 L314.8,957.5 L323.3,1007.5 L331.8,1049.5 L340.3,1077.5 L348.8,1095.5 L357.3,1104.5 L365.8,1112.5 L374.3,1119.5 L382.8,1126.5 L391.3,1131.0 L399.8,1133.0 L408.3,1135.0 L416.8,1137.0 L425.3,1138.0 L433.8,1138.7 L442.3,1139.5 L450.8,1140.0 L459.3,1140.5 L467.8,1141.0 L476.3,1141.0" fill="none" stroke="#eb5555" stroke-width="7.2" stroke-linejoin="round"/>
<path d="M246.8,1143.5 L255.3,1143.5 L263.8,1144.5 L272.3,1143.5 L280.8,1145.5 L289.3,1109.5 L297.8,1012.7 L306.3,1001.0 L314.8,1036.0 L323.3,1063.0 L331.8,1081.5 L340.3,1093.5 L348.8,1105.8 L357.3,1110.0 L365.8,1115.5 L374.3,1119.3 L382.8,1122.8 L391.3,1123.0 L399.8,1124.5 L408.3,1129.0 L416.8,1130.3 L425.3,1132.0 L433.8,1131.5 L442.3,1135.0 L450.8,1131.5 L459.3,1134.0 L467.8,1135.7 L476.3,1135.7" fill="none" stroke="#696969" stroke-width="7.4" stroke-linejoin="round"/>
</g>
<path d="M253.0,1524.6 L253.5,1523.0 L254.0,1521.4 L254.5,1520.6 L255.0,1519.5 L255.5,1520.2 L256.0,1520.9 L256.5,1520.6 L257.0,1521.9 L257.5,1522.2 L258.0,1522.6 L258.5,1522.8 L259.0,1523.4 L259.5,1523.8 L260.0,1523.2 L260.5,1523.3 L261.0,1521.7 L261.5,1521.0 L262.0,1521.2 L262.5,1520.3 L263.0,1519.7 L263.5,1519.2 L264.0,1519.3 L264.5,1518.6 L265.0,1519.5 L265.5,1519.0 L266.0,1518.3 L266.5,1519.1 L267.0,1519.1 L267.5,1519.8 L268.0,1519.5 L268.5,1519.3 L269.0,1518.9 L269.5,1519.1 L270.0,1519.4 L270.5,1519.5 L271.0,1519.2 L271.5,1519.5 L272.0,1519.2 L272.5,1519.3 L273.0,1519.8 L273.5,1519.9 L274.0,1519.8 L274.5,1520.6 L275.0,1521.2 L275.5,1521.0 L276.0,1521.2 L276.5,1520.7 L277.0,1520.4 L277.5,1520.7 L278.0,1521.2 L278.5,1521.7 L279.0,1522.3 L279.5,1522.2 L280.0,1522.8 L280.5,1523.0 L281.0,1522.3 L281.5,1522.6 L282.0,1522.9 L282.5,1523.6 L283.0,1524.1 L283.5,1524.0 L284.0,1524.1 L284.5,1523.6 L285.0,1524.4 L285.5,1524.9 L286.0,1524.3 L286.5,1525.1 L287.0,1524.2 L287.5,1522.1 L288.0,1518.7 L288.5,1512.9 L289.0,1504.2 L289.5,1494.7 L290.0,1484.7 L290.5,1474.2 L291.0,1464.5 L291.5,1453.8 L292.0,1443.6 L292.5,1433.2 L293.0,1423.2 L293.5,1413.6 L294.0,1402.6 L294.5,1392.9 L295.0,1382.5 L295.5,1370.8 L296.0,1360.6 L296.5,1349.1 L297.0,1338.6 L297.5,1328.1 L298.0,1318.3 L298.5,1307.2 L299.0,1295.8 L299.5,1285.3 L300.0,1273.3 L300.5,1262.5 L301.0,1251.7 L301.5,1241.1 L302.0,1230.6 L302.5,1219.8 L303.0,1208.7 L303.5,1200.7 L304.0,1196.2 L304.5,1194.2 L305.0,1195.2 L305.5,1196.3 L306.0,1197.1 L306.5,1197.6 L307.0,1198.7 L307.5,1201.1 L308.0,1203.7 L308.5,1206.5 L309.0,1209.2 L309.5,1211.8 L310.0,1213.0 L310.5,1215.6 L311.0,1218.1 L311.5,1220.0 L312.0,1222.3 L312.5,1223.0 L313.0,1223.9 L313.5,1225.0 L314.0,1227.1 L314.5,1231.1 L315.0,1233.9 L315.5,1238.0 L316.0,1241.8 L316.5,1243.7 L317.0,1248.4 L317.5,1251.2 L318.0,1253.9 L318.5,1257.9 L319.0,1260.7 L319.5,1264.7 L320.0,1268.0 L320.5,1270.8 L321.0,1272.7 L321.5,1275.5 L322.0,1279.5 L322.5,1282.8 L323.0,1287.4 L323.5,1291.3 L324.0,1294.1 L324.5,1297.6 L325.0,1300.4 L325.5,1303.4 L326.0,1305.9 L326.5,1310.1 L327.0,1313.2 L327.5,1316.3 L328.0,1320.1 L328.5,1322.7 L329.0,1326.6 L329.5,1330.8 L330.0,1334.5 L330.5,1338.6 L331.0,1341.6 L331.5,1344.7 L332.0,1348.3 L332.5,1351.0 L333.0,1354.8 L333.5,1357.4 L334.0,1360.9 L334.5,1364.6 L335.0,1367.7 L335.5,1371.3 L336.0,1374.4 L336.5,1376.9 L337.0,1380.5 L337.5,1384.4 L338.0,1388.4 L338.5,1392.2 L339.0,1395.8 L339.5,1398.9 L340.0,1400.2 L340.5,1402.5 L341.0,1404.2 L341.5,1406.8 L342.0,1410.3 L342.5,1412.9 L343.0,1415.5 L343.5,1417.3 L344.0,1417.7 L344.5,1420.5 L345.0,1423.1 L345.5,1424.2 L346.0,1427.0 L346.5,1428.7 L347.0,1430.2 L347.5,1433.8 L348.0,1436.9 L348.5,1438.8 L349.0,1441.1 L349.5,1442.2 L350.0,1443.3 L350.5,1445.3 L351.0,1446.7 L351.5,1448.2 L352.0,1450.7 L352.5,1452.2 L353.0,1453.5 L353.5,1455.6 L354.0,1456.0 L354.5,1457.6 L355.0,1458.0 L355.5,1458.5 L356.0,1460.1 L356.5,1461.3 L357.0,1463.7 L357.5,1465.6 L358.0,1467.2 L358.5,1469.1 L359.0,1470.1 L359.5,1471.7 L360.0,1472.5 L360.5,1472.3 L361.0,1472.8 L361.5,1473.2 L362.0,1474.4 L362.5,1475.4 L363.0,1475.9 L363.5,1477.2 L364.0,1478.1 L364.5,1479.3 L365.0,1481.6 L365.5,1482.9 L366.0,1482.9 L366.5,1483.7 L367.0,1484.0 L367.5,1484.4 L368.0,1485.3 L368.5,1486.2 L369.0,1487.8 L369.5,1488.6 L370.0,1490.2 L370.5,1490.7 L371.0,1491.0 L371.5,1490.9 L372.0,1491.5 L372.5,1492.7 L373.0,1493.5 L373.5,1494.3 L374.0,1494.6 L374.5,1495.1 L375.0,1495.3 L375.5,1496.2 L376.0,1496.3 L376.5,1496.3 L377.0,1496.2 L377.5,1496.6 L378.0,1498.1 L378.5,1499.4 L379.0,1499.9 L379.5,1500.7 L380.0,1501.0 L380.5,1501.4 L381.0,1503.0 L381.5,1503.6 L382.0,1504.7 L382.5,1505.8 L383.0,1507.0 L383.5,1507.4 L384.0,1506.9 L384.5,1507.4 L385.0,1506.4 L385.5,1506.9 L386.0,1507.1 L386.5,1506.7 L387.0,1508.2 L387.5,1507.9 L388.0,1509.2 L388.5,1510.2 L389.0,1510.0 L389.5,1511.0 L390.0,1511.2 L390.5,1511.3 L391.0,1511.5 L391.5,1512.0 L392.0,1512.0 L392.5,1512.3 L393.0,1513.1 L393.5,1513.1 L394.0,1513.8 L394.5,1514.3 L395.0,1514.7 L395.5,1515.2 L396.0,1516.0 L396.5,1516.0 L397.0,1515.9 L397.5,1515.5 L398.0,1514.0 L398.5,1514.5 L399.0,1515.0 L399.5,1516.3 L400.0,1516.7 L400.5,1516.2 L401.0,1515.8 L401.5,1516.1 L402.0,1517.2 L402.5,1517.6 L403.0,1517.9 L403.5,1517.3 L404.0,1516.5 L404.5,1516.8 L405.0,1516.4 L405.5,1516.4 L406.0,1517.2 L406.5,1517.3 L407.0,1517.5 L407.5,1517.4 L408.0,1517.6 L408.5,1517.3 L409.0,1517.1 L409.5,1517.2 L410.0,1516.7 L410.5,1516.9 L411.0,1517.6 L411.5,1517.6 L412.0,1517.8 L412.5,1518.3 L413.0,1518.7 L413.5,1519.3 L414.0,1519.6 L414.5,1519.1 L415.0,1519.0 L415.5,1518.1 L416.0,1517.6 L416.5,1518.3 L417.0,1518.0 L417.5,1518.4 L418.0,1518.4 L418.5,1518.2 L419.0,1517.9 L419.5,1518.8 L420.0,1519.3 L420.5,1518.4 L421.0,1518.7 L421.5,1517.7 L422.0,1517.9 L422.5,1518.8 L423.0,1518.9 L423.5,1519.0 L424.0,1519.0 L424.5,1518.5 L425.0,1519.3 L425.5,1519.3 L426.0,1519.2 L426.5,1518.7 L427.0,1518.2 L427.5,1518.3 L428.0,1518.2 L428.5,1519.6 L429.0,1519.3 L429.5,1518.5 L430.0,1517.5 L430.5,1517.1 L431.0,1516.8 L431.5,1517.4 L432.0,1518.7 L432.5,1518.5 L433.0,1519.3 L433.5,1520.2 L434.0,1519.6 L434.5,1519.8 L435.0,1518.9 L435.5,1518.6 L436.0,1518.8 L436.5,1519.4 L437.0,1520.3 L437.5,1520.1 L438.0,1519.8 L438.5,1519.0 L439.0,1518.6 L439.5,1519.0 L440.0,1519.8 L440.5,1519.4 L441.0,1518.9 L441.5,1518.7 L442.0,1517.8 L442.5,1518.3 L443.0,1517.9 L443.5,1517.7 L444.0,1518.0 L444.5,1517.9 L445.0,1518.4 L445.5,1518.7 L446.0,1519.3 L446.5,1519.8 L447.0,1519.9 L447.5,1519.6 L448.0,1518.9 L448.5,1518.3 L449.0,1518.4 L449.5,1518.4 L450.0,1518.6 L450.5,1519.0 L451.0,1519.5 L451.5,1519.3 L452.0,1519.3 L452.5,1519.4 L453.0,1519.2 L453.5,1519.1 L454.0,1518.7 L454.5,1518.7 L455.0,1518.2 L455.5,1518.7 L456.0,1518.8 L456.5,1519.3 L457.0,1519.3 L457.5,1519.9 L458.0,1520.7 L458.5,1520.5 L459.0,1521.5 L459.5,1521.0 L460.0,1520.5 L460.5,1521.0 L461.0,1520.3 L461.5,1520.2 L462.0,1519.7 L462.5,1518.7 L463.0,1519.1 L463.5,1518.8 L464.0,1519.4 L464.5,1519.3 L465.0,1518.9 L465.5,1519.5 L466.0,1519.8 L466.5,1519.6 L467.0,1519.0 L467.5,1519.0 L468.0,1518.1 L468.5,1518.3 L469.0,1518.6 L469.5,1518.9 L470.0,1520.3 L470.5,1521.4" fill="none" stroke="#000" stroke-width="8.6" stroke-linejoin="round"/>
<rect x="222" y="1062.7" width="6" height="112.5" fill="#000"/>
<path d="M223.8,1390.7 V1556.2 H369.1" fill="none" stroke="#000" stroke-width="5"/>
<text transform="translate(-3.87,699.43) scale(0.6455,0.6128)" font-size="100" fill="#000">(b)</text>
<text transform="translate(66.59,1105.40) scale(0.5124,0.5333)" font-size="100" fill="#000">|Δ<tspan font-style="italic">F/F</tspan>|</text>
<text transform="translate(130.47,1170.07) scale(0.5073,0.5268)" font-size="100" fill="#000">3%</text>
<text transform="translate(47.74,1494.08) scale(0.5156,0.5239)" font-size="100" fill="#000">30 mV</text>
<text transform="translate(221.71,1609.08) scale(0.5176,0.5169)" font-size="100" fill="#000">20 ms</text>
<rect x="631.8" y="879.0" width="60.6" height="396.3" fill="#009a00" stroke="#1a1a1a" stroke-width="0.7"/>
<rect x="707.3" y="1105.4" width="60.6" height="169.9" fill="#808080" stroke="#1a1a1a" stroke-width="0.7"/>
<rect x="783.1" y="990.5" width="60.6" height="284.8" fill="#a30000" stroke="#1a1a1a" stroke-width="0.7"/>
<rect x="858.9" y="1016.5" width="60.6" height="258.8" fill="#ff6666" stroke="#1a1a1a" stroke-width="0.7"/>
<path d="M624.7,672.6 V1275.3 H926" fill="none" stroke="#4d4d4d" stroke-width="0.9"/>
<path d="M624.7,1275.3 h6" stroke="#4d4d4d" stroke-width="0.9"/>
<path d="M624.7,1200.0 h6" stroke="#4d4d4d" stroke-width="0.9"/>
<path d="M624.7,1124.6 h6" stroke="#4d4d4d" stroke-width="0.9"/>
<path d="M624.7,1049.3 h6" stroke="#4d4d4d" stroke-width="0.9"/>
<path d="M624.7,973.9 h6" stroke="#4d4d4d" stroke-width="0.9"/>
<path d="M624.7,898.6 h6" stroke="#4d4d4d" stroke-width="0.9"/>
<path d="M624.7,823.3 h6" stroke="#4d4d4d" stroke-width="0.9"/>
<path d="M624.7,747.9 h6" stroke="#4d4d4d" stroke-width="0.9"/>
<path d="M624.7,672.6 h6" stroke="#4d4d4d" stroke-width="0.9"/>
<circle cx="662.0" cy="707.8" r="6.6" fill="#999" stroke="#1a1a1a" stroke-width="0.8"/>
<circle cx="662.0" cy="773.0" r="6.6" fill="#999" stroke="#1a1a1a" stroke-width="0.8"/>
<circle cx="662.0" cy="803.2" r="6.6" fill="#999" stroke="#1a1a1a" stroke-width="0.8"/>
<circle cx="662.0" cy="852.0" r="6.6" fill="#999" stroke="#1a1a1a" stroke-width="0.8"/>
<circle cx="662.0" cy="877.7" r="6.6" fill="#999" stroke="#1a1a1a" stroke-width="0.8"/>
<circle cx="662.0" cy="900.3" r="6.6" fill="#999" stroke="#1a1a1a" stroke-width="0.8"/>
<circle cx="662.0" cy="915.6" r="6.6" fill="#999" stroke="#1a1a1a" stroke-width="0.8"/>
<circle cx="662.0" cy="953.5" r="6.6" fill="#999" stroke="#1a1a1a" stroke-width="0.8"/>
<circle cx="662.0" cy="955.5" r="6.6" fill="#999" stroke="#1a1a1a" stroke-width="0.8"/>
<circle cx="662.0" cy="976.4" r="6.6" fill="#999" stroke="#1a1a1a" stroke-width="0.8"/>
<circle cx="737.6" cy="1058.4" r="6.6" fill="#999" stroke="#1a1a1a" stroke-width="0.8"/>
<circle cx="737.6" cy="1073.7" r="6.6" fill="#999" stroke="#1a1a1a" stroke-width="0.8"/>
<circle cx="737.6" cy="1077.4" r="6.6" fill="#999" stroke="#1a1a1a" stroke-width="0.8"/>
<circle cx="737.6" cy="1092.0" r="6.6" fill="#999" stroke="#1a1a1a" stroke-width="0.8"/>
<circle cx="737.6" cy="1112.0" r="6.6" fill="#999" stroke="#1a1a1a" stroke-width="0.8"/>
<circle cx="737.6" cy="1130.3" r="6.6" fill="#999" stroke="#1a1a1a" stroke-width="0.8"/>
<circle cx="737.6" cy="1143.0" r="6.6" fill="#999" stroke="#1a1a1a" stroke-width="0.8"/>
<circle cx="737.6" cy="1145.7" r="6.6" fill="#999" stroke="#1a1a1a" stroke-width="0.8"/>
<circle cx="813.3" cy="929.5" r="6.6" fill="#999" stroke="#1a1a1a" stroke-width="0.8"/>
<circle cx="813.3" cy="967.9" r="6.6" fill="#999" stroke="#1a1a1a" stroke-width="0.8"/>
<circle cx="813.3" cy="969.7" r="6.6" fill="#999" stroke="#1a1a1a" stroke-width="0.8"/>
<circle cx="813.3" cy="986.0" r="6.6" fill="#999" stroke="#1a1a1a" stroke-width="0.8"/>
<circle cx="813.3" cy="991.6" r="6.6" fill="#999" stroke="#1a1a1a" stroke-width="0.8"/>
<circle cx="813.3" cy="1008.0" r="6.6" fill="#999" stroke="#1a1a1a" stroke-width="0.8"/>
<circle cx="813.3" cy="1030.0" r="6.6" fill="#999" stroke="#1a1a1a" stroke-width="0.8"/>
<circle cx="813.3" cy="1054.4" r="6.6" fill="#999" stroke="#1a1a1a" stroke-width="0.8"/>
<circle cx="888.9" cy="959.5" r="6.6" fill="#999" stroke="#1a1a1a" stroke-width="0.8"/>
<circle cx="888.9" cy="968.6" r="6.6" fill="#999" stroke="#1a1a1a" stroke-width="0.8"/>
<circle cx="888.9" cy="984.3" r="6.6" fill="#999" stroke="#1a1a1a" stroke-width="0.8"/>
<circle cx="888.9" cy="993.4" r="6.6" fill="#999" stroke="#1a1a1a" stroke-width="0.8"/>
<circle cx="888.9" cy="1002.5" r="6.6" fill="#999" stroke="#1a1a1a" stroke-width="0.8"/>
<circle cx="888.9" cy="1031.8" r="6.6" fill="#999" stroke="#1a1a1a" stroke-width="0.8"/>
<circle cx="888.9" cy="1039.0" r="6.6" fill="#999" stroke="#1a1a1a" stroke-width="0.8"/>
<circle cx="888.9" cy="1050.0" r="6.6" fill="#999" stroke="#1a1a1a" stroke-width="0.8"/>
<circle cx="888.9" cy="1053.7" r="6.6" fill="#999" stroke="#1a1a1a" stroke-width="0.8"/>
<circle cx="888.9" cy="1080.3" r="6.6" fill="#999" stroke="#1a1a1a" stroke-width="0.8"/>
<rect x="658.1" y="853.7" width="7.8" height="52.1" fill="#000"/>
<rect x="654.2" y="849.5" width="15.6" height="8.4" rx="0.9" fill="#000"/>
<rect x="654.2" y="901.6" width="15.6" height="8.4" rx="0.9" fill="#000"/>
<rect x="733.7" y="1096.7" width="7.8" height="18.0" fill="#000"/>
<rect x="729.8" y="1092.5" width="15.6" height="8.4" rx="0.9" fill="#000"/>
<rect x="729.8" y="1110.5" width="15.6" height="8.4" rx="0.9" fill="#000"/>
<rect x="809.4" y="980.0" width="7.8" height="21.4" fill="#000"/>
<rect x="805.5" y="975.8" width="15.6" height="8.4" rx="0.9" fill="#000"/>
<rect x="805.5" y="997.2" width="15.6" height="8.4" rx="0.9" fill="#000"/>
<rect x="885.0" y="1003.3" width="7.8" height="25.6" fill="#000"/>
<rect x="881.1" y="999.1" width="15.6" height="8.4" rx="0.9" fill="#000"/>
<rect x="881.1" y="1024.7" width="15.6" height="8.4" rx="0.9" fill="#000"/>
<rect x="662.0" y="679.4" width="228.2" height="7.7" fill="#000"/>
<rect x="735.2" y="739.4" width="155.0" height="7.7" fill="#000"/>
<rect x="735.2" y="799.4" width="77.5" height="7.7" fill="#000"/>
<rect x="811.1" y="859.4" width="76.8" height="7.7" fill="#000"/>
<text transform="translate(562.13,690.55) scale(0.4894,0.5479)" font-size="100" fill="#262626">16</text>
<text transform="translate(562.22,766.50) scale(0.4772,0.5609)" font-size="100" fill="#262626">14</text>
<text transform="translate(562.09,842.00) scale(0.4944,0.5486)" font-size="100" fill="#262626">12</text>
<text transform="translate(566.77,917.45) scale(0.4840,0.5493)" font-size="100" fill="#262626">10</text>
<text transform="translate(577.37,992.65) scale(0.5170,0.5479)" font-size="100" fill="#262626">8</text>
<text transform="translate(576.39,1067.65) scale(0.5413,0.5493)" font-size="100" fill="#262626">6</text>
<text transform="translate(577.42,1143.10) scale(0.5140,0.5493)" font-size="100" fill="#262626">4</text>
<text transform="translate(577.07,1218.00) scale(0.5253,0.5414)" font-size="100" fill="#262626">2</text>
<text transform="translate(577.65,1292.85) scale(0.5116,0.5493)" font-size="100" fill="#262626">0</text>
<text transform="translate(746.76,691.14) scale(0.4952,0.4600)" font-size="100" fill="#000">***</text>
<text transform="translate(783.56,751.94) scale(0.4916,0.4629)" font-size="100" fill="#000">***</text>
<text transform="translate(745.17,812.13) scale(0.4890,0.4686)" font-size="100" fill="#000">***</text>
<text transform="translate(807.67,854.71) scale(0.5278,0.4945)" font-size="100" fill="#000">n.s.</text>
<text transform="translate(469.32,700.21) scale(0.6469,0.6139)" font-size="100" fill="#000">(c)</text>
<text transform="translate(532.00,1086.02) rotate(-90) scale(0.4693,0.5217)" font-size="100" fill="#000">|Δ<tspan font-style="italic">F/F</tspan>|</text>
<text transform="translate(532.00,945.89) rotate(-90) scale(0.5491,0.5217)" font-size="100" fill="#000">(%)</text>
<text transform="translate(680.80,1558.06) rotate(-90) scale(0.5109,0.5435)" font-size="100" fill="#000">Ace-mNeon</text>
<text transform="translate(757.00,1503.16) rotate(-90) scale(0.5159,0.5522)" font-size="100" fill="#000">VARNAM</text>
<text transform="translate(831.90,1692.36) rotate(-90) scale(0.5116,0.5474)" font-size="100" fill="#000">Ace-7<tspan font-style="italic">aa</tspan>-mScarlet</text>
<text transform="translate(907.80,1692.36) rotate(-90) scale(0.5116,0.5533)" font-size="100" fill="#000">Ace-8<tspan font-style="italic">aa</tspan>-mScarlet</text>
<clipPath id="cd"><rect x="221.5" y="1717.0" width="680.1" height="531.2"/></clipPath>
<g clip-path="url(#cd)" fill="none" stroke="#737373" stroke-width="1" stroke-dasharray="11.5 7.5">
<path d="M221.5,1951.4 L227.2,1957.9 L232.9,1964.3 L238.6,1970.6 L244.4,1976.7 L250.1,1982.7 L255.8,1988.5 L261.5,1994.2 L267.2,1999.8 L272.9,2005.3 L278.6,2010.6 L284.4,2015.9 L290.1,2021.0 L295.8,2026.0 L301.5,2030.9 L307.2,2035.7 L312.9,2040.3 L318.7,2044.9 L324.4,2049.4 L330.1,2053.8 L335.8,2058.0 L341.5,2062.2 L347.2,2066.3 L352.9,2070.3 L358.7,2074.2 L364.4,2078.1 L370.1,2081.8 L375.8,2085.5 L381.5,2089.1 L387.2,2092.6 L392.9,2096.0 L398.7,2099.3 L404.4,2102.6 L410.1,2105.8 L415.8,2109.0 L421.5,2112.0 L427.2,2115.0 L433.0,2118.0 L438.7,2120.8 L444.4,2123.6 L450.1,2126.4 L455.8,2129.1 L461.5,2131.7 L467.2,2134.2 L473.0,2136.8 L478.7,2139.2 L484.4,2141.6 L490.1,2144.0 L495.8,2146.2 L501.5,2148.5 L507.2,2150.7 L513.0,2152.8 L518.7,2154.9 L524.4,2157.0 L530.1,2159.0 L535.8,2161.0 L541.5,2162.9 L547.2,2164.8 L553.0,2166.6 L558.7,2168.4 L564.4,2170.1 L570.1,2171.9 L575.8,2173.5 L581.5,2175.2 L587.3,2176.8 L593.0,2178.4 L598.7,2179.9 L604.4,2181.4 L610.1,2182.9 L615.8,2184.3 L621.5,2185.7 L627.3,2187.1 L633.0,2188.4 L638.7,2189.8 L644.4,2191.0 L650.1,2192.3 L655.8,2193.5 L661.5,2194.7 L667.3,2195.9 L673.0,2197.1 L678.7,2198.2 L684.4,2199.3 L690.1,2200.4 L695.8,2201.4 L701.5,2202.5 L707.3,2203.5 L713.0,2204.4 L718.7,2205.4 L724.4,2206.4 L730.1,2207.3 L735.8,2208.2 L741.6,2209.1 L747.3,2209.9 L753.0,2210.8 L758.7,2211.6 L764.4,2212.4 L770.1,2213.2 L775.8,2213.9 L781.6,2214.7 L787.3,2215.4 L793.0,2216.2 L798.7,2216.9 L804.4,2217.6 L810.1,2218.2 L815.8,2218.9 L821.6,2219.5 L827.3,2220.2 L833.0,2220.8 L838.7,2221.4 L844.4,2222.0 L850.1,2222.6 L855.9,2223.1 L861.6,2223.7 L867.3,2224.2 L873.0,2224.7 L878.7,2225.3 L884.4,2225.8 L890.1,2226.3 L895.9,2226.7 L901.6,2227.2"/>
<path d="M335.8,1677.7 L341.5,1690.3 L347.2,1702.6 L352.9,1714.6 L358.7,1726.3 L364.4,1737.8 L370.1,1749.1 L375.8,1760.0 L381.5,1770.8 L387.2,1781.3 L392.9,1791.6 L398.7,1801.6 L404.4,1811.5 L410.1,1821.1 L415.8,1830.5 L421.5,1839.7 L427.2,1848.7 L433.0,1857.5 L438.7,1866.1 L444.4,1874.5 L450.1,1882.7 L455.8,1890.8 L461.5,1898.6 L467.2,1906.3 L473.0,1913.9 L478.7,1921.2 L484.4,1928.4 L490.1,1935.5 L495.8,1942.3 L501.5,1949.1 L507.2,1955.7 L513.0,1962.1 L518.7,1968.4 L524.4,1974.6 L530.1,1980.6 L535.8,1986.5 L541.5,1992.2 L547.2,1997.9 L553.0,2003.4 L558.7,2008.8 L564.4,2014.0 L570.1,2019.2 L575.8,2024.2 L581.5,2029.2 L587.3,2034.0 L593.0,2038.7 L598.7,2043.3 L604.4,2047.8 L610.1,2052.2 L615.8,2056.6 L621.5,2060.8 L627.3,2064.9 L633.0,2068.9 L638.7,2072.9 L644.4,2076.7 L650.1,2080.5 L655.8,2084.2 L661.5,2087.8 L667.3,2091.4 L673.0,2094.8 L678.7,2098.2 L684.4,2101.5 L690.1,2104.7 L695.8,2107.9 L701.5,2111.0 L707.3,2114.0 L713.0,2116.9 L718.7,2119.8 L724.4,2122.7 L730.1,2125.4 L735.8,2128.1 L741.6,2130.8 L747.3,2133.4 L753.0,2135.9 L758.7,2138.4 L764.4,2140.8 L770.1,2143.1 L775.8,2145.4 L781.6,2147.7 L787.3,2149.9 L793.0,2152.1 L798.7,2154.2 L804.4,2156.3 L810.1,2158.3 L815.8,2160.3 L821.6,2162.2 L827.3,2164.1 L833.0,2166.0 L838.7,2167.8 L844.4,2169.5 L850.1,2171.3 L855.9,2173.0 L861.6,2174.6 L867.3,2176.2 L873.0,2177.8 L878.7,2179.4 L884.4,2180.9 L890.1,2182.4 L895.9,2183.8 L901.6,2185.2"/>
<path d="M467.2,1678.4 L473.0,1691.0 L478.7,1703.2 L484.4,1715.2 L490.1,1727.0 L495.8,1738.4 L501.5,1749.7 L507.2,1760.6 L513.0,1771.4 L518.7,1781.9 L524.4,1792.1 L530.1,1802.2 L535.8,1812.0 L541.5,1821.6 L547.2,1831.0 L553.0,1840.2 L558.7,1849.2 L564.4,1857.9 L570.1,1866.5 L575.8,1874.9 L581.5,1883.2 L587.3,1891.2 L593.0,1899.0 L598.7,1906.7 L604.4,1914.3 L610.1,1921.6 L615.8,1928.8 L621.5,1935.8 L627.3,1942.7 L633.0,1949.4 L638.7,1956.0 L644.4,1962.4 L650.1,1968.7 L655.8,1974.9 L661.5,1980.9 L667.3,1986.8 L673.0,1992.5 L678.7,1998.2 L684.4,2003.7 L690.1,2009.1 L695.8,2014.3 L701.5,2019.5 L707.3,2024.5 L713.0,2029.4 L718.7,2034.2 L724.4,2039.0 L730.1,2043.6 L735.8,2048.1 L741.6,2052.5 L747.3,2056.8 L753.0,2061.0 L758.7,2065.1 L764.4,2069.2 L770.1,2073.1 L775.8,2076.9 L781.6,2080.7 L787.3,2084.4 L793.0,2088.0 L798.7,2091.5 L804.4,2095.0 L810.1,2098.4 L815.8,2101.7 L821.6,2104.9 L827.3,2108.0 L833.0,2111.1 L838.7,2114.1 L844.4,2117.1 L850.1,2120.0 L855.9,2122.8 L861.6,2125.6 L867.3,2128.3 L873.0,2130.9 L878.7,2133.5 L884.4,2136.0 L890.1,2138.5 L895.9,2140.9 L901.6,2143.3"/>
<path d="M553.0,1677.0 L558.7,1689.5 L564.4,1701.8 L570.1,1713.9 L575.8,1725.6 L581.5,1737.1 L587.3,1748.4 L593.0,1759.4 L598.7,1770.2 L604.4,1780.7 L610.1,1791.0 L615.8,1801.0 L621.5,1810.9 L627.3,1820.5 L633.0,1829.9 L638.7,1839.1 L644.4,1848.1 L650.1,1856.9 L655.8,1865.6 L661.5,1874.0 L667.3,1882.2 L673.0,1890.3 L678.7,1898.2 L684.4,1905.9 L690.1,1913.4 L695.8,1920.8 L701.5,1928.0 L707.3,1935.0 L713.0,1941.9 L718.7,1948.7 L724.4,1955.3 L730.1,1961.7 L735.8,1968.0 L741.6,1974.2 L747.3,1980.2 L753.0,1986.1 L758.7,1991.9 L764.4,1997.5 L770.1,2003.1 L775.8,2008.4 L781.6,2013.7 L787.3,2018.9 L793.0,2023.9 L798.7,2028.9 L804.4,2033.7 L810.1,2038.4 L815.8,2043.0 L821.6,2047.6 L827.3,2052.0 L833.0,2056.3 L838.7,2060.5 L844.4,2064.7 L850.1,2068.7 L855.9,2072.6 L861.6,2076.5 L867.3,2080.3 L873.0,2084.0 L878.7,2087.6 L884.4,2091.1 L890.1,2094.6 L895.9,2098.0 L901.6,2101.3"/>
<path d="M615.8,1673.2 L621.5,1685.9 L627.3,1698.2 L633.0,1710.3 L638.7,1722.2 L644.4,1733.8 L650.1,1745.1 L655.8,1756.2 L661.5,1767.0 L667.3,1777.6 L673.0,1788.0 L678.7,1798.1 L684.4,1808.0 L690.1,1817.7 L695.8,1827.2 L701.5,1836.4 L707.3,1845.5 L713.0,1854.4 L718.7,1863.0 L724.4,1871.5 L730.1,1879.8 L735.8,1887.9 L741.6,1895.9 L747.3,1903.6 L753.0,1911.2 L758.7,1918.6 L764.4,1925.9 L770.1,1933.0 L775.8,1939.9 L781.6,1946.7 L787.3,1953.3 L793.0,1959.8 L798.7,1966.2 L804.4,1972.4 L810.1,1978.5 L815.8,1984.4 L821.6,1990.2 L827.3,1995.9 L833.0,2001.4 L838.7,2006.9 L844.4,2012.2 L850.1,2017.4 L855.9,2022.5 L861.6,2027.4 L867.3,2032.3 L873.0,2037.0 L878.7,2041.7 L884.4,2046.2 L890.1,2050.7 L895.9,2055.0 L901.6,2059.3"/>
</g>
<path d="M221.5,1717.0 V2248.2 H901.6" fill="none" stroke="#000" stroke-width="1"/>
<path d="M221.5,2115.4 h7.5" stroke="#000" stroke-width="1"/>
<path d="M221.5,1982.6 h7.5" stroke="#000" stroke-width="1"/>
<path d="M221.5,1849.8 h7.5" stroke="#000" stroke-width="1"/>
<path d="M221.5,1717.0 h7.5" stroke="#000" stroke-width="1"/>
<path d="M310.5,2248.2 v-3.8" stroke="#000" stroke-width="0.7"/>
<path d="M362.5,2248.2 v-3.8" stroke="#000" stroke-width="0.7"/>
<path d="M399.4,2248.2 v-3.8" stroke="#000" stroke-width="0.7"/>
<path d="M428.1,2248.2 v-3.8" stroke="#000" stroke-width="0.7"/>
<path d="M451.5,2248.2 v-3.8" stroke="#000" stroke-width="0.7"/>
<path d="M471.3,2248.2 v-3.8" stroke="#000" stroke-width="0.7"/>
<path d="M488.4,2248.2 v-3.8" stroke="#000" stroke-width="0.7"/>
<path d="M503.5,2248.2 v-3.8" stroke="#000" stroke-width="0.7"/>
<path d="M517.0,2248.2 v-7.0" stroke="#000" stroke-width="1"/>
<path d="M606.0,2248.2 v-3.8" stroke="#000" stroke-width="0.7"/>
<path d="M658.1,2248.2 v-3.8" stroke="#000" stroke-width="0.7"/>
<path d="M695.0,2248.2 v-3.8" stroke="#000" stroke-width="0.7"/>
<path d="M723.6,2248.2 v-3.8" stroke="#000" stroke-width="0.7"/>
<path d="M747.0,2248.2 v-3.8" stroke="#000" stroke-width="0.7"/>
<path d="M766.8,2248.2 v-3.8" stroke="#000" stroke-width="0.7"/>
<path d="M784.0,2248.2 v-3.8" stroke="#000" stroke-width="0.7"/>
<path d="M799.1,2248.2 v-3.8" stroke="#000" stroke-width="0.7"/>
<path d="M812.6,2248.2 v-7.0" stroke="#000" stroke-width="1"/>
<path d="M901.6,2248.2 v-3.8" stroke="#000" stroke-width="0.7"/>
<rect x="468.1" y="2197.8" width="71.6" height="11" fill="#000"/>
<path d="M508.4,2183.8 l14.4,19.5 l-14.4,19.5 l-14.4,-19.5 z" fill="#000" stroke="#404040" stroke-width="1.2"/>
<rect x="692" y="2093.5" width="49.2" height="10.4" fill="#808080"/>
<path d="M719.0,2078.9 l15.0,19.8 l-15.0,19.8 l-15.0,-19.8 z" fill="#808080" stroke="#404040" stroke-width="1.2"/>
<rect x="721.8" y="1992" width="47" height="10.2" fill="#a30000"/>
<path d="M747.2,1977.3 l15.0,19.8 l-15.0,19.8 l-15.0,-19.8 z" fill="#a30000" stroke="#404040" stroke-width="1.2"/>
<rect x="716.4" y="2014.6" width="46.1" height="10.2" fill="#eb6060"/>
<path d="M741.5,1999.9 l15.0,19.8 l-15.0,19.8 l-15.0,-19.8 z" fill="#e65c5c" stroke="#404040" stroke-width="1.2"/>
<rect x="730" y="1894.3" width="40.4" height="10.2" fill="#009a00"/>
<rect x="746.6" y="1876.5" width="10.2" height="46.7" fill="#009a00"/>
<path d="M751.7,1879.6 l15.0,19.8 l-15.0,19.8 l-15.0,-19.8 z" fill="#009a00" stroke="#404040" stroke-width="1.2"/>
<path d="M261.7,1738.0 l15.2,19.6 l-15.2,19.6 l-15.2,-19.6 z" fill="#bfbfbf" stroke="#404040" stroke-width="1.2"/>
<text transform="translate(285.34,1775.20) scale(0.5169,0.5101)" font-size="100" fill="#000">VARNAM</text>
<path d="M261.7,1783.6 l15.2,19.6 l-15.2,19.6 l-15.2,-19.6 z" fill="#000" stroke="#404040" stroke-width="1.2"/>
<text transform="translate(283.71,1821.70) scale(0.4991,0.5072)" font-size="100" fill="#000">FlicR1</text>
<path d="M261.7,1829.6 l15.2,19.6 l-15.2,19.6 l-15.2,-19.6 z" fill="#009a00" stroke="#404040" stroke-width="1.2"/>
<text transform="translate(285.84,1866.70) scale(0.5142,0.5072)" font-size="100" fill="#000">Ace-mNeon</text>
<path d="M261.7,1876.1 l15.2,19.6 l-15.2,19.6 l-15.2,-19.6 z" fill="#a30000" stroke="#404040" stroke-width="1.2"/>
<text transform="translate(285.84,1913.50) scale(0.5118,0.5139)" font-size="100" fill="#000">Ace-7aa-mScarlet</text>
<path d="M261.7,1923.1 l15.2,19.6 l-15.2,19.6 l-15.2,-19.6 z" fill="#e65c5c" stroke="#404040" stroke-width="1.2"/>
<text transform="translate(285.84,1960.70) scale(0.5118,0.5109)" font-size="100" fill="#000">Ace-8aa-mScarlet</text>
<text transform="translate(148.07,1735.08) scale(0.5106,0.5169)" font-size="100" fill="#000">16</text>
<text transform="translate(147.85,1869.00) scale(0.5137,0.5214)" font-size="100" fill="#000">12</text>
<text transform="translate(175.35,2001.08) scale(0.5213,0.5183)" font-size="100" fill="#000">8</text>
<text transform="translate(175.94,2135.00) scale(0.5060,0.5232)" font-size="100" fill="#000">4</text>
<text transform="translate(175.74,2264.58) scale(0.5158,0.5183)" font-size="100" fill="#000">0</text>
<text transform="translate(178.35,2316.98) scale(0.4884,0.5169)" font-size="100" fill="#000">0.01</text>
<text transform="translate(484.11,2316.98) scale(0.4715,0.5169)" font-size="100" fill="#000">0.1</text>
<text transform="translate(797.46,2317.10) scale(0.4186,0.5203)" font-size="100" fill="#000">1</text>
<text transform="translate(883.61,2317.10) scale(0.5582,0.5186)" font-size="100" fill="#000">2</text>
<text transform="translate(831.45,2388.17) scale(0.5073,0.5254)" font-size="100" fill="#000">×10</text>
<text transform="translate(917.88,2367.49) scale(0.5149,0.5141)" font-size="100" fill="#000">8</text>
<text transform="translate(312.38,2454.20) scale(0.5155,0.5217)" font-size="100" fill="#000">Brightness (photons/s)</text>
<text transform="translate(847.91,2056.58) scale(0.5097,0.5211)" font-size="100" fill="#000">90</text>
<text transform="translate(849.84,2103.58) scale(0.4917,0.5183)" font-size="100" fill="#000">70</text>
<text transform="translate(847.76,2152.88) scale(0.5111,0.5155)" font-size="100" fill="#000">50</text>
<text transform="translate(847.24,2197.39) scale(0.5159,0.5070)" font-size="100" fill="#000">30</text>
<text transform="translate(850.35,2242.89) scale(0.4870,0.5070)" font-size="100" fill="#000">10</text>
<text transform="translate(763.11,2242.23) scale(0.5681,0.5149)" font-size="100" fill="#000"><tspan font-style="italic">d</tspan>′</text>
<text transform="translate(804.24,2242.97) scale(0.6330,0.4688)" font-size="100" fill="#000">=</text>
<text transform="translate(-2.96,1743.18) scale(0.6273,0.6107)" font-size="100" fill="#000">(d)</text>
<text transform="translate(111.10,2104.03) rotate(-90) scale(0.5143,0.5333)" font-size="100" fill="#000">|Δ<tspan font-style="italic">F/F</tspan>|</text>
<text transform="translate(111.10,1956.59) rotate(-90) scale(0.5484,0.5333)" font-size="100" fill="#000">(%)</text>
</svg></body></html>
